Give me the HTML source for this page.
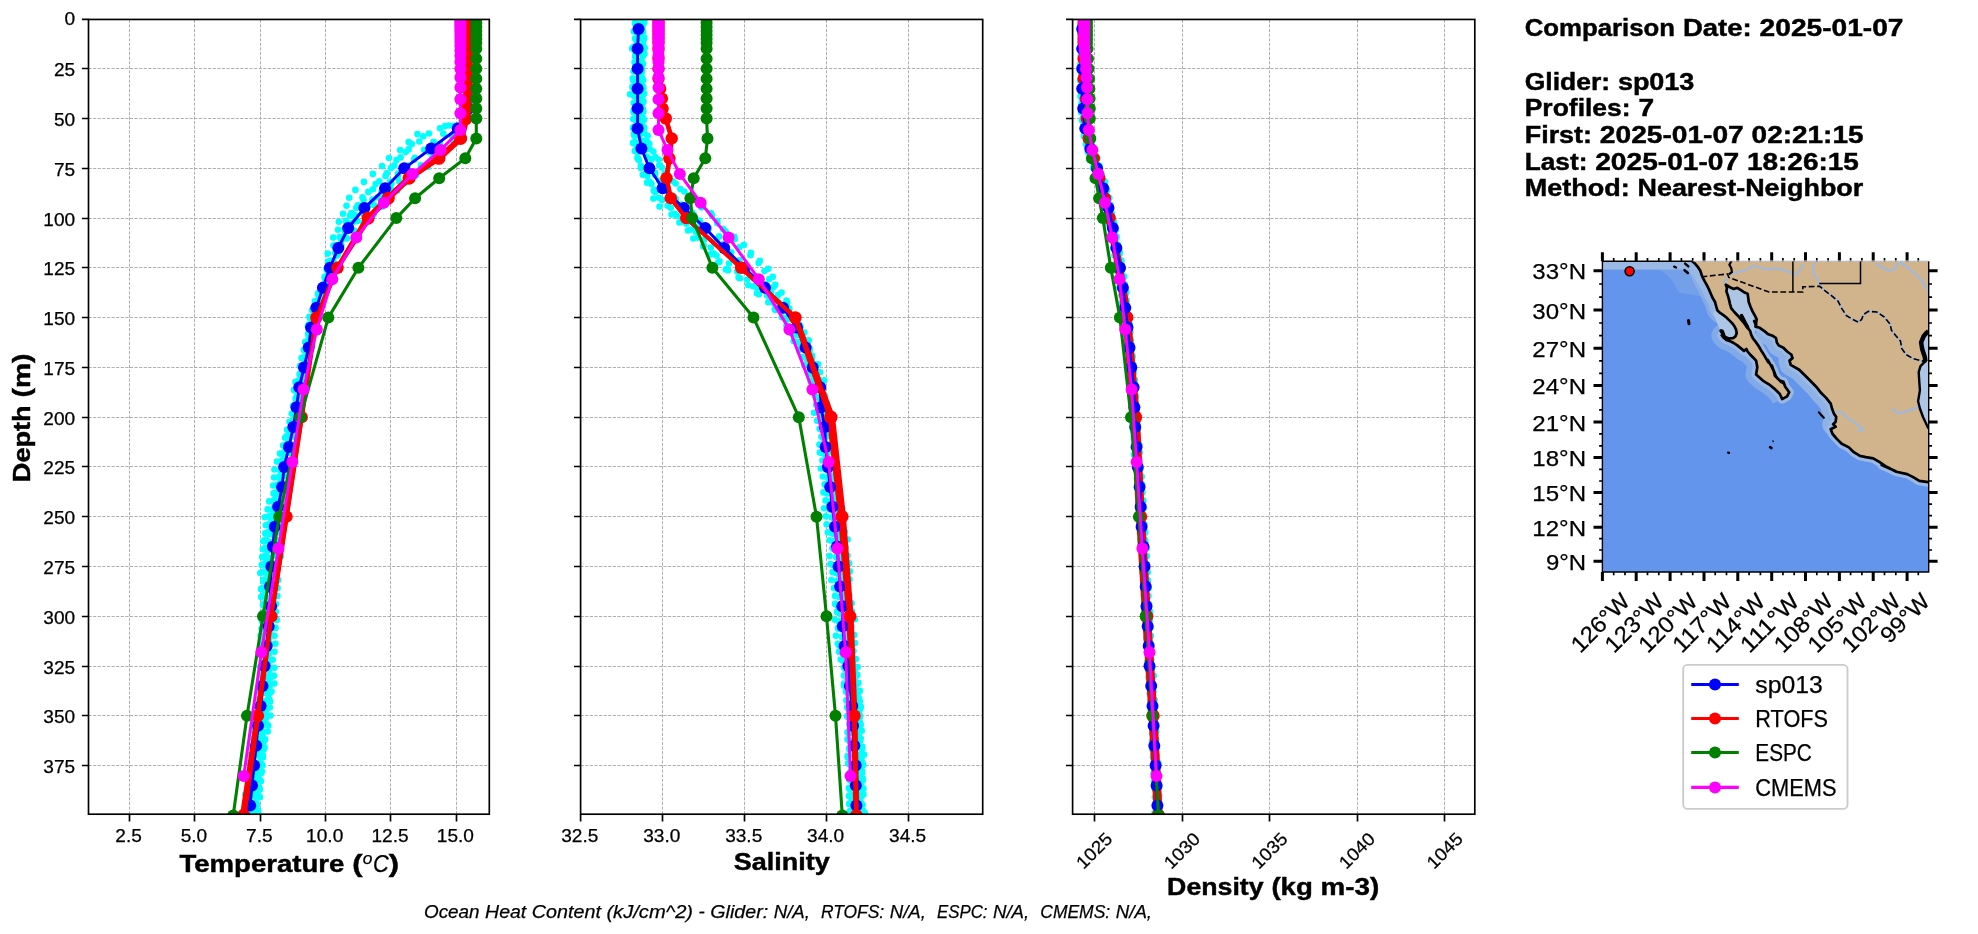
<!DOCTYPE html>
<html><head><meta charset="utf-8"><title>Glider model comparison</title><style>html,body{margin:0;padding:0;background:#fff}svg{display:block;will-change:transform}</style></head><body>
<svg width="1978" height="934" viewBox="0 0 1978 934" font-family="Liberation Sans, sans-serif" fill="#000">
<rect width="1978" height="934" fill="#fff"/>
<defs>
<clipPath id="c0"><rect x="88.5" y="19.45" width="400.8" height="794.75"/></clipPath>
<clipPath id="c1"><rect x="580.6" y="19.45" width="402.1" height="794.75"/></clipPath>
<clipPath id="c2"><rect x="1072.6" y="19.45" width="402.20000000000005" height="794.75"/></clipPath>
</defs>
<path d="M88.5 68.5H489.3M88.5 118.5H489.3M88.5 168.5H489.3M88.5 218.5H489.3M88.5 267.5H489.3M88.5 317.5H489.3M88.5 367.5H489.3M88.5 417.5H489.3M88.5 466.5H489.3M88.5 516.5H489.3M88.5 566.5H489.3M88.5 616.5H489.3M88.5 666.5H489.3M88.5 715.5H489.3M88.5 765.5H489.3M129.5 814.2V19.45M194.5 814.2V19.45M260.5 814.2V19.45M325.5 814.2V19.45M390.5 814.2V19.45M456.5 814.2V19.45" stroke="#a6a6a6" stroke-width="0.9" stroke-dasharray="3.2 1.4" fill="none"/>
<path d="M580.6 68.5H982.7M580.6 118.5H982.7M580.6 168.5H982.7M580.6 218.5H982.7M580.6 267.5H982.7M580.6 317.5H982.7M580.6 367.5H982.7M580.6 417.5H982.7M580.6 466.5H982.7M580.6 516.5H982.7M580.6 566.5H982.7M580.6 616.5H982.7M580.6 666.5H982.7M580.6 715.5H982.7M580.6 765.5H982.7M662.5 814.2V19.45M744.5 814.2V19.45M826.5 814.2V19.45M908.5 814.2V19.45" stroke="#a6a6a6" stroke-width="0.9" stroke-dasharray="3.2 1.4" fill="none"/>
<path d="M1072.6 68.5H1474.8M1072.6 118.5H1474.8M1072.6 168.5H1474.8M1072.6 218.5H1474.8M1072.6 267.5H1474.8M1072.6 317.5H1474.8M1072.6 367.5H1474.8M1072.6 417.5H1474.8M1072.6 466.5H1474.8M1072.6 516.5H1474.8M1072.6 566.5H1474.8M1072.6 616.5H1474.8M1072.6 666.5H1474.8M1072.6 715.5H1474.8M1072.6 765.5H1474.8M1094.5 814.2V19.45M1182.5 814.2V19.45M1269.5 814.2V19.45M1357.5 814.2V19.45M1444.5 814.2V19.45" stroke="#a6a6a6" stroke-width="0.9" stroke-dasharray="3.2 1.4" fill="none"/>
<g clip-path="url(#c0)">
<g fill="#00ffff"><circle cx="469.2" cy="23.6" r="3.3"/><circle cx="468.6" cy="31.5" r="3.3"/><circle cx="467.9" cy="39.5" r="3.3"/><circle cx="468.4" cy="47.4" r="3.3"/><circle cx="467.9" cy="55.4" r="3.3"/><circle cx="468.2" cy="63.4" r="3.3"/><circle cx="467.8" cy="71.3" r="3.3"/><circle cx="468.3" cy="79.3" r="3.3"/><circle cx="469.1" cy="87.3" r="3.3"/><circle cx="468.6" cy="95.2" r="3.3"/><circle cx="468.0" cy="103.2" r="3.3"/><circle cx="465.8" cy="111.2" r="3.3"/><circle cx="463.1" cy="119.1" r="3.3"/><circle cx="462.7" cy="127.1" r="3.3"/><circle cx="460.9" cy="135.0" r="3.3"/><circle cx="455.1" cy="143.0" r="3.3"/><circle cx="443.7" cy="151.0" r="3.3"/><circle cx="437.7" cy="158.9" r="3.3"/><circle cx="427.9" cy="166.9" r="3.3"/><circle cx="416.2" cy="174.9" r="3.3"/><circle cx="405.0" cy="182.8" r="3.3"/><circle cx="397.2" cy="190.8" r="3.3"/><circle cx="389.8" cy="198.8" r="3.3"/><circle cx="382.1" cy="206.7" r="3.3"/><circle cx="373.5" cy="214.7" r="3.3"/><circle cx="363.4" cy="222.7" r="3.3"/><circle cx="354.4" cy="230.6" r="3.3"/><circle cx="347.0" cy="238.6" r="3.3"/><circle cx="340.9" cy="246.5" r="3.3"/><circle cx="337.8" cy="254.5" r="3.3"/><circle cx="332.8" cy="262.5" r="3.3"/><circle cx="328.5" cy="270.4" r="3.3"/><circle cx="325.1" cy="278.4" r="3.3"/><circle cx="323.1" cy="286.4" r="3.3"/><circle cx="317.9" cy="294.3" r="3.3"/><circle cx="316.3" cy="302.3" r="3.3"/><circle cx="312.1" cy="310.3" r="3.3"/><circle cx="310.1" cy="318.2" r="3.3"/><circle cx="307.9" cy="326.2" r="3.3"/><circle cx="308.2" cy="334.1" r="3.3"/><circle cx="305.2" cy="342.1" r="3.3"/><circle cx="303.7" cy="350.1" r="3.3"/><circle cx="301.5" cy="358.0" r="3.3"/><circle cx="300.0" cy="366.0" r="3.3"/><circle cx="299.7" cy="374.0" r="3.3"/><circle cx="295.5" cy="381.9" r="3.3"/><circle cx="294.0" cy="389.9" r="3.3"/><circle cx="296.2" cy="397.9" r="3.3"/><circle cx="293.0" cy="405.8" r="3.3"/><circle cx="291.7" cy="413.8" r="3.3"/><circle cx="289.5" cy="421.8" r="3.3"/><circle cx="287.1" cy="429.7" r="3.3"/><circle cx="285.1" cy="437.7" r="3.3"/><circle cx="283.1" cy="445.6" r="3.3"/><circle cx="279.9" cy="453.6" r="3.3"/><circle cx="277.0" cy="461.6" r="3.3"/><circle cx="274.4" cy="469.5" r="3.3"/><circle cx="274.1" cy="477.5" r="3.3"/><circle cx="273.2" cy="485.5" r="3.3"/><circle cx="273.6" cy="493.4" r="3.3"/><circle cx="269.2" cy="501.4" r="3.3"/><circle cx="267.6" cy="509.4" r="3.3"/><circle cx="264.9" cy="517.3" r="3.3"/><circle cx="265.8" cy="525.3" r="3.3"/><circle cx="265.2" cy="533.2" r="3.3"/><circle cx="263.1" cy="541.2" r="3.3"/><circle cx="262.8" cy="549.2" r="3.3"/><circle cx="262.2" cy="557.1" r="3.3"/><circle cx="261.7" cy="565.1" r="3.3"/><circle cx="260.3" cy="573.1" r="3.3"/><circle cx="263.3" cy="581.0" r="3.3"/><circle cx="261.0" cy="589.0" r="3.3"/><circle cx="261.2" cy="597.0" r="3.3"/><circle cx="262.9" cy="604.9" r="3.3"/><circle cx="262.4" cy="612.9" r="3.3"/><circle cx="262.0" cy="620.9" r="3.3"/><circle cx="261.6" cy="628.8" r="3.3"/><circle cx="262.3" cy="636.8" r="3.3"/><circle cx="262.5" cy="644.7" r="3.3"/><circle cx="262.6" cy="652.7" r="3.3"/><circle cx="262.4" cy="660.7" r="3.3"/><circle cx="261.9" cy="668.6" r="3.3"/><circle cx="262.4" cy="676.6" r="3.3"/><circle cx="262.6" cy="684.6" r="3.3"/><circle cx="261.1" cy="692.5" r="3.3"/><circle cx="259.8" cy="700.5" r="3.3"/><circle cx="258.2" cy="708.5" r="3.3"/><circle cx="258.9" cy="716.4" r="3.3"/><circle cx="258.8" cy="724.4" r="3.3"/><circle cx="255.1" cy="732.3" r="3.3"/><circle cx="256.1" cy="740.3" r="3.3"/><circle cx="254.1" cy="748.3" r="3.3"/><circle cx="253.1" cy="756.2" r="3.3"/><circle cx="253.4" cy="764.2" r="3.3"/><circle cx="253.8" cy="772.2" r="3.3"/><circle cx="249.3" cy="780.1" r="3.3"/><circle cx="250.4" cy="788.1" r="3.3"/><circle cx="249.6" cy="796.1" r="3.3"/><circle cx="248.2" cy="804.0" r="3.3"/><circle cx="248.2" cy="812.0" r="3.3"/><circle cx="468.8" cy="22.0" r="3.3"/><circle cx="467.7" cy="30.0" r="3.3"/><circle cx="466.8" cy="37.9" r="3.3"/><circle cx="468.6" cy="45.9" r="3.3"/><circle cx="469.1" cy="53.9" r="3.3"/><circle cx="467.1" cy="61.8" r="3.3"/><circle cx="466.2" cy="69.8" r="3.3"/><circle cx="467.4" cy="77.8" r="3.3"/><circle cx="467.4" cy="85.7" r="3.3"/><circle cx="467.1" cy="93.7" r="3.3"/><circle cx="468.5" cy="101.6" r="3.3"/><circle cx="465.4" cy="109.6" r="3.3"/><circle cx="463.7" cy="117.6" r="3.3"/><circle cx="458.7" cy="125.5" r="3.3"/><circle cx="457.2" cy="133.5" r="3.3"/><circle cx="453.5" cy="141.5" r="3.3"/><circle cx="443.4" cy="149.4" r="3.3"/><circle cx="432.4" cy="157.4" r="3.3"/><circle cx="420.9" cy="165.4" r="3.3"/><circle cx="409.5" cy="173.3" r="3.3"/><circle cx="399.0" cy="181.3" r="3.3"/><circle cx="391.4" cy="189.3" r="3.3"/><circle cx="382.6" cy="197.2" r="3.3"/><circle cx="374.4" cy="205.2" r="3.3"/><circle cx="365.9" cy="213.1" r="3.3"/><circle cx="357.3" cy="221.1" r="3.3"/><circle cx="350.6" cy="229.1" r="3.3"/><circle cx="344.2" cy="237.0" r="3.3"/><circle cx="341.2" cy="245.0" r="3.3"/><circle cx="335.2" cy="253.0" r="3.3"/><circle cx="330.9" cy="260.9" r="3.3"/><circle cx="327.4" cy="268.9" r="3.3"/><circle cx="324.7" cy="276.9" r="3.3"/><circle cx="322.8" cy="284.8" r="3.3"/><circle cx="318.8" cy="292.8" r="3.3"/><circle cx="317.0" cy="300.7" r="3.3"/><circle cx="315.9" cy="308.7" r="3.3"/><circle cx="309.4" cy="316.7" r="3.3"/><circle cx="308.8" cy="324.6" r="3.3"/><circle cx="308.9" cy="332.6" r="3.3"/><circle cx="308.2" cy="340.6" r="3.3"/><circle cx="307.0" cy="348.5" r="3.3"/><circle cx="304.5" cy="356.5" r="3.3"/><circle cx="303.7" cy="364.5" r="3.3"/><circle cx="301.6" cy="372.4" r="3.3"/><circle cx="298.9" cy="380.4" r="3.3"/><circle cx="300.2" cy="388.4" r="3.3"/><circle cx="297.1" cy="396.3" r="3.3"/><circle cx="295.1" cy="404.3" r="3.3"/><circle cx="294.4" cy="412.2" r="3.3"/><circle cx="293.0" cy="420.2" r="3.3"/><circle cx="291.6" cy="428.2" r="3.3"/><circle cx="287.0" cy="436.1" r="3.3"/><circle cx="287.2" cy="444.1" r="3.3"/><circle cx="286.7" cy="452.1" r="3.3"/><circle cx="282.4" cy="460.0" r="3.3"/><circle cx="281.4" cy="468.0" r="3.3"/><circle cx="281.3" cy="476.0" r="3.3"/><circle cx="280.1" cy="483.9" r="3.3"/><circle cx="279.4" cy="491.9" r="3.3"/><circle cx="274.4" cy="499.8" r="3.3"/><circle cx="273.9" cy="507.8" r="3.3"/><circle cx="272.2" cy="515.8" r="3.3"/><circle cx="271.6" cy="523.7" r="3.3"/><circle cx="270.7" cy="531.7" r="3.3"/><circle cx="266.0" cy="539.7" r="3.3"/><circle cx="268.9" cy="547.6" r="3.3"/><circle cx="265.6" cy="555.6" r="3.3"/><circle cx="266.9" cy="563.6" r="3.3"/><circle cx="264.0" cy="571.5" r="3.3"/><circle cx="265.0" cy="579.5" r="3.3"/><circle cx="265.3" cy="587.5" r="3.3"/><circle cx="263.8" cy="595.4" r="3.3"/><circle cx="264.3" cy="603.4" r="3.3"/><circle cx="265.1" cy="611.3" r="3.3"/><circle cx="263.6" cy="619.3" r="3.3"/><circle cx="263.0" cy="627.3" r="3.3"/><circle cx="264.2" cy="635.2" r="3.3"/><circle cx="263.4" cy="643.2" r="3.3"/><circle cx="261.8" cy="651.2" r="3.3"/><circle cx="264.5" cy="659.1" r="3.3"/><circle cx="260.3" cy="667.1" r="3.3"/><circle cx="262.1" cy="675.1" r="3.3"/><circle cx="259.9" cy="683.0" r="3.3"/><circle cx="259.3" cy="691.0" r="3.3"/><circle cx="258.9" cy="698.9" r="3.3"/><circle cx="257.4" cy="706.9" r="3.3"/><circle cx="256.6" cy="714.9" r="3.3"/><circle cx="253.2" cy="722.8" r="3.3"/><circle cx="252.1" cy="730.8" r="3.3"/><circle cx="253.3" cy="738.8" r="3.3"/><circle cx="250.8" cy="746.7" r="3.3"/><circle cx="249.8" cy="754.7" r="3.3"/><circle cx="248.4" cy="762.7" r="3.3"/><circle cx="250.1" cy="770.6" r="3.3"/><circle cx="248.7" cy="778.6" r="3.3"/><circle cx="248.5" cy="786.6" r="3.3"/><circle cx="245.3" cy="794.5" r="3.3"/><circle cx="245.4" cy="802.5" r="3.3"/><circle cx="244.1" cy="810.4" r="3.3"/><circle cx="468.9" cy="22.3" r="3.3"/><circle cx="465.5" cy="30.2" r="3.3"/><circle cx="467.3" cy="38.2" r="3.3"/><circle cx="468.7" cy="46.2" r="3.3"/><circle cx="469.7" cy="54.1" r="3.3"/><circle cx="467.6" cy="62.1" r="3.3"/><circle cx="468.4" cy="70.1" r="3.3"/><circle cx="468.7" cy="78.0" r="3.3"/><circle cx="469.5" cy="86.0" r="3.3"/><circle cx="469.9" cy="94.0" r="3.3"/><circle cx="468.2" cy="101.9" r="3.3"/><circle cx="466.6" cy="109.9" r="3.3"/><circle cx="463.8" cy="117.9" r="3.3"/><circle cx="453.8" cy="125.8" r="3.3"/><circle cx="443.3" cy="133.8" r="3.3"/><circle cx="433.5" cy="141.7" r="3.3"/><circle cx="424.1" cy="149.7" r="3.3"/><circle cx="414.7" cy="157.7" r="3.3"/><circle cx="407.7" cy="165.6" r="3.3"/><circle cx="397.9" cy="173.6" r="3.3"/><circle cx="390.1" cy="181.6" r="3.3"/><circle cx="383.0" cy="189.5" r="3.3"/><circle cx="377.5" cy="197.5" r="3.3"/><circle cx="368.7" cy="205.5" r="3.3"/><circle cx="363.4" cy="213.4" r="3.3"/><circle cx="354.7" cy="221.4" r="3.3"/><circle cx="350.0" cy="229.3" r="3.3"/><circle cx="345.9" cy="237.3" r="3.3"/><circle cx="341.0" cy="245.3" r="3.3"/><circle cx="338.1" cy="253.2" r="3.3"/><circle cx="333.3" cy="261.2" r="3.3"/><circle cx="330.1" cy="269.2" r="3.3"/><circle cx="327.0" cy="277.1" r="3.3"/><circle cx="325.0" cy="285.1" r="3.3"/><circle cx="322.8" cy="293.1" r="3.3"/><circle cx="318.9" cy="301.0" r="3.3"/><circle cx="315.5" cy="309.0" r="3.3"/><circle cx="314.9" cy="317.0" r="3.3"/><circle cx="313.3" cy="324.9" r="3.3"/><circle cx="310.2" cy="332.9" r="3.3"/><circle cx="310.9" cy="340.8" r="3.3"/><circle cx="308.3" cy="348.8" r="3.3"/><circle cx="305.7" cy="356.8" r="3.3"/><circle cx="304.7" cy="364.7" r="3.3"/><circle cx="304.0" cy="372.7" r="3.3"/><circle cx="301.1" cy="380.7" r="3.3"/><circle cx="299.1" cy="388.6" r="3.3"/><circle cx="297.9" cy="396.6" r="3.3"/><circle cx="296.7" cy="404.6" r="3.3"/><circle cx="294.6" cy="412.5" r="3.3"/><circle cx="292.2" cy="420.5" r="3.3"/><circle cx="292.2" cy="428.4" r="3.3"/><circle cx="288.9" cy="436.4" r="3.3"/><circle cx="287.3" cy="444.4" r="3.3"/><circle cx="284.1" cy="452.3" r="3.3"/><circle cx="282.9" cy="460.3" r="3.3"/><circle cx="281.3" cy="468.3" r="3.3"/><circle cx="279.5" cy="476.2" r="3.3"/><circle cx="278.0" cy="484.2" r="3.3"/><circle cx="276.4" cy="492.2" r="3.3"/><circle cx="274.4" cy="500.1" r="3.3"/><circle cx="274.4" cy="508.1" r="3.3"/><circle cx="269.6" cy="516.1" r="3.3"/><circle cx="269.2" cy="524.0" r="3.3"/><circle cx="268.4" cy="532.0" r="3.3"/><circle cx="265.1" cy="539.9" r="3.3"/><circle cx="265.2" cy="547.9" r="3.3"/><circle cx="266.2" cy="555.9" r="3.3"/><circle cx="263.8" cy="563.8" r="3.3"/><circle cx="264.3" cy="571.8" r="3.3"/><circle cx="263.3" cy="579.8" r="3.3"/><circle cx="262.4" cy="587.7" r="3.3"/><circle cx="262.6" cy="595.7" r="3.3"/><circle cx="263.8" cy="603.7" r="3.3"/><circle cx="264.7" cy="611.6" r="3.3"/><circle cx="262.0" cy="619.6" r="3.3"/><circle cx="264.1" cy="627.5" r="3.3"/><circle cx="260.6" cy="635.5" r="3.3"/><circle cx="262.1" cy="643.5" r="3.3"/><circle cx="263.3" cy="651.4" r="3.3"/><circle cx="263.8" cy="659.4" r="3.3"/><circle cx="261.3" cy="667.4" r="3.3"/><circle cx="262.2" cy="675.3" r="3.3"/><circle cx="261.5" cy="683.3" r="3.3"/><circle cx="260.0" cy="691.3" r="3.3"/><circle cx="259.8" cy="699.2" r="3.3"/><circle cx="259.0" cy="707.2" r="3.3"/><circle cx="258.4" cy="715.2" r="3.3"/><circle cx="256.2" cy="723.1" r="3.3"/><circle cx="254.6" cy="731.1" r="3.3"/><circle cx="256.0" cy="739.0" r="3.3"/><circle cx="254.5" cy="747.0" r="3.3"/><circle cx="253.8" cy="755.0" r="3.3"/><circle cx="251.9" cy="762.9" r="3.3"/><circle cx="253.9" cy="770.9" r="3.3"/><circle cx="253.5" cy="778.9" r="3.3"/><circle cx="251.9" cy="786.8" r="3.3"/><circle cx="250.4" cy="794.8" r="3.3"/><circle cx="250.9" cy="802.8" r="3.3"/><circle cx="249.4" cy="810.7" r="3.3"/><circle cx="469.8" cy="24.3" r="3.3"/><circle cx="470.2" cy="32.2" r="3.3"/><circle cx="468.4" cy="40.2" r="3.3"/><circle cx="469.3" cy="48.2" r="3.3"/><circle cx="469.7" cy="56.1" r="3.3"/><circle cx="470.3" cy="64.1" r="3.3"/><circle cx="469.5" cy="72.1" r="3.3"/><circle cx="469.4" cy="80.0" r="3.3"/><circle cx="468.6" cy="88.0" r="3.3"/><circle cx="469.1" cy="96.0" r="3.3"/><circle cx="470.2" cy="103.9" r="3.3"/><circle cx="467.5" cy="111.9" r="3.3"/><circle cx="462.2" cy="119.8" r="3.3"/><circle cx="458.2" cy="127.8" r="3.3"/><circle cx="451.8" cy="135.8" r="3.3"/><circle cx="439.8" cy="143.7" r="3.3"/><circle cx="428.5" cy="151.7" r="3.3"/><circle cx="414.2" cy="159.7" r="3.3"/><circle cx="406.3" cy="167.6" r="3.3"/><circle cx="398.2" cy="175.6" r="3.3"/><circle cx="391.4" cy="183.6" r="3.3"/><circle cx="381.7" cy="191.5" r="3.3"/><circle cx="372.4" cy="199.5" r="3.3"/><circle cx="364.6" cy="207.4" r="3.3"/><circle cx="355.1" cy="215.4" r="3.3"/><circle cx="351.2" cy="223.4" r="3.3"/><circle cx="346.1" cy="231.3" r="3.3"/><circle cx="340.9" cy="239.3" r="3.3"/><circle cx="339.2" cy="247.3" r="3.3"/><circle cx="336.3" cy="255.2" r="3.3"/><circle cx="329.7" cy="263.2" r="3.3"/><circle cx="327.6" cy="271.2" r="3.3"/><circle cx="325.8" cy="279.1" r="3.3"/><circle cx="322.8" cy="287.1" r="3.3"/><circle cx="319.4" cy="295.1" r="3.3"/><circle cx="316.0" cy="303.0" r="3.3"/><circle cx="316.9" cy="311.0" r="3.3"/><circle cx="313.6" cy="318.9" r="3.3"/><circle cx="309.7" cy="326.9" r="3.3"/><circle cx="308.5" cy="334.9" r="3.3"/><circle cx="310.5" cy="342.8" r="3.3"/><circle cx="307.7" cy="350.8" r="3.3"/><circle cx="306.6" cy="358.8" r="3.3"/><circle cx="303.6" cy="366.7" r="3.3"/><circle cx="299.9" cy="374.7" r="3.3"/><circle cx="299.2" cy="382.7" r="3.3"/><circle cx="295.5" cy="390.6" r="3.3"/><circle cx="295.7" cy="398.6" r="3.3"/><circle cx="295.1" cy="406.5" r="3.3"/><circle cx="294.4" cy="414.5" r="3.3"/><circle cx="291.6" cy="422.5" r="3.3"/><circle cx="290.2" cy="430.4" r="3.3"/><circle cx="288.7" cy="438.4" r="3.3"/><circle cx="286.5" cy="446.4" r="3.3"/><circle cx="284.6" cy="454.3" r="3.3"/><circle cx="282.0" cy="462.3" r="3.3"/><circle cx="280.2" cy="470.3" r="3.3"/><circle cx="280.2" cy="478.2" r="3.3"/><circle cx="278.1" cy="486.2" r="3.3"/><circle cx="275.4" cy="494.2" r="3.3"/><circle cx="273.7" cy="502.1" r="3.3"/><circle cx="272.7" cy="510.1" r="3.3"/><circle cx="271.0" cy="518.0" r="3.3"/><circle cx="269.9" cy="526.0" r="3.3"/><circle cx="269.0" cy="534.0" r="3.3"/><circle cx="268.4" cy="541.9" r="3.3"/><circle cx="267.5" cy="549.9" r="3.3"/><circle cx="265.8" cy="557.9" r="3.3"/><circle cx="267.0" cy="565.8" r="3.3"/><circle cx="267.2" cy="573.8" r="3.3"/><circle cx="266.1" cy="581.8" r="3.3"/><circle cx="265.5" cy="589.7" r="3.3"/><circle cx="266.7" cy="597.7" r="3.3"/><circle cx="265.8" cy="605.6" r="3.3"/><circle cx="264.2" cy="613.6" r="3.3"/><circle cx="265.8" cy="621.6" r="3.3"/><circle cx="264.8" cy="629.5" r="3.3"/><circle cx="266.5" cy="637.5" r="3.3"/><circle cx="264.8" cy="645.5" r="3.3"/><circle cx="263.3" cy="653.4" r="3.3"/><circle cx="264.9" cy="661.4" r="3.3"/><circle cx="267.6" cy="669.4" r="3.3"/><circle cx="265.6" cy="677.3" r="3.3"/><circle cx="263.9" cy="685.3" r="3.3"/><circle cx="263.8" cy="693.3" r="3.3"/><circle cx="264.5" cy="701.2" r="3.3"/><circle cx="263.6" cy="709.2" r="3.3"/><circle cx="262.4" cy="717.1" r="3.3"/><circle cx="262.8" cy="725.1" r="3.3"/><circle cx="261.4" cy="733.1" r="3.3"/><circle cx="260.0" cy="741.0" r="3.3"/><circle cx="259.9" cy="749.0" r="3.3"/><circle cx="260.2" cy="757.0" r="3.3"/><circle cx="258.7" cy="764.9" r="3.3"/><circle cx="258.0" cy="772.9" r="3.3"/><circle cx="255.1" cy="780.9" r="3.3"/><circle cx="255.4" cy="788.8" r="3.3"/><circle cx="255.5" cy="796.8" r="3.3"/><circle cx="254.2" cy="804.7" r="3.3"/><circle cx="255.6" cy="812.7" r="3.3"/><circle cx="472.6" cy="22.0" r="3.3"/><circle cx="469.3" cy="30.0" r="3.3"/><circle cx="469.2" cy="37.9" r="3.3"/><circle cx="469.6" cy="45.9" r="3.3"/><circle cx="470.7" cy="53.9" r="3.3"/><circle cx="469.6" cy="61.8" r="3.3"/><circle cx="469.7" cy="69.8" r="3.3"/><circle cx="469.7" cy="77.8" r="3.3"/><circle cx="468.8" cy="85.7" r="3.3"/><circle cx="470.2" cy="93.7" r="3.3"/><circle cx="468.5" cy="101.6" r="3.3"/><circle cx="468.4" cy="109.6" r="3.3"/><circle cx="463.2" cy="117.6" r="3.3"/><circle cx="448.8" cy="125.5" r="3.3"/><circle cx="428.9" cy="133.5" r="3.3"/><circle cx="419.3" cy="141.5" r="3.3"/><circle cx="408.6" cy="149.4" r="3.3"/><circle cx="400.6" cy="157.4" r="3.3"/><circle cx="394.3" cy="165.4" r="3.3"/><circle cx="386.7" cy="173.3" r="3.3"/><circle cx="379.3" cy="181.3" r="3.3"/><circle cx="372.9" cy="189.3" r="3.3"/><circle cx="362.5" cy="197.2" r="3.3"/><circle cx="357.9" cy="205.2" r="3.3"/><circle cx="351.4" cy="213.1" r="3.3"/><circle cx="345.8" cy="221.1" r="3.3"/><circle cx="344.5" cy="229.1" r="3.3"/><circle cx="339.7" cy="237.0" r="3.3"/><circle cx="335.8" cy="245.0" r="3.3"/><circle cx="336.7" cy="253.0" r="3.3"/><circle cx="332.1" cy="260.9" r="3.3"/><circle cx="329.7" cy="268.9" r="3.3"/><circle cx="325.7" cy="276.9" r="3.3"/><circle cx="322.9" cy="284.8" r="3.3"/><circle cx="321.6" cy="292.8" r="3.3"/><circle cx="316.2" cy="300.7" r="3.3"/><circle cx="314.5" cy="308.7" r="3.3"/><circle cx="312.5" cy="316.7" r="3.3"/><circle cx="311.8" cy="324.6" r="3.3"/><circle cx="310.2" cy="332.6" r="3.3"/><circle cx="308.6" cy="340.6" r="3.3"/><circle cx="308.3" cy="348.5" r="3.3"/><circle cx="307.5" cy="356.5" r="3.3"/><circle cx="303.2" cy="364.5" r="3.3"/><circle cx="303.5" cy="372.4" r="3.3"/><circle cx="299.9" cy="380.4" r="3.3"/><circle cx="300.9" cy="388.4" r="3.3"/><circle cx="297.7" cy="396.3" r="3.3"/><circle cx="297.2" cy="404.3" r="3.3"/><circle cx="295.6" cy="412.2" r="3.3"/><circle cx="295.5" cy="420.2" r="3.3"/><circle cx="293.4" cy="428.2" r="3.3"/><circle cx="291.1" cy="436.1" r="3.3"/><circle cx="289.9" cy="444.1" r="3.3"/><circle cx="288.3" cy="452.1" r="3.3"/><circle cx="284.6" cy="460.0" r="3.3"/><circle cx="283.9" cy="468.0" r="3.3"/><circle cx="283.1" cy="476.0" r="3.3"/><circle cx="282.4" cy="483.9" r="3.3"/><circle cx="280.2" cy="491.9" r="3.3"/><circle cx="281.5" cy="499.8" r="3.3"/><circle cx="278.4" cy="507.8" r="3.3"/><circle cx="277.0" cy="515.8" r="3.3"/><circle cx="275.1" cy="523.7" r="3.3"/><circle cx="274.3" cy="531.7" r="3.3"/><circle cx="274.8" cy="539.7" r="3.3"/><circle cx="276.0" cy="547.6" r="3.3"/><circle cx="274.6" cy="555.6" r="3.3"/><circle cx="273.4" cy="563.6" r="3.3"/><circle cx="273.2" cy="571.5" r="3.3"/><circle cx="272.1" cy="579.5" r="3.3"/><circle cx="274.3" cy="587.5" r="3.3"/><circle cx="273.4" cy="595.4" r="3.3"/><circle cx="274.3" cy="603.4" r="3.3"/><circle cx="272.8" cy="611.3" r="3.3"/><circle cx="270.8" cy="619.3" r="3.3"/><circle cx="269.9" cy="627.3" r="3.3"/><circle cx="271.3" cy="635.2" r="3.3"/><circle cx="269.6" cy="643.2" r="3.3"/><circle cx="268.6" cy="651.2" r="3.3"/><circle cx="268.8" cy="659.1" r="3.3"/><circle cx="268.7" cy="667.1" r="3.3"/><circle cx="269.9" cy="675.1" r="3.3"/><circle cx="268.7" cy="683.0" r="3.3"/><circle cx="267.5" cy="691.0" r="3.3"/><circle cx="268.2" cy="698.9" r="3.3"/><circle cx="265.0" cy="706.9" r="3.3"/><circle cx="265.4" cy="714.9" r="3.3"/><circle cx="263.2" cy="722.8" r="3.3"/><circle cx="261.9" cy="730.8" r="3.3"/><circle cx="260.8" cy="738.8" r="3.3"/><circle cx="261.4" cy="746.7" r="3.3"/><circle cx="258.3" cy="754.7" r="3.3"/><circle cx="256.4" cy="762.7" r="3.3"/><circle cx="256.4" cy="770.6" r="3.3"/><circle cx="256.8" cy="778.6" r="3.3"/><circle cx="253.5" cy="786.6" r="3.3"/><circle cx="253.9" cy="794.5" r="3.3"/><circle cx="254.3" cy="802.5" r="3.3"/><circle cx="254.0" cy="810.4" r="3.3"/><circle cx="471.4" cy="24.7" r="3.3"/><circle cx="470.5" cy="32.7" r="3.3"/><circle cx="471.5" cy="40.6" r="3.3"/><circle cx="468.1" cy="48.6" r="3.3"/><circle cx="469.8" cy="56.5" r="3.3"/><circle cx="470.8" cy="64.5" r="3.3"/><circle cx="471.2" cy="72.5" r="3.3"/><circle cx="473.0" cy="80.4" r="3.3"/><circle cx="471.0" cy="88.4" r="3.3"/><circle cx="471.8" cy="96.4" r="3.3"/><circle cx="471.1" cy="104.3" r="3.3"/><circle cx="469.2" cy="112.3" r="3.3"/><circle cx="461.8" cy="120.3" r="3.3"/><circle cx="440.0" cy="128.2" r="3.3"/><circle cx="423.2" cy="136.2" r="3.3"/><circle cx="411.8" cy="144.1" r="3.3"/><circle cx="405.6" cy="152.1" r="3.3"/><circle cx="396.5" cy="160.1" r="3.3"/><circle cx="390.9" cy="168.0" r="3.3"/><circle cx="385.5" cy="176.0" r="3.3"/><circle cx="375.6" cy="184.0" r="3.3"/><circle cx="368.3" cy="191.9" r="3.3"/><circle cx="363.5" cy="199.9" r="3.3"/><circle cx="356.3" cy="207.9" r="3.3"/><circle cx="350.0" cy="215.8" r="3.3"/><circle cx="347.7" cy="223.8" r="3.3"/><circle cx="344.8" cy="231.8" r="3.3"/><circle cx="341.7" cy="239.7" r="3.3"/><circle cx="337.4" cy="247.7" r="3.3"/><circle cx="337.0" cy="255.6" r="3.3"/><circle cx="334.1" cy="263.6" r="3.3"/><circle cx="329.9" cy="271.6" r="3.3"/><circle cx="327.5" cy="279.5" r="3.3"/><circle cx="324.1" cy="287.5" r="3.3"/><circle cx="323.2" cy="295.5" r="3.3"/><circle cx="318.4" cy="303.4" r="3.3"/><circle cx="317.6" cy="311.4" r="3.3"/><circle cx="314.2" cy="319.4" r="3.3"/><circle cx="312.5" cy="327.3" r="3.3"/><circle cx="312.9" cy="335.3" r="3.3"/><circle cx="312.2" cy="343.2" r="3.3"/><circle cx="308.8" cy="351.2" r="3.3"/><circle cx="306.1" cy="359.2" r="3.3"/><circle cx="305.6" cy="367.1" r="3.3"/><circle cx="302.7" cy="375.1" r="3.3"/><circle cx="301.2" cy="383.1" r="3.3"/><circle cx="301.2" cy="391.0" r="3.3"/><circle cx="299.5" cy="399.0" r="3.3"/><circle cx="296.5" cy="407.0" r="3.3"/><circle cx="297.9" cy="414.9" r="3.3"/><circle cx="293.8" cy="422.9" r="3.3"/><circle cx="292.6" cy="430.9" r="3.3"/><circle cx="289.1" cy="438.8" r="3.3"/><circle cx="287.6" cy="446.8" r="3.3"/><circle cx="283.8" cy="454.7" r="3.3"/><circle cx="285.9" cy="462.7" r="3.3"/><circle cx="284.5" cy="470.7" r="3.3"/><circle cx="280.7" cy="478.6" r="3.3"/><circle cx="278.6" cy="486.6" r="3.3"/><circle cx="276.7" cy="494.6" r="3.3"/><circle cx="277.9" cy="502.5" r="3.3"/><circle cx="274.8" cy="510.5" r="3.3"/><circle cx="273.9" cy="518.5" r="3.3"/><circle cx="272.9" cy="526.4" r="3.3"/><circle cx="272.5" cy="534.4" r="3.3"/><circle cx="270.9" cy="542.3" r="3.3"/><circle cx="271.4" cy="550.3" r="3.3"/><circle cx="269.4" cy="558.3" r="3.3"/><circle cx="270.3" cy="566.2" r="3.3"/><circle cx="270.3" cy="574.2" r="3.3"/><circle cx="270.5" cy="582.2" r="3.3"/><circle cx="270.3" cy="590.1" r="3.3"/><circle cx="270.2" cy="598.1" r="3.3"/><circle cx="270.4" cy="606.1" r="3.3"/><circle cx="269.0" cy="614.0" r="3.3"/><circle cx="270.9" cy="622.0" r="3.3"/><circle cx="270.1" cy="630.0" r="3.3"/><circle cx="269.4" cy="637.9" r="3.3"/><circle cx="269.1" cy="645.9" r="3.3"/><circle cx="269.0" cy="653.8" r="3.3"/><circle cx="268.8" cy="661.8" r="3.3"/><circle cx="269.5" cy="669.8" r="3.3"/><circle cx="270.1" cy="677.7" r="3.3"/><circle cx="269.7" cy="685.7" r="3.3"/><circle cx="269.2" cy="693.7" r="3.3"/><circle cx="270.1" cy="701.6" r="3.3"/><circle cx="266.4" cy="709.6" r="3.3"/><circle cx="266.2" cy="717.6" r="3.3"/><circle cx="268.3" cy="725.5" r="3.3"/><circle cx="263.0" cy="733.5" r="3.3"/><circle cx="263.7" cy="741.4" r="3.3"/><circle cx="263.7" cy="749.4" r="3.3"/><circle cx="262.9" cy="757.4" r="3.3"/><circle cx="262.5" cy="765.3" r="3.3"/><circle cx="261.0" cy="773.3" r="3.3"/><circle cx="260.9" cy="781.3" r="3.3"/><circle cx="259.9" cy="789.2" r="3.3"/><circle cx="259.9" cy="797.2" r="3.3"/><circle cx="257.1" cy="805.2" r="3.3"/><circle cx="258.1" cy="813.1" r="3.3"/><circle cx="470.3" cy="22.6" r="3.3"/><circle cx="471.1" cy="30.6" r="3.3"/><circle cx="471.0" cy="38.5" r="3.3"/><circle cx="471.4" cy="46.5" r="3.3"/><circle cx="470.6" cy="54.5" r="3.3"/><circle cx="473.6" cy="62.4" r="3.3"/><circle cx="471.8" cy="70.4" r="3.3"/><circle cx="471.8" cy="78.4" r="3.3"/><circle cx="469.5" cy="86.3" r="3.3"/><circle cx="469.2" cy="94.3" r="3.3"/><circle cx="470.6" cy="102.2" r="3.3"/><circle cx="470.1" cy="110.2" r="3.3"/><circle cx="463.6" cy="118.2" r="3.3"/><circle cx="445.1" cy="126.1" r="3.3"/><circle cx="417.4" cy="134.1" r="3.3"/><circle cx="408.6" cy="142.1" r="3.3"/><circle cx="400.2" cy="150.0" r="3.3"/><circle cx="389.0" cy="158.0" r="3.3"/><circle cx="382.1" cy="166.0" r="3.3"/><circle cx="372.8" cy="173.9" r="3.3"/><circle cx="363.9" cy="181.9" r="3.3"/><circle cx="355.4" cy="189.9" r="3.3"/><circle cx="349.2" cy="197.8" r="3.3"/><circle cx="346.5" cy="205.8" r="3.3"/><circle cx="343.0" cy="213.7" r="3.3"/><circle cx="338.8" cy="221.7" r="3.3"/><circle cx="338.0" cy="229.7" r="3.3"/><circle cx="333.2" cy="237.6" r="3.3"/><circle cx="333.4" cy="245.6" r="3.3"/><circle cx="327.7" cy="253.6" r="3.3"/><circle cx="328.0" cy="261.5" r="3.3"/><circle cx="326.6" cy="269.5" r="3.3"/><circle cx="325.0" cy="277.5" r="3.3"/><circle cx="322.8" cy="285.4" r="3.3"/><circle cx="318.3" cy="293.4" r="3.3"/><circle cx="314.9" cy="301.3" r="3.3"/><circle cx="314.9" cy="309.3" r="3.3"/><circle cx="311.9" cy="317.3" r="3.3"/><circle cx="312.6" cy="325.2" r="3.3"/><circle cx="310.6" cy="333.2" r="3.3"/><circle cx="310.0" cy="341.2" r="3.3"/><circle cx="308.5" cy="349.1" r="3.3"/><circle cx="307.0" cy="357.1" r="3.3"/><circle cx="304.4" cy="365.1" r="3.3"/><circle cx="304.7" cy="373.0" r="3.3"/><circle cx="301.3" cy="381.0" r="3.3"/><circle cx="300.8" cy="389.0" r="3.3"/><circle cx="300.4" cy="396.9" r="3.3"/><circle cx="298.8" cy="404.9" r="3.3"/><circle cx="299.1" cy="412.8" r="3.3"/><circle cx="296.3" cy="420.8" r="3.3"/><circle cx="294.4" cy="428.8" r="3.3"/><circle cx="294.4" cy="436.7" r="3.3"/><circle cx="292.2" cy="444.7" r="3.3"/><circle cx="289.1" cy="452.7" r="3.3"/><circle cx="287.9" cy="460.6" r="3.3"/><circle cx="288.0" cy="468.6" r="3.3"/><circle cx="288.5" cy="476.6" r="3.3"/><circle cx="286.9" cy="484.5" r="3.3"/><circle cx="284.7" cy="492.5" r="3.3"/><circle cx="280.9" cy="500.4" r="3.3"/><circle cx="282.8" cy="508.4" r="3.3"/><circle cx="279.7" cy="516.4" r="3.3"/><circle cx="278.7" cy="524.3" r="3.3"/><circle cx="279.3" cy="532.3" r="3.3"/><circle cx="279.6" cy="540.3" r="3.3"/><circle cx="279.0" cy="548.2" r="3.3"/><circle cx="280.9" cy="556.2" r="3.3"/><circle cx="277.5" cy="564.2" r="3.3"/><circle cx="276.4" cy="572.1" r="3.3"/><circle cx="278.2" cy="580.1" r="3.3"/><circle cx="277.6" cy="588.1" r="3.3"/><circle cx="277.4" cy="596.0" r="3.3"/><circle cx="276.0" cy="604.0" r="3.3"/><circle cx="275.8" cy="611.9" r="3.3"/><circle cx="276.7" cy="619.9" r="3.3"/><circle cx="275.6" cy="627.9" r="3.3"/><circle cx="274.5" cy="635.8" r="3.3"/><circle cx="275.4" cy="643.8" r="3.3"/><circle cx="274.5" cy="651.8" r="3.3"/><circle cx="272.7" cy="659.7" r="3.3"/><circle cx="274.5" cy="667.7" r="3.3"/><circle cx="274.1" cy="675.7" r="3.3"/><circle cx="274.3" cy="683.6" r="3.3"/><circle cx="271.5" cy="691.6" r="3.3"/><circle cx="269.2" cy="699.5" r="3.3"/><circle cx="269.8" cy="707.5" r="3.3"/><circle cx="270.4" cy="715.5" r="3.3"/><circle cx="266.2" cy="723.4" r="3.3"/><circle cx="267.7" cy="731.4" r="3.3"/><circle cx="265.0" cy="739.4" r="3.3"/><circle cx="264.5" cy="747.3" r="3.3"/><circle cx="262.8" cy="755.3" r="3.3"/><circle cx="260.9" cy="763.3" r="3.3"/><circle cx="261.8" cy="771.2" r="3.3"/><circle cx="259.3" cy="779.2" r="3.3"/><circle cx="259.0" cy="787.2" r="3.3"/><circle cx="258.5" cy="795.1" r="3.3"/><circle cx="256.4" cy="803.1" r="3.3"/><circle cx="258.2" cy="811.0" r="3.3"/></g>
<path d="M467.2 19.0L467.2 23.0L467.2 26.9L467.1 30.9L467.1 34.9L467.1 38.9L467.1 42.9L467.1 48.8L467.0 58.8L467.0 68.7L466.9 78.7L466.4 88.7L465.8 98.6L465.2 108.6L463.6 118.5L458.4 138.4L436.7 158.3L406.9 178.2L386.0 198.2L365.9 218.1L336.5 267.8L315.6 317.6L300.9 417.2L285.8 516.7L270.6 616.3L256.3 715.8L241.5 815.4" fill="none" stroke="#ff0000" stroke-width="3.1" stroke-linejoin="round"/>
<path d="M469.2 19.0L469.2 23.0L469.2 26.9L469.2 30.9L469.3 34.9L469.3 38.9L469.3 42.9L469.3 48.8L469.4 58.8L469.4 68.7L469.5 78.7L469.0 88.7L468.5 98.6L468.0 108.6L468.0 118.5L462.8 138.4L441.1 158.3L411.3 178.2L390.4 198.2L370.3 218.1L338.5 267.8L317.0 317.6L302.4 417.2L287.3 516.7L272.2 616.3L259.3 715.8L245.9 815.4" fill="none" stroke="#ff0000" stroke-width="3.1" stroke-linejoin="round"/>
<path d="M469.2 28.9L469.2 48.8L469.2 68.7L469.2 88.7L468.7 108.6L457.7 128.5L431.3 148.4L404.2 168.3L385.1 188.2L364.4 208.1L348.2 228.0L338.3 247.9L329.9 267.8L322.9 287.8L316.3 307.7L311.1 327.6L308.7 347.5L304.0 367.4L299.3 387.3L296.5 407.2L293.3 427.1L288.9 447.0L284.2 466.9L282.1 486.9L278.2 506.8L274.8 526.7L272.9 546.6L271.4 566.5L270.1 586.4L271.1 606.3L268.7 626.2L266.7 646.1L264.6 666.0L262.5 686.0L260.6 705.9L258.0 725.8L256.2 745.7L254.1 765.6L252.0 785.5L250.2 805.4" fill="none" stroke="#0000ff" stroke-width="2.9" stroke-linejoin="round" stroke-linecap="butt"/>
<g fill="#0000ff"><circle cx="469.2" cy="28.9" r="6.0"/><circle cx="469.2" cy="48.8" r="6.0"/><circle cx="469.2" cy="68.7" r="6.0"/><circle cx="469.2" cy="88.7" r="6.0"/><circle cx="468.7" cy="108.6" r="6.0"/><circle cx="457.7" cy="128.5" r="6.0"/><circle cx="431.3" cy="148.4" r="6.0"/><circle cx="404.2" cy="168.3" r="6.0"/><circle cx="385.1" cy="188.2" r="6.0"/><circle cx="364.4" cy="208.1" r="6.0"/><circle cx="348.2" cy="228.0" r="6.0"/><circle cx="338.3" cy="247.9" r="6.0"/><circle cx="329.9" cy="267.8" r="6.0"/><circle cx="322.9" cy="287.8" r="6.0"/><circle cx="316.3" cy="307.7" r="6.0"/><circle cx="311.1" cy="327.6" r="6.0"/><circle cx="308.7" cy="347.5" r="6.0"/><circle cx="304.0" cy="367.4" r="6.0"/><circle cx="299.3" cy="387.3" r="6.0"/><circle cx="296.5" cy="407.2" r="6.0"/><circle cx="293.3" cy="427.1" r="6.0"/><circle cx="288.9" cy="447.0" r="6.0"/><circle cx="284.2" cy="466.9" r="6.0"/><circle cx="282.1" cy="486.9" r="6.0"/><circle cx="278.2" cy="506.8" r="6.0"/><circle cx="274.8" cy="526.7" r="6.0"/><circle cx="272.9" cy="546.6" r="6.0"/><circle cx="271.4" cy="566.5" r="6.0"/><circle cx="270.1" cy="586.4" r="6.0"/><circle cx="271.1" cy="606.3" r="6.0"/><circle cx="268.7" cy="626.2" r="6.0"/><circle cx="266.7" cy="646.1" r="6.0"/><circle cx="264.6" cy="666.0" r="6.0"/><circle cx="262.5" cy="686.0" r="6.0"/><circle cx="260.6" cy="705.9" r="6.0"/><circle cx="258.0" cy="725.8" r="6.0"/><circle cx="256.2" cy="745.7" r="6.0"/><circle cx="254.1" cy="765.6" r="6.0"/><circle cx="252.0" cy="785.5" r="6.0"/><circle cx="250.2" cy="805.4" r="6.0"/></g>
<path d="M467.6 19.0L467.6 23.0L467.6 26.9L467.6 30.9L467.6 34.9L467.5 38.9L467.5 42.9L467.5 48.8L467.5 58.8L467.5 68.7L467.4 78.7L466.9 88.7L466.3 98.6L465.8 108.6L464.5 118.5L459.3 138.4L437.6 158.3L407.8 178.2L386.9 198.2L366.8 218.1L336.9 267.8L315.9 317.6L301.2 417.2L286.1 516.7L270.9 616.3L256.9 715.8L242.3 815.4" fill="none" stroke="#ff0000" stroke-width="3.1" stroke-linejoin="round"/>
<path d="M468.8 19.0L468.8 23.0L468.8 26.9L468.8 30.9L468.8 34.9L468.8 38.9L468.9 42.9L468.9 48.8L468.9 58.8L468.9 68.7L469.0 78.7L468.5 88.7L468.0 98.6L467.5 108.6L467.2 118.5L461.9 138.4L440.2 158.3L410.4 178.2L389.5 198.2L369.4 218.1L338.1 267.8L316.7 317.6L302.1 417.2L287.0 516.7L271.8 616.3L258.7 715.8L245.0 815.4" fill="none" stroke="#ff0000" stroke-width="3.1" stroke-linejoin="round"/>
<path d="M468.2 19.0L468.2 23.0L468.2 26.9L468.2 30.9L468.2 34.9L468.2 38.9L468.2 42.9L468.2 48.8L468.2 58.8L468.2 68.7L468.2 78.7L467.7 88.7L467.1 98.6L466.6 108.6L465.8 118.5L460.6 138.4L438.9 158.3L409.1 178.2L388.2 198.2L368.1 218.1L337.5 267.8L316.3 317.6L301.7 417.2L286.5 516.7L271.4 616.3L257.8 715.8L243.7 815.4" fill="none" stroke="#ff0000" stroke-width="3.1" stroke-linejoin="round"/>
<g fill="#ff0000"><circle cx="468.2" cy="19.0" r="6.25"/><circle cx="468.2" cy="23.0" r="6.25"/><circle cx="468.2" cy="26.9" r="6.26"/><circle cx="468.2" cy="30.9" r="6.26"/><circle cx="468.2" cy="34.9" r="6.27"/><circle cx="468.2" cy="38.9" r="6.27"/><circle cx="468.2" cy="42.9" r="6.28"/><circle cx="468.2" cy="48.8" r="6.28"/><circle cx="468.2" cy="58.8" r="6.29"/><circle cx="468.2" cy="68.7" r="6.31"/><circle cx="468.2" cy="78.7" r="6.32"/><circle cx="467.7" cy="88.7" r="6.33"/><circle cx="467.1" cy="98.6" r="6.34"/><circle cx="466.6" cy="108.6" r="6.35"/><circle cx="465.8" cy="118.5" r="6.55"/><circle cx="460.6" cy="138.4" r="6.55"/><circle cx="438.9" cy="158.3" r="6.55"/><circle cx="409.1" cy="178.2" r="6.55"/><circle cx="388.2" cy="198.2" r="6.55"/><circle cx="368.1" cy="218.1" r="6.55"/><circle cx="337.5" cy="267.8" r="6.25"/><circle cx="316.3" cy="317.6" r="6.17"/><circle cx="301.7" cy="417.2" r="6.18"/><circle cx="286.5" cy="516.7" r="6.19"/><circle cx="271.4" cy="616.3" r="6.20"/><circle cx="257.8" cy="715.8" r="6.38"/><circle cx="243.7" cy="815.4" r="6.55"/></g>
<path d="M476.3 19.0L476.3 23.0L476.3 26.9L476.3 30.9L476.3 34.9L476.3 38.9L476.3 42.9L476.3 48.8L476.3 58.8L476.3 68.7L476.3 78.7L476.3 88.7L476.3 98.6L476.3 108.6L476.3 118.5L476.3 138.4L465.3 158.3L439.2 178.2L415.1 198.2L396.3 218.1L358.4 267.8L328.3 317.6L300.4 417.2L279.2 516.7L263.0 616.3L247.0 715.8L233.2 815.4" fill="none" stroke="#008000" stroke-width="3.1" stroke-linejoin="round" stroke-linecap="butt"/>
<g fill="#008000"><circle cx="476.3" cy="19.0" r="6.0"/><circle cx="476.3" cy="23.0" r="6.0"/><circle cx="476.3" cy="26.9" r="6.0"/><circle cx="476.3" cy="30.9" r="6.0"/><circle cx="476.3" cy="34.9" r="6.0"/><circle cx="476.3" cy="38.9" r="6.0"/><circle cx="476.3" cy="42.9" r="6.0"/><circle cx="476.3" cy="48.8" r="6.0"/><circle cx="476.3" cy="58.8" r="6.0"/><circle cx="476.3" cy="68.7" r="6.0"/><circle cx="476.3" cy="78.7" r="6.0"/><circle cx="476.3" cy="88.7" r="6.0"/><circle cx="476.3" cy="98.6" r="6.0"/><circle cx="476.3" cy="108.6" r="6.0"/><circle cx="476.3" cy="118.5" r="6.0"/><circle cx="476.3" cy="138.4" r="6.0"/><circle cx="465.3" cy="158.3" r="6.0"/><circle cx="439.2" cy="178.2" r="6.0"/><circle cx="415.1" cy="198.2" r="6.0"/><circle cx="396.3" cy="218.1" r="6.0"/><circle cx="358.4" cy="267.8" r="6.0"/><circle cx="328.3" cy="317.6" r="6.0"/><circle cx="300.4" cy="417.2" r="6.0"/><circle cx="279.2" cy="516.7" r="6.0"/><circle cx="263.0" cy="616.3" r="6.0"/><circle cx="247.0" cy="715.8" r="6.0"/><circle cx="233.2" cy="815.4" r="6.0"/></g>
<path d="M460.4 19.9L460.4 22.0L460.4 24.2L460.4 26.6L460.4 29.1L460.4 31.8L460.4 34.8L460.4 38.0L460.4 41.7L460.4 45.8L460.4 50.4L460.4 55.8L460.4 62.0L460.4 69.1L460.4 77.5L460.4 87.5L460.4 99.2L460.4 113.3L460.4 130.1L440.5 150.0L412.5 174.1L383.8 202.7L356.3 237.4L332.3 279.2L316.8 329.4L303.5 389.5L292.3 462.0L278.4 548.6L261.4 652.3L243.7 775.9" fill="none" stroke="#ff00ff" stroke-width="3.0" stroke-linejoin="round" stroke-linecap="butt"/>
<g fill="#ff00ff"><circle cx="460.4" cy="19.9" r="6.0"/><circle cx="460.4" cy="22.0" r="6.0"/><circle cx="460.4" cy="24.2" r="6.0"/><circle cx="460.4" cy="26.6" r="6.0"/><circle cx="460.4" cy="29.1" r="6.0"/><circle cx="460.4" cy="31.8" r="6.0"/><circle cx="460.4" cy="34.8" r="6.0"/><circle cx="460.4" cy="38.0" r="6.0"/><circle cx="460.4" cy="41.7" r="6.0"/><circle cx="460.4" cy="45.8" r="6.0"/><circle cx="460.4" cy="50.4" r="6.0"/><circle cx="460.4" cy="55.8" r="6.0"/><circle cx="460.4" cy="62.0" r="6.0"/><circle cx="460.4" cy="69.1" r="6.0"/><circle cx="460.4" cy="77.5" r="6.0"/><circle cx="460.4" cy="87.5" r="6.0"/><circle cx="460.4" cy="99.2" r="6.0"/><circle cx="460.4" cy="113.3" r="6.0"/><circle cx="460.4" cy="130.1" r="6.0"/><circle cx="440.5" cy="150.0" r="6.0"/><circle cx="412.5" cy="174.1" r="6.0"/><circle cx="383.8" cy="202.7" r="6.0"/><circle cx="356.3" cy="237.4" r="6.0"/><circle cx="332.3" cy="279.2" r="6.0"/><circle cx="316.8" cy="329.4" r="6.0"/><circle cx="303.5" cy="389.5" r="6.0"/><circle cx="292.3" cy="462.0" r="6.0"/><circle cx="278.4" cy="548.6" r="6.0"/><circle cx="261.4" cy="652.3" r="6.0"/><circle cx="243.7" cy="775.9" r="6.0"/></g>
</g>
<g clip-path="url(#c1)">
<g fill="#00ffff"><circle cx="635.4" cy="22.5" r="3.3"/><circle cx="637.9" cy="30.5" r="3.3"/><circle cx="635.1" cy="38.5" r="3.3"/><circle cx="635.0" cy="46.4" r="3.3"/><circle cx="635.5" cy="54.4" r="3.3"/><circle cx="634.6" cy="62.3" r="3.3"/><circle cx="636.2" cy="70.3" r="3.3"/><circle cx="632.7" cy="78.3" r="3.3"/><circle cx="633.8" cy="86.2" r="3.3"/><circle cx="630.1" cy="94.2" r="3.3"/><circle cx="635.2" cy="102.2" r="3.3"/><circle cx="633.7" cy="110.1" r="3.3"/><circle cx="635.3" cy="118.1" r="3.3"/><circle cx="636.7" cy="126.1" r="3.3"/><circle cx="634.0" cy="134.0" r="3.3"/><circle cx="634.9" cy="142.0" r="3.3"/><circle cx="636.0" cy="150.0" r="3.3"/><circle cx="637.5" cy="157.9" r="3.3"/><circle cx="640.9" cy="165.9" r="3.3"/><circle cx="645.5" cy="173.8" r="3.3"/><circle cx="649.4" cy="181.8" r="3.3"/><circle cx="654.3" cy="189.8" r="3.3"/><circle cx="659.0" cy="197.7" r="3.3"/><circle cx="667.6" cy="205.7" r="3.3"/><circle cx="674.9" cy="213.7" r="3.3"/><circle cx="682.0" cy="221.6" r="3.3"/><circle cx="690.9" cy="229.6" r="3.3"/><circle cx="697.8" cy="237.6" r="3.3"/><circle cx="703.6" cy="245.5" r="3.3"/><circle cx="713.6" cy="253.5" r="3.3"/><circle cx="719.5" cy="261.4" r="3.3"/><circle cx="725.8" cy="269.4" r="3.3"/><circle cx="738.6" cy="277.4" r="3.3"/><circle cx="748.3" cy="285.3" r="3.3"/><circle cx="756.9" cy="293.3" r="3.3"/><circle cx="769.4" cy="301.3" r="3.3"/><circle cx="774.8" cy="309.2" r="3.3"/><circle cx="781.9" cy="317.2" r="3.3"/><circle cx="786.5" cy="325.2" r="3.3"/><circle cx="791.4" cy="333.1" r="3.3"/><circle cx="793.6" cy="341.1" r="3.3"/><circle cx="800.0" cy="349.1" r="3.3"/><circle cx="802.1" cy="357.0" r="3.3"/><circle cx="804.4" cy="365.0" r="3.3"/><circle cx="807.9" cy="372.9" r="3.3"/><circle cx="810.5" cy="380.9" r="3.3"/><circle cx="814.2" cy="388.9" r="3.3"/><circle cx="815.5" cy="396.8" r="3.3"/><circle cx="816.2" cy="404.8" r="3.3"/><circle cx="814.0" cy="412.8" r="3.3"/><circle cx="817.1" cy="420.7" r="3.3"/><circle cx="819.6" cy="428.7" r="3.3"/><circle cx="821.4" cy="436.7" r="3.3"/><circle cx="819.4" cy="444.6" r="3.3"/><circle cx="819.8" cy="452.6" r="3.3"/><circle cx="822.4" cy="460.5" r="3.3"/><circle cx="820.8" cy="468.5" r="3.3"/><circle cx="822.8" cy="476.5" r="3.3"/><circle cx="824.7" cy="484.4" r="3.3"/><circle cx="823.5" cy="492.4" r="3.3"/><circle cx="825.6" cy="500.4" r="3.3"/><circle cx="824.0" cy="508.3" r="3.3"/><circle cx="825.9" cy="516.3" r="3.3"/><circle cx="826.6" cy="524.3" r="3.3"/><circle cx="827.8" cy="532.2" r="3.3"/><circle cx="829.9" cy="540.2" r="3.3"/><circle cx="832.4" cy="548.2" r="3.3"/><circle cx="829.6" cy="556.1" r="3.3"/><circle cx="830.4" cy="564.1" r="3.3"/><circle cx="832.5" cy="572.0" r="3.3"/><circle cx="831.4" cy="580.0" r="3.3"/><circle cx="834.0" cy="588.0" r="3.3"/><circle cx="835.1" cy="595.9" r="3.3"/><circle cx="835.1" cy="603.9" r="3.3"/><circle cx="837.0" cy="611.9" r="3.3"/><circle cx="834.9" cy="619.8" r="3.3"/><circle cx="838.0" cy="627.8" r="3.3"/><circle cx="835.9" cy="635.8" r="3.3"/><circle cx="837.7" cy="643.7" r="3.3"/><circle cx="838.9" cy="651.7" r="3.3"/><circle cx="840.7" cy="659.6" r="3.3"/><circle cx="843.9" cy="667.6" r="3.3"/><circle cx="844.0" cy="675.6" r="3.3"/><circle cx="844.1" cy="683.5" r="3.3"/><circle cx="845.9" cy="691.5" r="3.3"/><circle cx="848.1" cy="699.5" r="3.3"/><circle cx="847.2" cy="707.4" r="3.3"/><circle cx="848.3" cy="715.4" r="3.3"/><circle cx="849.7" cy="723.4" r="3.3"/><circle cx="848.9" cy="731.3" r="3.3"/><circle cx="847.5" cy="739.3" r="3.3"/><circle cx="852.5" cy="747.3" r="3.3"/><circle cx="852.7" cy="755.2" r="3.3"/><circle cx="848.1" cy="763.2" r="3.3"/><circle cx="850.9" cy="771.1" r="3.3"/><circle cx="851.6" cy="779.1" r="3.3"/><circle cx="852.2" cy="787.1" r="3.3"/><circle cx="851.9" cy="795.0" r="3.3"/><circle cx="850.9" cy="803.0" r="3.3"/><circle cx="850.1" cy="811.0" r="3.3"/><circle cx="634.9" cy="23.4" r="3.3"/><circle cx="633.9" cy="31.4" r="3.3"/><circle cx="636.2" cy="39.4" r="3.3"/><circle cx="633.3" cy="47.3" r="3.3"/><circle cx="636.0" cy="55.3" r="3.3"/><circle cx="635.8" cy="63.3" r="3.3"/><circle cx="633.6" cy="71.2" r="3.3"/><circle cx="635.4" cy="79.2" r="3.3"/><circle cx="632.4" cy="87.1" r="3.3"/><circle cx="635.0" cy="95.1" r="3.3"/><circle cx="633.7" cy="103.1" r="3.3"/><circle cx="634.2" cy="111.0" r="3.3"/><circle cx="633.2" cy="119.0" r="3.3"/><circle cx="633.7" cy="127.0" r="3.3"/><circle cx="634.1" cy="134.9" r="3.3"/><circle cx="633.0" cy="142.9" r="3.3"/><circle cx="634.8" cy="150.9" r="3.3"/><circle cx="638.0" cy="158.8" r="3.3"/><circle cx="641.3" cy="166.8" r="3.3"/><circle cx="642.8" cy="174.7" r="3.3"/><circle cx="647.1" cy="182.7" r="3.3"/><circle cx="653.7" cy="190.7" r="3.3"/><circle cx="653.4" cy="198.6" r="3.3"/><circle cx="659.5" cy="206.6" r="3.3"/><circle cx="671.6" cy="214.6" r="3.3"/><circle cx="679.5" cy="222.5" r="3.3"/><circle cx="688.0" cy="230.5" r="3.3"/><circle cx="693.3" cy="238.5" r="3.3"/><circle cx="703.3" cy="246.4" r="3.3"/><circle cx="710.5" cy="254.4" r="3.3"/><circle cx="718.3" cy="262.4" r="3.3"/><circle cx="728.1" cy="270.3" r="3.3"/><circle cx="739.9" cy="278.3" r="3.3"/><circle cx="753.0" cy="286.2" r="3.3"/><circle cx="758.8" cy="294.2" r="3.3"/><circle cx="768.3" cy="302.2" r="3.3"/><circle cx="775.4" cy="310.1" r="3.3"/><circle cx="785.2" cy="318.1" r="3.3"/><circle cx="788.4" cy="326.1" r="3.3"/><circle cx="795.0" cy="334.0" r="3.3"/><circle cx="798.8" cy="342.0" r="3.3"/><circle cx="799.1" cy="350.0" r="3.3"/><circle cx="806.4" cy="357.9" r="3.3"/><circle cx="809.1" cy="365.9" r="3.3"/><circle cx="810.6" cy="373.8" r="3.3"/><circle cx="813.8" cy="381.8" r="3.3"/><circle cx="817.1" cy="389.8" r="3.3"/><circle cx="818.8" cy="397.7" r="3.3"/><circle cx="819.0" cy="405.7" r="3.3"/><circle cx="820.6" cy="413.7" r="3.3"/><circle cx="819.9" cy="421.6" r="3.3"/><circle cx="821.7" cy="429.6" r="3.3"/><circle cx="823.1" cy="437.6" r="3.3"/><circle cx="823.6" cy="445.5" r="3.3"/><circle cx="823.2" cy="453.5" r="3.3"/><circle cx="826.6" cy="461.5" r="3.3"/><circle cx="826.3" cy="469.4" r="3.3"/><circle cx="827.8" cy="477.4" r="3.3"/><circle cx="828.4" cy="485.3" r="3.3"/><circle cx="830.7" cy="493.3" r="3.3"/><circle cx="829.1" cy="501.3" r="3.3"/><circle cx="830.3" cy="509.2" r="3.3"/><circle cx="832.5" cy="517.2" r="3.3"/><circle cx="833.2" cy="525.2" r="3.3"/><circle cx="831.8" cy="533.1" r="3.3"/><circle cx="833.8" cy="541.1" r="3.3"/><circle cx="835.8" cy="549.1" r="3.3"/><circle cx="836.2" cy="557.0" r="3.3"/><circle cx="836.0" cy="565.0" r="3.3"/><circle cx="835.8" cy="572.9" r="3.3"/><circle cx="837.3" cy="580.9" r="3.3"/><circle cx="839.0" cy="588.9" r="3.3"/><circle cx="839.8" cy="596.8" r="3.3"/><circle cx="839.4" cy="604.8" r="3.3"/><circle cx="839.2" cy="612.8" r="3.3"/><circle cx="839.9" cy="620.7" r="3.3"/><circle cx="838.4" cy="628.7" r="3.3"/><circle cx="842.1" cy="636.7" r="3.3"/><circle cx="842.5" cy="644.6" r="3.3"/><circle cx="842.0" cy="652.6" r="3.3"/><circle cx="844.0" cy="660.6" r="3.3"/><circle cx="846.6" cy="668.5" r="3.3"/><circle cx="845.6" cy="676.5" r="3.3"/><circle cx="846.1" cy="684.4" r="3.3"/><circle cx="847.4" cy="692.4" r="3.3"/><circle cx="846.4" cy="700.4" r="3.3"/><circle cx="848.3" cy="708.3" r="3.3"/><circle cx="847.1" cy="716.3" r="3.3"/><circle cx="849.3" cy="724.3" r="3.3"/><circle cx="847.5" cy="732.2" r="3.3"/><circle cx="848.9" cy="740.2" r="3.3"/><circle cx="849.2" cy="748.2" r="3.3"/><circle cx="847.7" cy="756.1" r="3.3"/><circle cx="849.1" cy="764.1" r="3.3"/><circle cx="850.4" cy="772.0" r="3.3"/><circle cx="849.5" cy="780.0" r="3.3"/><circle cx="848.8" cy="788.0" r="3.3"/><circle cx="848.9" cy="795.9" r="3.3"/><circle cx="849.1" cy="803.9" r="3.3"/><circle cx="849.7" cy="811.9" r="3.3"/><circle cx="637.3" cy="24.6" r="3.3"/><circle cx="636.8" cy="32.6" r="3.3"/><circle cx="636.5" cy="40.6" r="3.3"/><circle cx="632.1" cy="48.5" r="3.3"/><circle cx="635.1" cy="56.5" r="3.3"/><circle cx="635.3" cy="64.5" r="3.3"/><circle cx="637.7" cy="72.4" r="3.3"/><circle cx="633.3" cy="80.4" r="3.3"/><circle cx="634.0" cy="88.4" r="3.3"/><circle cx="634.3" cy="96.3" r="3.3"/><circle cx="635.2" cy="104.3" r="3.3"/><circle cx="633.6" cy="112.3" r="3.3"/><circle cx="635.4" cy="120.2" r="3.3"/><circle cx="633.0" cy="128.2" r="3.3"/><circle cx="634.7" cy="136.1" r="3.3"/><circle cx="635.2" cy="144.1" r="3.3"/><circle cx="637.4" cy="152.1" r="3.3"/><circle cx="638.9" cy="160.0" r="3.3"/><circle cx="640.9" cy="168.0" r="3.3"/><circle cx="647.3" cy="176.0" r="3.3"/><circle cx="651.4" cy="183.9" r="3.3"/><circle cx="655.2" cy="191.9" r="3.3"/><circle cx="662.1" cy="199.9" r="3.3"/><circle cx="670.8" cy="207.8" r="3.3"/><circle cx="676.9" cy="215.8" r="3.3"/><circle cx="686.4" cy="223.7" r="3.3"/><circle cx="695.8" cy="231.7" r="3.3"/><circle cx="704.0" cy="239.7" r="3.3"/><circle cx="710.8" cy="247.6" r="3.3"/><circle cx="716.5" cy="255.6" r="3.3"/><circle cx="729.0" cy="263.6" r="3.3"/><circle cx="737.2" cy="271.5" r="3.3"/><circle cx="747.1" cy="279.5" r="3.3"/><circle cx="756.9" cy="287.5" r="3.3"/><circle cx="767.2" cy="295.4" r="3.3"/><circle cx="774.2" cy="303.4" r="3.3"/><circle cx="780.8" cy="311.4" r="3.3"/><circle cx="787.0" cy="319.3" r="3.3"/><circle cx="793.0" cy="327.3" r="3.3"/><circle cx="797.4" cy="335.2" r="3.3"/><circle cx="800.4" cy="343.2" r="3.3"/><circle cx="806.1" cy="351.2" r="3.3"/><circle cx="806.8" cy="359.1" r="3.3"/><circle cx="812.1" cy="367.1" r="3.3"/><circle cx="813.3" cy="375.1" r="3.3"/><circle cx="818.1" cy="383.0" r="3.3"/><circle cx="821.5" cy="391.0" r="3.3"/><circle cx="820.5" cy="399.0" r="3.3"/><circle cx="819.8" cy="406.9" r="3.3"/><circle cx="822.3" cy="414.9" r="3.3"/><circle cx="824.0" cy="422.8" r="3.3"/><circle cx="822.7" cy="430.8" r="3.3"/><circle cx="824.5" cy="438.8" r="3.3"/><circle cx="825.8" cy="446.7" r="3.3"/><circle cx="826.0" cy="454.7" r="3.3"/><circle cx="827.6" cy="462.7" r="3.3"/><circle cx="829.4" cy="470.6" r="3.3"/><circle cx="830.4" cy="478.6" r="3.3"/><circle cx="831.5" cy="486.6" r="3.3"/><circle cx="832.0" cy="494.5" r="3.3"/><circle cx="831.8" cy="502.5" r="3.3"/><circle cx="833.0" cy="510.5" r="3.3"/><circle cx="833.8" cy="518.4" r="3.3"/><circle cx="834.7" cy="526.4" r="3.3"/><circle cx="835.7" cy="534.3" r="3.3"/><circle cx="834.6" cy="542.3" r="3.3"/><circle cx="836.9" cy="550.3" r="3.3"/><circle cx="837.8" cy="558.2" r="3.3"/><circle cx="837.1" cy="566.2" r="3.3"/><circle cx="838.7" cy="574.2" r="3.3"/><circle cx="839.8" cy="582.1" r="3.3"/><circle cx="839.5" cy="590.1" r="3.3"/><circle cx="842.9" cy="598.1" r="3.3"/><circle cx="838.0" cy="606.0" r="3.3"/><circle cx="841.2" cy="614.0" r="3.3"/><circle cx="839.3" cy="621.9" r="3.3"/><circle cx="842.7" cy="629.9" r="3.3"/><circle cx="845.2" cy="637.9" r="3.3"/><circle cx="839.4" cy="645.8" r="3.3"/><circle cx="843.5" cy="653.8" r="3.3"/><circle cx="845.3" cy="661.8" r="3.3"/><circle cx="845.7" cy="669.7" r="3.3"/><circle cx="847.1" cy="677.7" r="3.3"/><circle cx="844.1" cy="685.7" r="3.3"/><circle cx="848.4" cy="693.6" r="3.3"/><circle cx="848.5" cy="701.6" r="3.3"/><circle cx="848.8" cy="709.6" r="3.3"/><circle cx="848.3" cy="717.5" r="3.3"/><circle cx="849.9" cy="725.5" r="3.3"/><circle cx="848.8" cy="733.4" r="3.3"/><circle cx="850.0" cy="741.4" r="3.3"/><circle cx="849.5" cy="749.4" r="3.3"/><circle cx="847.8" cy="757.3" r="3.3"/><circle cx="850.8" cy="765.3" r="3.3"/><circle cx="851.2" cy="773.3" r="3.3"/><circle cx="851.8" cy="781.2" r="3.3"/><circle cx="849.9" cy="789.2" r="3.3"/><circle cx="851.0" cy="797.2" r="3.3"/><circle cx="852.0" cy="805.1" r="3.3"/><circle cx="851.5" cy="813.1" r="3.3"/><circle cx="638.3" cy="23.7" r="3.3"/><circle cx="637.2" cy="31.6" r="3.3"/><circle cx="637.5" cy="39.6" r="3.3"/><circle cx="636.8" cy="47.6" r="3.3"/><circle cx="635.8" cy="55.5" r="3.3"/><circle cx="637.3" cy="63.5" r="3.3"/><circle cx="636.3" cy="71.5" r="3.3"/><circle cx="639.9" cy="79.4" r="3.3"/><circle cx="636.6" cy="87.4" r="3.3"/><circle cx="637.7" cy="95.3" r="3.3"/><circle cx="638.8" cy="103.3" r="3.3"/><circle cx="638.2" cy="111.3" r="3.3"/><circle cx="640.4" cy="119.2" r="3.3"/><circle cx="639.0" cy="127.2" r="3.3"/><circle cx="639.0" cy="135.2" r="3.3"/><circle cx="643.5" cy="143.1" r="3.3"/><circle cx="644.3" cy="151.1" r="3.3"/><circle cx="651.4" cy="159.1" r="3.3"/><circle cx="649.9" cy="167.0" r="3.3"/><circle cx="655.1" cy="175.0" r="3.3"/><circle cx="660.8" cy="182.9" r="3.3"/><circle cx="665.2" cy="190.9" r="3.3"/><circle cx="675.8" cy="198.9" r="3.3"/><circle cx="685.1" cy="206.8" r="3.3"/><circle cx="693.5" cy="214.8" r="3.3"/><circle cx="700.2" cy="222.8" r="3.3"/><circle cx="707.6" cy="230.7" r="3.3"/><circle cx="716.7" cy="238.7" r="3.3"/><circle cx="723.8" cy="246.7" r="3.3"/><circle cx="729.6" cy="254.6" r="3.3"/><circle cx="737.0" cy="262.6" r="3.3"/><circle cx="744.6" cy="270.6" r="3.3"/><circle cx="754.0" cy="278.5" r="3.3"/><circle cx="762.0" cy="286.5" r="3.3"/><circle cx="770.9" cy="294.4" r="3.3"/><circle cx="778.5" cy="302.4" r="3.3"/><circle cx="782.9" cy="310.4" r="3.3"/><circle cx="790.4" cy="318.3" r="3.3"/><circle cx="795.9" cy="326.3" r="3.3"/><circle cx="799.3" cy="334.3" r="3.3"/><circle cx="803.4" cy="342.2" r="3.3"/><circle cx="808.2" cy="350.2" r="3.3"/><circle cx="809.4" cy="358.2" r="3.3"/><circle cx="812.1" cy="366.1" r="3.3"/><circle cx="814.7" cy="374.1" r="3.3"/><circle cx="818.5" cy="382.0" r="3.3"/><circle cx="819.8" cy="390.0" r="3.3"/><circle cx="821.3" cy="398.0" r="3.3"/><circle cx="819.5" cy="405.9" r="3.3"/><circle cx="821.3" cy="413.9" r="3.3"/><circle cx="824.0" cy="421.9" r="3.3"/><circle cx="826.1" cy="429.8" r="3.3"/><circle cx="824.1" cy="437.8" r="3.3"/><circle cx="825.0" cy="445.8" r="3.3"/><circle cx="826.5" cy="453.7" r="3.3"/><circle cx="826.1" cy="461.7" r="3.3"/><circle cx="827.6" cy="469.7" r="3.3"/><circle cx="828.5" cy="477.6" r="3.3"/><circle cx="827.3" cy="485.6" r="3.3"/><circle cx="827.7" cy="493.5" r="3.3"/><circle cx="830.5" cy="501.5" r="3.3"/><circle cx="829.9" cy="509.5" r="3.3"/><circle cx="832.0" cy="517.4" r="3.3"/><circle cx="833.1" cy="525.4" r="3.3"/><circle cx="832.7" cy="533.4" r="3.3"/><circle cx="833.2" cy="541.3" r="3.3"/><circle cx="834.0" cy="549.3" r="3.3"/><circle cx="837.0" cy="557.3" r="3.3"/><circle cx="833.5" cy="565.2" r="3.3"/><circle cx="837.8" cy="573.2" r="3.3"/><circle cx="837.3" cy="581.1" r="3.3"/><circle cx="837.3" cy="589.1" r="3.3"/><circle cx="839.4" cy="597.1" r="3.3"/><circle cx="839.9" cy="605.0" r="3.3"/><circle cx="839.2" cy="613.0" r="3.3"/><circle cx="840.4" cy="621.0" r="3.3"/><circle cx="841.1" cy="628.9" r="3.3"/><circle cx="842.3" cy="636.9" r="3.3"/><circle cx="842.7" cy="644.9" r="3.3"/><circle cx="843.9" cy="652.8" r="3.3"/><circle cx="843.1" cy="660.8" r="3.3"/><circle cx="846.4" cy="668.8" r="3.3"/><circle cx="848.5" cy="676.7" r="3.3"/><circle cx="849.4" cy="684.7" r="3.3"/><circle cx="848.6" cy="692.6" r="3.3"/><circle cx="849.9" cy="700.6" r="3.3"/><circle cx="850.4" cy="708.6" r="3.3"/><circle cx="850.6" cy="716.5" r="3.3"/><circle cx="853.3" cy="724.5" r="3.3"/><circle cx="854.4" cy="732.5" r="3.3"/><circle cx="854.1" cy="740.4" r="3.3"/><circle cx="855.3" cy="748.4" r="3.3"/><circle cx="857.3" cy="756.4" r="3.3"/><circle cx="855.0" cy="764.3" r="3.3"/><circle cx="856.8" cy="772.3" r="3.3"/><circle cx="857.0" cy="780.2" r="3.3"/><circle cx="858.5" cy="788.2" r="3.3"/><circle cx="856.2" cy="796.2" r="3.3"/><circle cx="856.3" cy="804.1" r="3.3"/><circle cx="858.9" cy="812.1" r="3.3"/><circle cx="642.3" cy="21.4" r="3.3"/><circle cx="642.4" cy="29.3" r="3.3"/><circle cx="640.8" cy="37.3" r="3.3"/><circle cx="643.2" cy="45.3" r="3.3"/><circle cx="640.7" cy="53.2" r="3.3"/><circle cx="639.2" cy="61.2" r="3.3"/><circle cx="641.2" cy="69.2" r="3.3"/><circle cx="640.4" cy="77.1" r="3.3"/><circle cx="640.1" cy="85.1" r="3.3"/><circle cx="640.8" cy="93.1" r="3.3"/><circle cx="641.5" cy="101.0" r="3.3"/><circle cx="639.6" cy="109.0" r="3.3"/><circle cx="640.7" cy="116.9" r="3.3"/><circle cx="642.5" cy="124.9" r="3.3"/><circle cx="642.2" cy="132.9" r="3.3"/><circle cx="642.6" cy="140.8" r="3.3"/><circle cx="644.3" cy="148.8" r="3.3"/><circle cx="647.0" cy="156.8" r="3.3"/><circle cx="650.2" cy="164.7" r="3.3"/><circle cx="655.2" cy="172.7" r="3.3"/><circle cx="659.4" cy="180.7" r="3.3"/><circle cx="661.9" cy="188.6" r="3.3"/><circle cx="673.7" cy="196.6" r="3.3"/><circle cx="681.6" cy="204.6" r="3.3"/><circle cx="692.2" cy="212.5" r="3.3"/><circle cx="699.4" cy="220.5" r="3.3"/><circle cx="708.8" cy="228.4" r="3.3"/><circle cx="719.1" cy="236.4" r="3.3"/><circle cx="723.0" cy="244.4" r="3.3"/><circle cx="731.2" cy="252.3" r="3.3"/><circle cx="739.3" cy="260.3" r="3.3"/><circle cx="746.6" cy="268.3" r="3.3"/><circle cx="755.1" cy="276.2" r="3.3"/><circle cx="765.5" cy="284.2" r="3.3"/><circle cx="771.1" cy="292.2" r="3.3"/><circle cx="776.5" cy="300.1" r="3.3"/><circle cx="783.7" cy="308.1" r="3.3"/><circle cx="791.9" cy="316.0" r="3.3"/><circle cx="795.9" cy="324.0" r="3.3"/><circle cx="799.9" cy="332.0" r="3.3"/><circle cx="804.3" cy="339.9" r="3.3"/><circle cx="808.7" cy="347.9" r="3.3"/><circle cx="812.2" cy="355.9" r="3.3"/><circle cx="814.0" cy="363.8" r="3.3"/><circle cx="816.0" cy="371.8" r="3.3"/><circle cx="819.0" cy="379.8" r="3.3"/><circle cx="822.5" cy="387.7" r="3.3"/><circle cx="822.4" cy="395.7" r="3.3"/><circle cx="820.7" cy="403.7" r="3.3"/><circle cx="823.2" cy="411.6" r="3.3"/><circle cx="824.5" cy="419.6" r="3.3"/><circle cx="825.1" cy="427.5" r="3.3"/><circle cx="824.8" cy="435.5" r="3.3"/><circle cx="824.3" cy="443.5" r="3.3"/><circle cx="826.2" cy="451.4" r="3.3"/><circle cx="826.0" cy="459.4" r="3.3"/><circle cx="830.3" cy="467.4" r="3.3"/><circle cx="830.5" cy="475.3" r="3.3"/><circle cx="829.5" cy="483.3" r="3.3"/><circle cx="833.6" cy="491.3" r="3.3"/><circle cx="834.0" cy="499.2" r="3.3"/><circle cx="831.7" cy="507.2" r="3.3"/><circle cx="837.5" cy="515.1" r="3.3"/><circle cx="837.5" cy="523.1" r="3.3"/><circle cx="840.1" cy="531.1" r="3.3"/><circle cx="837.2" cy="539.0" r="3.3"/><circle cx="840.3" cy="547.0" r="3.3"/><circle cx="840.9" cy="555.0" r="3.3"/><circle cx="841.4" cy="562.9" r="3.3"/><circle cx="842.2" cy="570.9" r="3.3"/><circle cx="844.0" cy="578.9" r="3.3"/><circle cx="841.7" cy="586.8" r="3.3"/><circle cx="843.1" cy="594.8" r="3.3"/><circle cx="844.0" cy="602.8" r="3.3"/><circle cx="845.7" cy="610.7" r="3.3"/><circle cx="846.0" cy="618.7" r="3.3"/><circle cx="847.5" cy="626.6" r="3.3"/><circle cx="848.2" cy="634.6" r="3.3"/><circle cx="848.7" cy="642.6" r="3.3"/><circle cx="849.1" cy="650.5" r="3.3"/><circle cx="851.0" cy="658.5" r="3.3"/><circle cx="854.3" cy="666.5" r="3.3"/><circle cx="854.8" cy="674.4" r="3.3"/><circle cx="854.6" cy="682.4" r="3.3"/><circle cx="855.0" cy="690.4" r="3.3"/><circle cx="858.2" cy="698.3" r="3.3"/><circle cx="856.5" cy="706.3" r="3.3"/><circle cx="858.3" cy="714.2" r="3.3"/><circle cx="859.2" cy="722.2" r="3.3"/><circle cx="858.0" cy="730.2" r="3.3"/><circle cx="859.8" cy="738.1" r="3.3"/><circle cx="857.9" cy="746.1" r="3.3"/><circle cx="860.9" cy="754.1" r="3.3"/><circle cx="860.4" cy="762.0" r="3.3"/><circle cx="858.3" cy="770.0" r="3.3"/><circle cx="860.9" cy="778.0" r="3.3"/><circle cx="859.1" cy="785.9" r="3.3"/><circle cx="861.8" cy="793.9" r="3.3"/><circle cx="859.6" cy="801.9" r="3.3"/><circle cx="860.0" cy="809.8" r="3.3"/><circle cx="643.3" cy="24.2" r="3.3"/><circle cx="643.1" cy="32.2" r="3.3"/><circle cx="643.4" cy="40.2" r="3.3"/><circle cx="644.7" cy="48.1" r="3.3"/><circle cx="643.0" cy="56.1" r="3.3"/><circle cx="643.0" cy="64.0" r="3.3"/><circle cx="641.7" cy="72.0" r="3.3"/><circle cx="643.2" cy="80.0" r="3.3"/><circle cx="643.4" cy="87.9" r="3.3"/><circle cx="642.5" cy="95.9" r="3.3"/><circle cx="642.2" cy="103.9" r="3.3"/><circle cx="643.3" cy="111.8" r="3.3"/><circle cx="644.0" cy="119.8" r="3.3"/><circle cx="644.3" cy="127.8" r="3.3"/><circle cx="647.6" cy="135.7" r="3.3"/><circle cx="649.3" cy="143.7" r="3.3"/><circle cx="653.3" cy="151.6" r="3.3"/><circle cx="658.8" cy="159.6" r="3.3"/><circle cx="661.7" cy="167.6" r="3.3"/><circle cx="667.6" cy="175.5" r="3.3"/><circle cx="675.6" cy="183.5" r="3.3"/><circle cx="684.4" cy="191.5" r="3.3"/><circle cx="694.5" cy="199.4" r="3.3"/><circle cx="701.5" cy="207.4" r="3.3"/><circle cx="712.0" cy="215.4" r="3.3"/><circle cx="717.4" cy="223.3" r="3.3"/><circle cx="725.5" cy="231.3" r="3.3"/><circle cx="734.6" cy="239.3" r="3.3"/><circle cx="739.3" cy="247.2" r="3.3"/><circle cx="750.4" cy="255.2" r="3.3"/><circle cx="758.6" cy="263.1" r="3.3"/><circle cx="764.4" cy="271.1" r="3.3"/><circle cx="769.3" cy="279.1" r="3.3"/><circle cx="773.5" cy="287.0" r="3.3"/><circle cx="778.1" cy="295.0" r="3.3"/><circle cx="787.2" cy="303.0" r="3.3"/><circle cx="788.8" cy="310.9" r="3.3"/><circle cx="795.3" cy="318.9" r="3.3"/><circle cx="800.5" cy="326.9" r="3.3"/><circle cx="802.6" cy="334.8" r="3.3"/><circle cx="805.0" cy="342.8" r="3.3"/><circle cx="809.6" cy="350.7" r="3.3"/><circle cx="812.0" cy="358.7" r="3.3"/><circle cx="812.7" cy="366.7" r="3.3"/><circle cx="816.9" cy="374.6" r="3.3"/><circle cx="819.6" cy="382.6" r="3.3"/><circle cx="821.3" cy="390.6" r="3.3"/><circle cx="822.5" cy="398.5" r="3.3"/><circle cx="823.3" cy="406.5" r="3.3"/><circle cx="822.3" cy="414.5" r="3.3"/><circle cx="825.2" cy="422.4" r="3.3"/><circle cx="825.4" cy="430.4" r="3.3"/><circle cx="824.5" cy="438.4" r="3.3"/><circle cx="827.7" cy="446.3" r="3.3"/><circle cx="827.3" cy="454.3" r="3.3"/><circle cx="828.6" cy="462.2" r="3.3"/><circle cx="827.5" cy="470.2" r="3.3"/><circle cx="831.5" cy="478.2" r="3.3"/><circle cx="832.0" cy="486.1" r="3.3"/><circle cx="833.7" cy="494.1" r="3.3"/><circle cx="833.3" cy="502.1" r="3.3"/><circle cx="836.9" cy="510.0" r="3.3"/><circle cx="836.7" cy="518.0" r="3.3"/><circle cx="836.9" cy="526.0" r="3.3"/><circle cx="839.1" cy="533.9" r="3.3"/><circle cx="840.4" cy="541.9" r="3.3"/><circle cx="839.7" cy="549.8" r="3.3"/><circle cx="842.5" cy="557.8" r="3.3"/><circle cx="842.5" cy="565.8" r="3.3"/><circle cx="843.6" cy="573.7" r="3.3"/><circle cx="844.8" cy="581.7" r="3.3"/><circle cx="847.7" cy="589.7" r="3.3"/><circle cx="845.7" cy="597.6" r="3.3"/><circle cx="846.0" cy="605.6" r="3.3"/><circle cx="847.5" cy="613.6" r="3.3"/><circle cx="847.3" cy="621.5" r="3.3"/><circle cx="845.7" cy="629.5" r="3.3"/><circle cx="851.4" cy="637.5" r="3.3"/><circle cx="851.2" cy="645.4" r="3.3"/><circle cx="850.5" cy="653.4" r="3.3"/><circle cx="853.3" cy="661.3" r="3.3"/><circle cx="855.1" cy="669.3" r="3.3"/><circle cx="855.2" cy="677.3" r="3.3"/><circle cx="856.1" cy="685.2" r="3.3"/><circle cx="858.0" cy="693.2" r="3.3"/><circle cx="859.8" cy="701.2" r="3.3"/><circle cx="860.3" cy="709.1" r="3.3"/><circle cx="859.9" cy="717.1" r="3.3"/><circle cx="860.7" cy="725.1" r="3.3"/><circle cx="859.1" cy="733.0" r="3.3"/><circle cx="859.8" cy="741.0" r="3.3"/><circle cx="862.1" cy="748.9" r="3.3"/><circle cx="862.0" cy="756.9" r="3.3"/><circle cx="863.2" cy="764.9" r="3.3"/><circle cx="862.2" cy="772.8" r="3.3"/><circle cx="862.6" cy="780.8" r="3.3"/><circle cx="863.4" cy="788.8" r="3.3"/><circle cx="861.2" cy="796.7" r="3.3"/><circle cx="862.6" cy="804.7" r="3.3"/><circle cx="864.7" cy="812.7" r="3.3"/><circle cx="644.4" cy="21.9" r="3.3"/><circle cx="641.9" cy="29.8" r="3.3"/><circle cx="644.2" cy="37.8" r="3.3"/><circle cx="641.7" cy="45.8" r="3.3"/><circle cx="644.5" cy="53.7" r="3.3"/><circle cx="641.8" cy="61.7" r="3.3"/><circle cx="642.3" cy="69.7" r="3.3"/><circle cx="641.9" cy="77.6" r="3.3"/><circle cx="642.2" cy="85.6" r="3.3"/><circle cx="644.2" cy="93.5" r="3.3"/><circle cx="643.5" cy="101.5" r="3.3"/><circle cx="643.1" cy="109.5" r="3.3"/><circle cx="642.6" cy="117.4" r="3.3"/><circle cx="641.7" cy="125.4" r="3.3"/><circle cx="644.4" cy="133.4" r="3.3"/><circle cx="646.9" cy="141.3" r="3.3"/><circle cx="649.7" cy="149.3" r="3.3"/><circle cx="655.3" cy="157.3" r="3.3"/><circle cx="659.2" cy="165.2" r="3.3"/><circle cx="664.7" cy="173.2" r="3.3"/><circle cx="672.7" cy="181.2" r="3.3"/><circle cx="680.4" cy="189.1" r="3.3"/><circle cx="693.0" cy="197.1" r="3.3"/><circle cx="703.3" cy="205.0" r="3.3"/><circle cx="710.8" cy="213.0" r="3.3"/><circle cx="717.2" cy="221.0" r="3.3"/><circle cx="722.9" cy="228.9" r="3.3"/><circle cx="734.3" cy="236.9" r="3.3"/><circle cx="743.8" cy="244.9" r="3.3"/><circle cx="750.9" cy="252.8" r="3.3"/><circle cx="759.8" cy="260.8" r="3.3"/><circle cx="768.3" cy="268.8" r="3.3"/><circle cx="772.7" cy="276.7" r="3.3"/><circle cx="775.3" cy="284.7" r="3.3"/><circle cx="781.5" cy="292.6" r="3.3"/><circle cx="786.5" cy="300.6" r="3.3"/><circle cx="789.3" cy="308.6" r="3.3"/><circle cx="796.1" cy="316.5" r="3.3"/><circle cx="799.4" cy="324.5" r="3.3"/><circle cx="804.4" cy="332.5" r="3.3"/><circle cx="808.7" cy="340.4" r="3.3"/><circle cx="809.5" cy="348.4" r="3.3"/><circle cx="811.2" cy="356.4" r="3.3"/><circle cx="818.1" cy="364.3" r="3.3"/><circle cx="820.0" cy="372.3" r="3.3"/><circle cx="824.3" cy="380.3" r="3.3"/><circle cx="821.9" cy="388.2" r="3.3"/><circle cx="825.2" cy="396.2" r="3.3"/><circle cx="827.1" cy="404.1" r="3.3"/><circle cx="828.5" cy="412.1" r="3.3"/><circle cx="827.5" cy="420.1" r="3.3"/><circle cx="829.1" cy="428.0" r="3.3"/><circle cx="829.3" cy="436.0" r="3.3"/><circle cx="831.4" cy="444.0" r="3.3"/><circle cx="832.7" cy="451.9" r="3.3"/><circle cx="832.8" cy="459.9" r="3.3"/><circle cx="832.4" cy="467.9" r="3.3"/><circle cx="836.2" cy="475.8" r="3.3"/><circle cx="836.0" cy="483.8" r="3.3"/><circle cx="838.5" cy="491.7" r="3.3"/><circle cx="839.3" cy="499.7" r="3.3"/><circle cx="842.3" cy="507.7" r="3.3"/><circle cx="843.1" cy="515.6" r="3.3"/><circle cx="842.6" cy="523.6" r="3.3"/><circle cx="844.8" cy="531.6" r="3.3"/><circle cx="847.6" cy="539.5" r="3.3"/><circle cx="845.7" cy="547.5" r="3.3"/><circle cx="847.5" cy="555.5" r="3.3"/><circle cx="849.1" cy="563.4" r="3.3"/><circle cx="849.8" cy="571.4" r="3.3"/><circle cx="849.5" cy="579.4" r="3.3"/><circle cx="848.2" cy="587.3" r="3.3"/><circle cx="849.2" cy="595.3" r="3.3"/><circle cx="851.7" cy="603.2" r="3.3"/><circle cx="852.0" cy="611.2" r="3.3"/><circle cx="854.8" cy="619.2" r="3.3"/><circle cx="851.3" cy="627.1" r="3.3"/><circle cx="854.3" cy="635.1" r="3.3"/><circle cx="854.9" cy="643.1" r="3.3"/><circle cx="853.5" cy="651.0" r="3.3"/><circle cx="856.0" cy="659.0" r="3.3"/><circle cx="857.6" cy="667.0" r="3.3"/><circle cx="857.3" cy="674.9" r="3.3"/><circle cx="858.4" cy="682.9" r="3.3"/><circle cx="859.9" cy="690.8" r="3.3"/><circle cx="859.1" cy="698.8" r="3.3"/><circle cx="860.8" cy="706.8" r="3.3"/><circle cx="859.6" cy="714.7" r="3.3"/><circle cx="860.0" cy="722.7" r="3.3"/><circle cx="861.7" cy="730.7" r="3.3"/><circle cx="860.7" cy="738.6" r="3.3"/><circle cx="862.1" cy="746.6" r="3.3"/><circle cx="864.0" cy="754.6" r="3.3"/><circle cx="862.2" cy="762.5" r="3.3"/><circle cx="861.8" cy="770.5" r="3.3"/><circle cx="862.8" cy="778.5" r="3.3"/><circle cx="861.6" cy="786.4" r="3.3"/><circle cx="863.4" cy="794.4" r="3.3"/><circle cx="860.6" cy="802.3" r="3.3"/><circle cx="862.7" cy="810.3" r="3.3"/></g>
<path d="M657.7 19.0L657.7 23.0L657.7 26.9L657.7 30.9L657.7 34.9L657.7 38.9L657.7 42.9L657.7 48.8L657.7 58.8L657.7 68.7L657.7 78.7L659.3 88.7L661.1 98.6L661.8 108.6L665.0 118.5L670.9 138.4L668.6 158.3L665.7 178.2L669.9 198.2L685.4 218.1L740.3 267.8L793.7 317.6L828.3 417.2L839.6 516.7L847.7 616.3L852.7 715.8L854.9 815.4" fill="none" stroke="#ff0000" stroke-width="3.1" stroke-linejoin="round"/>
<path d="M659.3 19.0L659.3 23.0L659.3 26.9L659.3 30.9L659.3 34.9L659.3 38.9L659.3 42.9L659.3 48.8L659.3 58.8L659.3 68.7L659.3 78.7L660.9 88.7L662.7 98.6L663.4 108.6L666.6 118.5L672.5 138.4L670.2 158.3L667.3 178.2L671.5 198.2L687.0 218.1L742.1 267.8L796.9 317.6L833.5 417.2L844.4 516.7L852.1 616.3L855.9 715.8L857.9 815.4" fill="none" stroke="#ff0000" stroke-width="3.1" stroke-linejoin="round"/>
<path d="M638.5 28.9L637.6 48.8L637.6 68.7L637.6 88.7L637.6 108.6L637.6 128.5L641.4 148.4L649.4 168.3L662.6 188.2L683.9 208.1L705.2 228.0L724.2 247.9L744.5 267.8L765.0 287.8L783.0 307.7L796.9 327.6L805.6 347.5L812.7 367.4L820.2 387.3L821.0 407.2L824.8 427.1L825.6 447.0L827.9 466.9L830.2 486.9L832.4 506.8L835.0 526.7L837.1 546.6L838.6 566.5L840.1 586.4L842.3 606.3L842.8 626.2L844.5 646.1L848.4 666.0L849.9 686.0L852.2 705.9L853.0 725.8L854.3 745.7L855.6 765.6L855.8 785.5L856.4 805.4" fill="none" stroke="#0000ff" stroke-width="2.9" stroke-linejoin="round" stroke-linecap="butt"/>
<g fill="#0000ff"><circle cx="638.5" cy="28.9" r="6.0"/><circle cx="637.6" cy="48.8" r="6.0"/><circle cx="637.6" cy="68.7" r="6.0"/><circle cx="637.6" cy="88.7" r="6.0"/><circle cx="637.6" cy="108.6" r="6.0"/><circle cx="637.6" cy="128.5" r="6.0"/><circle cx="641.4" cy="148.4" r="6.0"/><circle cx="649.4" cy="168.3" r="6.0"/><circle cx="662.6" cy="188.2" r="6.0"/><circle cx="683.9" cy="208.1" r="6.0"/><circle cx="705.2" cy="228.0" r="6.0"/><circle cx="724.2" cy="247.9" r="6.0"/><circle cx="744.5" cy="267.8" r="6.0"/><circle cx="765.0" cy="287.8" r="6.0"/><circle cx="783.0" cy="307.7" r="6.0"/><circle cx="796.9" cy="327.6" r="6.0"/><circle cx="805.6" cy="347.5" r="6.0"/><circle cx="812.7" cy="367.4" r="6.0"/><circle cx="820.2" cy="387.3" r="6.0"/><circle cx="821.0" cy="407.2" r="6.0"/><circle cx="824.8" cy="427.1" r="6.0"/><circle cx="825.6" cy="447.0" r="6.0"/><circle cx="827.9" cy="466.9" r="6.0"/><circle cx="830.2" cy="486.9" r="6.0"/><circle cx="832.4" cy="506.8" r="6.0"/><circle cx="835.0" cy="526.7" r="6.0"/><circle cx="837.1" cy="546.6" r="6.0"/><circle cx="838.6" cy="566.5" r="6.0"/><circle cx="840.1" cy="586.4" r="6.0"/><circle cx="842.3" cy="606.3" r="6.0"/><circle cx="842.8" cy="626.2" r="6.0"/><circle cx="844.5" cy="646.1" r="6.0"/><circle cx="848.4" cy="666.0" r="6.0"/><circle cx="849.9" cy="686.0" r="6.0"/><circle cx="852.2" cy="705.9" r="6.0"/><circle cx="853.0" cy="725.8" r="6.0"/><circle cx="854.3" cy="745.7" r="6.0"/><circle cx="855.6" cy="765.6" r="6.0"/><circle cx="855.8" cy="785.5" r="6.0"/><circle cx="856.4" cy="805.4" r="6.0"/></g>
<path d="M658.0 19.0L658.0 23.0L658.0 26.9L658.0 30.9L658.0 34.9L658.0 38.9L658.0 42.9L658.0 48.8L658.0 58.8L658.0 68.7L658.0 78.7L659.6 88.7L661.4 98.6L662.1 108.6L665.3 118.5L671.2 138.4L669.0 158.3L666.0 178.2L670.3 198.2L685.7 218.1L740.7 267.8L794.3 317.6L829.3 417.2L840.6 516.7L848.6 616.3L853.4 715.8L855.5 815.4" fill="none" stroke="#ff0000" stroke-width="3.1" stroke-linejoin="round"/>
<path d="M658.9 19.0L658.9 23.0L658.9 26.9L658.9 30.9L658.9 34.9L658.9 38.9L658.9 42.9L658.9 48.8L658.9 58.8L658.9 68.7L658.9 78.7L660.6 88.7L662.4 98.6L663.0 108.6L666.3 118.5L672.2 138.4L669.9 158.3L667.0 178.2L671.2 198.2L686.6 218.1L741.8 267.8L796.3 317.6L832.4 417.2L843.5 516.7L851.2 616.3L855.3 715.8L857.3 815.4" fill="none" stroke="#ff0000" stroke-width="3.1" stroke-linejoin="round"/>
<path d="M658.5 19.0L658.5 23.0L658.5 26.9L658.5 30.9L658.5 34.9L658.5 38.9L658.5 42.9L658.5 48.8L658.5 58.8L658.5 68.7L658.5 78.7L660.1 88.7L661.9 98.6L662.6 108.6L665.8 118.5L671.7 138.4L669.4 158.3L666.5 178.2L670.7 198.2L686.2 218.1L741.2 267.8L795.3 317.6L830.9 417.2L842.0 516.7L849.9 616.3L854.3 715.8L856.4 815.4" fill="none" stroke="#ff0000" stroke-width="3.1" stroke-linejoin="round"/>
<g fill="#ff0000"><circle cx="658.5" cy="19.0" r="6.20"/><circle cx="658.5" cy="23.0" r="6.20"/><circle cx="658.5" cy="26.9" r="6.20"/><circle cx="658.5" cy="30.9" r="6.20"/><circle cx="658.5" cy="34.9" r="6.20"/><circle cx="658.5" cy="38.9" r="6.20"/><circle cx="658.5" cy="42.9" r="6.20"/><circle cx="658.5" cy="48.8" r="6.20"/><circle cx="658.5" cy="58.8" r="6.20"/><circle cx="658.5" cy="68.7" r="6.20"/><circle cx="658.5" cy="78.7" r="6.20"/><circle cx="660.1" cy="88.7" r="6.20"/><circle cx="661.9" cy="98.6" r="6.20"/><circle cx="662.6" cy="108.6" r="6.20"/><circle cx="665.8" cy="118.5" r="6.20"/><circle cx="671.7" cy="138.4" r="6.20"/><circle cx="669.4" cy="158.3" r="6.20"/><circle cx="666.5" cy="178.2" r="6.20"/><circle cx="670.7" cy="198.2" r="6.20"/><circle cx="686.2" cy="218.1" r="6.20"/><circle cx="741.2" cy="267.8" r="6.22"/><circle cx="795.3" cy="317.6" r="6.40"/><circle cx="830.9" cy="417.2" r="6.65"/><circle cx="842.0" cy="516.7" r="6.60"/><circle cx="849.9" cy="616.3" r="6.55"/><circle cx="854.3" cy="715.8" r="6.40"/><circle cx="856.4" cy="815.4" r="6.38"/></g>
<path d="M706.6 19.0L706.6 23.0L706.6 26.9L706.6 30.9L706.6 34.9L706.6 38.9L706.6 42.9L706.6 48.8L706.6 58.8L706.6 68.7L706.6 78.7L706.6 88.7L706.6 98.6L706.6 108.6L706.6 118.5L707.5 138.4L705.3 158.3L693.7 178.2L690.4 198.2L692.2 218.1L712.4 267.8L753.5 317.6L798.8 417.2L816.5 516.7L826.5 616.3L835.5 715.8L842.3 815.4" fill="none" stroke="#008000" stroke-width="3.1" stroke-linejoin="round" stroke-linecap="butt"/>
<g fill="#008000"><circle cx="706.6" cy="19.0" r="6.0"/><circle cx="706.6" cy="23.0" r="6.0"/><circle cx="706.6" cy="26.9" r="6.0"/><circle cx="706.6" cy="30.9" r="6.0"/><circle cx="706.6" cy="34.9" r="6.0"/><circle cx="706.6" cy="38.9" r="6.0"/><circle cx="706.6" cy="42.9" r="6.0"/><circle cx="706.6" cy="48.8" r="6.0"/><circle cx="706.6" cy="58.8" r="6.0"/><circle cx="706.6" cy="68.7" r="6.0"/><circle cx="706.6" cy="78.7" r="6.0"/><circle cx="706.6" cy="88.7" r="6.0"/><circle cx="706.6" cy="98.6" r="6.0"/><circle cx="706.6" cy="108.6" r="6.0"/><circle cx="706.6" cy="118.5" r="6.0"/><circle cx="707.5" cy="138.4" r="6.0"/><circle cx="705.3" cy="158.3" r="6.0"/><circle cx="693.7" cy="178.2" r="6.0"/><circle cx="690.4" cy="198.2" r="6.0"/><circle cx="692.2" cy="218.1" r="6.0"/><circle cx="712.4" cy="267.8" r="6.0"/><circle cx="753.5" cy="317.6" r="6.0"/><circle cx="798.8" cy="417.2" r="6.0"/><circle cx="816.5" cy="516.7" r="6.0"/><circle cx="826.5" cy="616.3" r="6.0"/><circle cx="835.5" cy="715.8" r="6.0"/><circle cx="842.3" cy="815.4" r="6.0"/></g>
<path d="M658.5 19.9L658.5 22.0L658.5 24.2L658.5 26.6L658.5 29.1L658.5 31.8L658.5 34.8L658.5 38.0L658.5 41.7L658.5 45.8L658.5 50.4L658.5 55.8L658.5 62.0L658.5 69.1L658.5 77.5L658.5 87.5L658.5 99.2L658.5 113.3L658.5 130.1L667.5 150.0L679.8 174.1L700.6 202.7L728.6 237.4L758.8 279.2L789.4 329.4L812.4 389.5L828.6 462.0L837.4 548.6L845.6 652.3L850.5 775.9" fill="none" stroke="#ff00ff" stroke-width="3.0" stroke-linejoin="round" stroke-linecap="butt"/>
<g fill="#ff00ff"><circle cx="658.5" cy="19.9" r="6.0"/><circle cx="658.5" cy="22.0" r="6.0"/><circle cx="658.5" cy="24.2" r="6.0"/><circle cx="658.5" cy="26.6" r="6.0"/><circle cx="658.5" cy="29.1" r="6.0"/><circle cx="658.5" cy="31.8" r="6.0"/><circle cx="658.5" cy="34.8" r="6.0"/><circle cx="658.5" cy="38.0" r="6.0"/><circle cx="658.5" cy="41.7" r="6.0"/><circle cx="658.5" cy="45.8" r="6.0"/><circle cx="658.5" cy="50.4" r="6.0"/><circle cx="658.5" cy="55.8" r="6.0"/><circle cx="658.5" cy="62.0" r="6.0"/><circle cx="658.5" cy="69.1" r="6.0"/><circle cx="658.5" cy="77.5" r="6.0"/><circle cx="658.5" cy="87.5" r="6.0"/><circle cx="658.5" cy="99.2" r="6.0"/><circle cx="658.5" cy="113.3" r="6.0"/><circle cx="658.5" cy="130.1" r="6.0"/><circle cx="667.5" cy="150.0" r="6.0"/><circle cx="679.8" cy="174.1" r="6.0"/><circle cx="700.6" cy="202.7" r="6.0"/><circle cx="728.6" cy="237.4" r="6.0"/><circle cx="758.8" cy="279.2" r="6.0"/><circle cx="789.4" cy="329.4" r="6.0"/><circle cx="812.4" cy="389.5" r="6.0"/><circle cx="828.6" cy="462.0" r="6.0"/><circle cx="837.4" cy="548.6" r="6.0"/><circle cx="845.6" cy="652.3" r="6.0"/><circle cx="850.5" cy="775.9" r="6.0"/></g>
</g>
<g clip-path="url(#c2)">
<g fill="#00ffff"><circle cx="1081.0" cy="24.7" r="3.3"/><circle cx="1080.8" cy="32.6" r="3.3"/><circle cx="1081.3" cy="40.6" r="3.3"/><circle cx="1080.0" cy="48.6" r="3.3"/><circle cx="1080.8" cy="56.5" r="3.3"/><circle cx="1080.5" cy="64.5" r="3.3"/><circle cx="1080.9" cy="72.4" r="3.3"/><circle cx="1080.1" cy="80.4" r="3.3"/><circle cx="1080.6" cy="88.4" r="3.3"/><circle cx="1080.6" cy="96.3" r="3.3"/><circle cx="1081.5" cy="104.3" r="3.3"/><circle cx="1081.1" cy="112.3" r="3.3"/><circle cx="1081.9" cy="120.2" r="3.3"/><circle cx="1082.9" cy="128.2" r="3.3"/><circle cx="1083.9" cy="136.2" r="3.3"/><circle cx="1085.9" cy="144.1" r="3.3"/><circle cx="1087.8" cy="152.1" r="3.3"/><circle cx="1089.8" cy="160.0" r="3.3"/><circle cx="1093.4" cy="168.0" r="3.3"/><circle cx="1096.3" cy="176.0" r="3.3"/><circle cx="1098.1" cy="183.9" r="3.3"/><circle cx="1100.4" cy="191.9" r="3.3"/><circle cx="1103.2" cy="199.9" r="3.3"/><circle cx="1104.6" cy="207.8" r="3.3"/><circle cx="1107.0" cy="215.8" r="3.3"/><circle cx="1108.1" cy="223.8" r="3.3"/><circle cx="1110.9" cy="231.7" r="3.3"/><circle cx="1111.4" cy="239.7" r="3.3"/><circle cx="1113.4" cy="247.7" r="3.3"/><circle cx="1114.5" cy="255.6" r="3.3"/><circle cx="1116.0" cy="263.6" r="3.3"/><circle cx="1117.1" cy="271.5" r="3.3"/><circle cx="1118.7" cy="279.5" r="3.3"/><circle cx="1119.5" cy="287.5" r="3.3"/><circle cx="1121.4" cy="295.4" r="3.3"/><circle cx="1121.6" cy="303.4" r="3.3"/><circle cx="1122.8" cy="311.4" r="3.3"/><circle cx="1124.1" cy="319.3" r="3.3"/><circle cx="1125.0" cy="327.3" r="3.3"/><circle cx="1125.9" cy="335.3" r="3.3"/><circle cx="1126.8" cy="343.2" r="3.3"/><circle cx="1127.4" cy="351.2" r="3.3"/><circle cx="1128.2" cy="359.1" r="3.3"/><circle cx="1129.1" cy="367.1" r="3.3"/><circle cx="1129.0" cy="375.1" r="3.3"/><circle cx="1130.5" cy="383.0" r="3.3"/><circle cx="1131.4" cy="391.0" r="3.3"/><circle cx="1131.8" cy="399.0" r="3.3"/><circle cx="1132.4" cy="406.9" r="3.3"/><circle cx="1132.2" cy="414.9" r="3.3"/><circle cx="1132.4" cy="422.9" r="3.3"/><circle cx="1133.1" cy="430.8" r="3.3"/><circle cx="1134.0" cy="438.8" r="3.3"/><circle cx="1134.1" cy="446.8" r="3.3"/><circle cx="1134.1" cy="454.7" r="3.3"/><circle cx="1136.0" cy="462.7" r="3.3"/><circle cx="1136.4" cy="470.6" r="3.3"/><circle cx="1136.9" cy="478.6" r="3.3"/><circle cx="1137.3" cy="486.6" r="3.3"/><circle cx="1138.1" cy="494.5" r="3.3"/><circle cx="1138.2" cy="502.5" r="3.3"/><circle cx="1138.7" cy="510.5" r="3.3"/><circle cx="1139.9" cy="518.4" r="3.3"/><circle cx="1139.8" cy="526.4" r="3.3"/><circle cx="1140.8" cy="534.4" r="3.3"/><circle cx="1141.1" cy="542.3" r="3.3"/><circle cx="1141.0" cy="550.3" r="3.3"/><circle cx="1142.6" cy="558.2" r="3.3"/><circle cx="1143.6" cy="566.2" r="3.3"/><circle cx="1143.6" cy="574.2" r="3.3"/><circle cx="1143.7" cy="582.1" r="3.3"/><circle cx="1144.2" cy="590.1" r="3.3"/><circle cx="1145.1" cy="598.1" r="3.3"/><circle cx="1144.8" cy="606.0" r="3.3"/><circle cx="1145.0" cy="614.0" r="3.3"/><circle cx="1146.1" cy="622.0" r="3.3"/><circle cx="1146.5" cy="629.9" r="3.3"/><circle cx="1146.6" cy="637.9" r="3.3"/><circle cx="1146.9" cy="645.9" r="3.3"/><circle cx="1147.8" cy="653.8" r="3.3"/><circle cx="1147.2" cy="661.8" r="3.3"/><circle cx="1148.0" cy="669.7" r="3.3"/><circle cx="1148.7" cy="677.7" r="3.3"/><circle cx="1150.3" cy="685.7" r="3.3"/><circle cx="1149.7" cy="693.6" r="3.3"/><circle cx="1150.9" cy="701.6" r="3.3"/><circle cx="1151.1" cy="709.6" r="3.3"/><circle cx="1152.0" cy="717.5" r="3.3"/><circle cx="1152.5" cy="725.5" r="3.3"/><circle cx="1152.1" cy="733.5" r="3.3"/><circle cx="1152.6" cy="741.4" r="3.3"/><circle cx="1152.4" cy="749.4" r="3.3"/><circle cx="1153.0" cy="757.3" r="3.3"/><circle cx="1154.0" cy="765.3" r="3.3"/><circle cx="1153.6" cy="773.3" r="3.3"/><circle cx="1154.1" cy="781.2" r="3.3"/><circle cx="1154.8" cy="789.2" r="3.3"/><circle cx="1154.9" cy="797.2" r="3.3"/><circle cx="1155.1" cy="805.1" r="3.3"/><circle cx="1154.6" cy="813.1" r="3.3"/><circle cx="1081.5" cy="22.2" r="3.3"/><circle cx="1081.3" cy="30.1" r="3.3"/><circle cx="1081.8" cy="38.1" r="3.3"/><circle cx="1081.1" cy="46.0" r="3.3"/><circle cx="1081.0" cy="54.0" r="3.3"/><circle cx="1080.9" cy="62.0" r="3.3"/><circle cx="1082.0" cy="69.9" r="3.3"/><circle cx="1081.2" cy="77.9" r="3.3"/><circle cx="1081.1" cy="85.9" r="3.3"/><circle cx="1081.2" cy="93.8" r="3.3"/><circle cx="1081.8" cy="101.8" r="3.3"/><circle cx="1081.9" cy="109.8" r="3.3"/><circle cx="1082.9" cy="117.7" r="3.3"/><circle cx="1083.6" cy="125.7" r="3.3"/><circle cx="1084.5" cy="133.7" r="3.3"/><circle cx="1086.3" cy="141.6" r="3.3"/><circle cx="1088.7" cy="149.6" r="3.3"/><circle cx="1090.9" cy="157.5" r="3.3"/><circle cx="1093.8" cy="165.5" r="3.3"/><circle cx="1096.6" cy="173.5" r="3.3"/><circle cx="1099.2" cy="181.4" r="3.3"/><circle cx="1100.7" cy="189.4" r="3.3"/><circle cx="1103.7" cy="197.4" r="3.3"/><circle cx="1105.7" cy="205.3" r="3.3"/><circle cx="1108.4" cy="213.3" r="3.3"/><circle cx="1109.2" cy="221.3" r="3.3"/><circle cx="1111.3" cy="229.2" r="3.3"/><circle cx="1113.0" cy="237.2" r="3.3"/><circle cx="1114.4" cy="245.1" r="3.3"/><circle cx="1116.4" cy="253.1" r="3.3"/><circle cx="1117.2" cy="261.1" r="3.3"/><circle cx="1119.2" cy="269.0" r="3.3"/><circle cx="1119.4" cy="277.0" r="3.3"/><circle cx="1120.5" cy="285.0" r="3.3"/><circle cx="1122.7" cy="292.9" r="3.3"/><circle cx="1123.3" cy="300.9" r="3.3"/><circle cx="1124.2" cy="308.9" r="3.3"/><circle cx="1124.9" cy="316.8" r="3.3"/><circle cx="1126.0" cy="324.8" r="3.3"/><circle cx="1126.1" cy="332.8" r="3.3"/><circle cx="1127.7" cy="340.7" r="3.3"/><circle cx="1127.9" cy="348.7" r="3.3"/><circle cx="1129.2" cy="356.6" r="3.3"/><circle cx="1129.5" cy="364.6" r="3.3"/><circle cx="1129.4" cy="372.6" r="3.3"/><circle cx="1130.6" cy="380.5" r="3.3"/><circle cx="1132.4" cy="388.5" r="3.3"/><circle cx="1132.2" cy="396.5" r="3.3"/><circle cx="1132.4" cy="404.4" r="3.3"/><circle cx="1132.9" cy="412.4" r="3.3"/><circle cx="1132.9" cy="420.4" r="3.3"/><circle cx="1133.2" cy="428.3" r="3.3"/><circle cx="1133.9" cy="436.3" r="3.3"/><circle cx="1134.5" cy="444.2" r="3.3"/><circle cx="1135.5" cy="452.2" r="3.3"/><circle cx="1135.3" cy="460.2" r="3.3"/><circle cx="1136.5" cy="468.1" r="3.3"/><circle cx="1137.1" cy="476.1" r="3.3"/><circle cx="1137.8" cy="484.1" r="3.3"/><circle cx="1138.2" cy="492.0" r="3.3"/><circle cx="1138.3" cy="500.0" r="3.3"/><circle cx="1138.7" cy="508.0" r="3.3"/><circle cx="1139.0" cy="515.9" r="3.3"/><circle cx="1139.2" cy="523.9" r="3.3"/><circle cx="1139.8" cy="531.9" r="3.3"/><circle cx="1140.3" cy="539.8" r="3.3"/><circle cx="1142.0" cy="547.8" r="3.3"/><circle cx="1142.1" cy="555.7" r="3.3"/><circle cx="1142.3" cy="563.7" r="3.3"/><circle cx="1142.2" cy="571.7" r="3.3"/><circle cx="1143.4" cy="579.6" r="3.3"/><circle cx="1143.8" cy="587.6" r="3.3"/><circle cx="1143.9" cy="595.6" r="3.3"/><circle cx="1144.3" cy="603.5" r="3.3"/><circle cx="1144.2" cy="611.5" r="3.3"/><circle cx="1145.8" cy="619.5" r="3.3"/><circle cx="1146.1" cy="627.4" r="3.3"/><circle cx="1147.7" cy="635.4" r="3.3"/><circle cx="1147.1" cy="643.3" r="3.3"/><circle cx="1147.5" cy="651.3" r="3.3"/><circle cx="1148.5" cy="659.3" r="3.3"/><circle cx="1148.4" cy="667.2" r="3.3"/><circle cx="1149.0" cy="675.2" r="3.3"/><circle cx="1149.5" cy="683.2" r="3.3"/><circle cx="1150.1" cy="691.1" r="3.3"/><circle cx="1151.6" cy="699.1" r="3.3"/><circle cx="1151.9" cy="707.1" r="3.3"/><circle cx="1152.7" cy="715.0" r="3.3"/><circle cx="1152.4" cy="723.0" r="3.3"/><circle cx="1153.0" cy="731.0" r="3.3"/><circle cx="1153.0" cy="738.9" r="3.3"/><circle cx="1154.0" cy="746.9" r="3.3"/><circle cx="1153.6" cy="754.8" r="3.3"/><circle cx="1154.9" cy="762.8" r="3.3"/><circle cx="1155.6" cy="770.8" r="3.3"/><circle cx="1156.2" cy="778.7" r="3.3"/><circle cx="1155.7" cy="786.7" r="3.3"/><circle cx="1156.8" cy="794.7" r="3.3"/><circle cx="1156.4" cy="802.6" r="3.3"/><circle cx="1156.6" cy="810.6" r="3.3"/><circle cx="1081.1" cy="24.7" r="3.3"/><circle cx="1080.5" cy="32.7" r="3.3"/><circle cx="1081.0" cy="40.7" r="3.3"/><circle cx="1081.2" cy="48.6" r="3.3"/><circle cx="1081.7" cy="56.6" r="3.3"/><circle cx="1081.0" cy="64.5" r="3.3"/><circle cx="1081.3" cy="72.5" r="3.3"/><circle cx="1080.8" cy="80.5" r="3.3"/><circle cx="1080.3" cy="88.4" r="3.3"/><circle cx="1080.8" cy="96.4" r="3.3"/><circle cx="1082.2" cy="104.4" r="3.3"/><circle cx="1081.9" cy="112.3" r="3.3"/><circle cx="1083.1" cy="120.3" r="3.3"/><circle cx="1084.5" cy="128.3" r="3.3"/><circle cx="1085.9" cy="136.2" r="3.3"/><circle cx="1087.4" cy="144.2" r="3.3"/><circle cx="1089.5" cy="152.1" r="3.3"/><circle cx="1091.9" cy="160.1" r="3.3"/><circle cx="1095.7" cy="168.1" r="3.3"/><circle cx="1097.3" cy="176.0" r="3.3"/><circle cx="1100.2" cy="184.0" r="3.3"/><circle cx="1102.8" cy="192.0" r="3.3"/><circle cx="1104.9" cy="199.9" r="3.3"/><circle cx="1107.5" cy="207.9" r="3.3"/><circle cx="1108.5" cy="215.9" r="3.3"/><circle cx="1110.5" cy="223.8" r="3.3"/><circle cx="1112.8" cy="231.8" r="3.3"/><circle cx="1114.1" cy="239.8" r="3.3"/><circle cx="1116.0" cy="247.7" r="3.3"/><circle cx="1116.5" cy="255.7" r="3.3"/><circle cx="1119.0" cy="263.6" r="3.3"/><circle cx="1119.7" cy="271.6" r="3.3"/><circle cx="1121.2" cy="279.6" r="3.3"/><circle cx="1123.3" cy="287.5" r="3.3"/><circle cx="1123.8" cy="295.5" r="3.3"/><circle cx="1124.0" cy="303.5" r="3.3"/><circle cx="1125.8" cy="311.4" r="3.3"/><circle cx="1126.3" cy="319.4" r="3.3"/><circle cx="1127.9" cy="327.4" r="3.3"/><circle cx="1128.5" cy="335.3" r="3.3"/><circle cx="1129.1" cy="343.3" r="3.3"/><circle cx="1129.6" cy="351.2" r="3.3"/><circle cx="1130.6" cy="359.2" r="3.3"/><circle cx="1130.4" cy="367.2" r="3.3"/><circle cx="1132.2" cy="375.1" r="3.3"/><circle cx="1133.6" cy="383.1" r="3.3"/><circle cx="1133.5" cy="391.1" r="3.3"/><circle cx="1133.6" cy="399.0" r="3.3"/><circle cx="1134.4" cy="407.0" r="3.3"/><circle cx="1134.9" cy="415.0" r="3.3"/><circle cx="1134.9" cy="422.9" r="3.3"/><circle cx="1134.6" cy="430.9" r="3.3"/><circle cx="1135.6" cy="438.9" r="3.3"/><circle cx="1136.3" cy="446.8" r="3.3"/><circle cx="1136.9" cy="454.8" r="3.3"/><circle cx="1136.4" cy="462.7" r="3.3"/><circle cx="1137.6" cy="470.7" r="3.3"/><circle cx="1138.8" cy="478.7" r="3.3"/><circle cx="1139.6" cy="486.6" r="3.3"/><circle cx="1138.9" cy="494.6" r="3.3"/><circle cx="1139.3" cy="502.6" r="3.3"/><circle cx="1140.1" cy="510.5" r="3.3"/><circle cx="1140.2" cy="518.5" r="3.3"/><circle cx="1140.6" cy="526.5" r="3.3"/><circle cx="1141.4" cy="534.4" r="3.3"/><circle cx="1142.2" cy="542.4" r="3.3"/><circle cx="1142.4" cy="550.3" r="3.3"/><circle cx="1142.6" cy="558.3" r="3.3"/><circle cx="1143.0" cy="566.3" r="3.3"/><circle cx="1143.7" cy="574.2" r="3.3"/><circle cx="1144.0" cy="582.2" r="3.3"/><circle cx="1144.6" cy="590.2" r="3.3"/><circle cx="1146.2" cy="598.1" r="3.3"/><circle cx="1145.6" cy="606.1" r="3.3"/><circle cx="1145.4" cy="614.1" r="3.3"/><circle cx="1146.1" cy="622.0" r="3.3"/><circle cx="1146.0" cy="630.0" r="3.3"/><circle cx="1146.3" cy="638.0" r="3.3"/><circle cx="1147.6" cy="645.9" r="3.3"/><circle cx="1148.1" cy="653.9" r="3.3"/><circle cx="1147.7" cy="661.8" r="3.3"/><circle cx="1148.7" cy="669.8" r="3.3"/><circle cx="1149.1" cy="677.8" r="3.3"/><circle cx="1149.7" cy="685.7" r="3.3"/><circle cx="1151.1" cy="693.7" r="3.3"/><circle cx="1150.8" cy="701.7" r="3.3"/><circle cx="1150.8" cy="709.6" r="3.3"/><circle cx="1151.9" cy="717.6" r="3.3"/><circle cx="1152.3" cy="725.6" r="3.3"/><circle cx="1153.4" cy="733.5" r="3.3"/><circle cx="1152.1" cy="741.5" r="3.3"/><circle cx="1153.8" cy="749.4" r="3.3"/><circle cx="1154.0" cy="757.4" r="3.3"/><circle cx="1153.8" cy="765.4" r="3.3"/><circle cx="1155.3" cy="773.3" r="3.3"/><circle cx="1155.4" cy="781.3" r="3.3"/><circle cx="1156.2" cy="789.3" r="3.3"/><circle cx="1156.3" cy="797.2" r="3.3"/><circle cx="1156.7" cy="805.2" r="3.3"/><circle cx="1156.9" cy="813.2" r="3.3"/><circle cx="1081.0" cy="24.4" r="3.3"/><circle cx="1082.1" cy="32.4" r="3.3"/><circle cx="1082.0" cy="40.4" r="3.3"/><circle cx="1081.7" cy="48.3" r="3.3"/><circle cx="1081.4" cy="56.3" r="3.3"/><circle cx="1081.5" cy="64.2" r="3.3"/><circle cx="1082.4" cy="72.2" r="3.3"/><circle cx="1082.4" cy="80.2" r="3.3"/><circle cx="1081.7" cy="88.1" r="3.3"/><circle cx="1082.6" cy="96.1" r="3.3"/><circle cx="1081.8" cy="104.1" r="3.3"/><circle cx="1082.4" cy="112.0" r="3.3"/><circle cx="1083.8" cy="120.0" r="3.3"/><circle cx="1084.7" cy="128.0" r="3.3"/><circle cx="1086.8" cy="135.9" r="3.3"/><circle cx="1089.1" cy="143.9" r="3.3"/><circle cx="1092.6" cy="151.9" r="3.3"/><circle cx="1093.8" cy="159.8" r="3.3"/><circle cx="1096.7" cy="167.8" r="3.3"/><circle cx="1099.2" cy="175.7" r="3.3"/><circle cx="1101.5" cy="183.7" r="3.3"/><circle cx="1104.1" cy="191.7" r="3.3"/><circle cx="1106.6" cy="199.6" r="3.3"/><circle cx="1107.5" cy="207.6" r="3.3"/><circle cx="1109.7" cy="215.6" r="3.3"/><circle cx="1111.2" cy="223.5" r="3.3"/><circle cx="1113.1" cy="231.5" r="3.3"/><circle cx="1113.8" cy="239.5" r="3.3"/><circle cx="1115.1" cy="247.4" r="3.3"/><circle cx="1116.3" cy="255.4" r="3.3"/><circle cx="1118.8" cy="263.3" r="3.3"/><circle cx="1120.1" cy="271.3" r="3.3"/><circle cx="1121.2" cy="279.3" r="3.3"/><circle cx="1121.5" cy="287.2" r="3.3"/><circle cx="1123.3" cy="295.2" r="3.3"/><circle cx="1124.1" cy="303.2" r="3.3"/><circle cx="1124.8" cy="311.1" r="3.3"/><circle cx="1126.0" cy="319.1" r="3.3"/><circle cx="1127.6" cy="327.1" r="3.3"/><circle cx="1128.4" cy="335.0" r="3.3"/><circle cx="1129.0" cy="343.0" r="3.3"/><circle cx="1130.1" cy="351.0" r="3.3"/><circle cx="1130.4" cy="358.9" r="3.3"/><circle cx="1131.4" cy="366.9" r="3.3"/><circle cx="1132.3" cy="374.8" r="3.3"/><circle cx="1133.5" cy="382.8" r="3.3"/><circle cx="1134.1" cy="390.8" r="3.3"/><circle cx="1134.4" cy="398.7" r="3.3"/><circle cx="1134.8" cy="406.7" r="3.3"/><circle cx="1134.9" cy="414.7" r="3.3"/><circle cx="1136.4" cy="422.6" r="3.3"/><circle cx="1136.2" cy="430.6" r="3.3"/><circle cx="1136.8" cy="438.6" r="3.3"/><circle cx="1138.1" cy="446.5" r="3.3"/><circle cx="1138.2" cy="454.5" r="3.3"/><circle cx="1137.5" cy="462.4" r="3.3"/><circle cx="1139.0" cy="470.4" r="3.3"/><circle cx="1139.8" cy="478.4" r="3.3"/><circle cx="1141.0" cy="486.3" r="3.3"/><circle cx="1141.2" cy="494.3" r="3.3"/><circle cx="1141.5" cy="502.3" r="3.3"/><circle cx="1141.1" cy="510.2" r="3.3"/><circle cx="1141.6" cy="518.2" r="3.3"/><circle cx="1142.4" cy="526.2" r="3.3"/><circle cx="1143.2" cy="534.1" r="3.3"/><circle cx="1143.3" cy="542.1" r="3.3"/><circle cx="1144.1" cy="550.1" r="3.3"/><circle cx="1144.5" cy="558.0" r="3.3"/><circle cx="1145.2" cy="566.0" r="3.3"/><circle cx="1145.7" cy="573.9" r="3.3"/><circle cx="1145.8" cy="581.9" r="3.3"/><circle cx="1145.8" cy="589.9" r="3.3"/><circle cx="1147.0" cy="597.8" r="3.3"/><circle cx="1147.5" cy="605.8" r="3.3"/><circle cx="1147.2" cy="613.8" r="3.3"/><circle cx="1148.1" cy="621.7" r="3.3"/><circle cx="1148.2" cy="629.7" r="3.3"/><circle cx="1148.6" cy="637.7" r="3.3"/><circle cx="1148.9" cy="645.6" r="3.3"/><circle cx="1148.7" cy="653.6" r="3.3"/><circle cx="1149.5" cy="661.5" r="3.3"/><circle cx="1150.1" cy="669.5" r="3.3"/><circle cx="1149.9" cy="677.5" r="3.3"/><circle cx="1151.7" cy="685.4" r="3.3"/><circle cx="1152.2" cy="693.4" r="3.3"/><circle cx="1152.6" cy="701.4" r="3.3"/><circle cx="1153.1" cy="709.3" r="3.3"/><circle cx="1153.0" cy="717.3" r="3.3"/><circle cx="1152.9" cy="725.3" r="3.3"/><circle cx="1153.1" cy="733.2" r="3.3"/><circle cx="1153.2" cy="741.2" r="3.3"/><circle cx="1153.9" cy="749.2" r="3.3"/><circle cx="1154.3" cy="757.1" r="3.3"/><circle cx="1155.1" cy="765.1" r="3.3"/><circle cx="1154.5" cy="773.0" r="3.3"/><circle cx="1156.6" cy="781.0" r="3.3"/><circle cx="1156.9" cy="789.0" r="3.3"/><circle cx="1156.3" cy="796.9" r="3.3"/><circle cx="1156.9" cy="804.9" r="3.3"/><circle cx="1156.9" cy="812.9" r="3.3"/><circle cx="1082.7" cy="23.9" r="3.3"/><circle cx="1084.2" cy="31.8" r="3.3"/><circle cx="1083.9" cy="39.8" r="3.3"/><circle cx="1083.3" cy="47.7" r="3.3"/><circle cx="1083.1" cy="55.7" r="3.3"/><circle cx="1083.4" cy="63.7" r="3.3"/><circle cx="1084.0" cy="71.6" r="3.3"/><circle cx="1083.3" cy="79.6" r="3.3"/><circle cx="1083.2" cy="87.6" r="3.3"/><circle cx="1083.8" cy="95.5" r="3.3"/><circle cx="1083.5" cy="103.5" r="3.3"/><circle cx="1085.4" cy="111.5" r="3.3"/><circle cx="1086.0" cy="119.4" r="3.3"/><circle cx="1087.6" cy="127.4" r="3.3"/><circle cx="1089.3" cy="135.3" r="3.3"/><circle cx="1091.4" cy="143.3" r="3.3"/><circle cx="1093.8" cy="151.3" r="3.3"/><circle cx="1095.8" cy="159.2" r="3.3"/><circle cx="1099.1" cy="167.2" r="3.3"/><circle cx="1101.7" cy="175.2" r="3.3"/><circle cx="1104.5" cy="183.1" r="3.3"/><circle cx="1106.5" cy="191.1" r="3.3"/><circle cx="1108.0" cy="199.1" r="3.3"/><circle cx="1110.2" cy="207.0" r="3.3"/><circle cx="1112.0" cy="215.0" r="3.3"/><circle cx="1114.1" cy="223.0" r="3.3"/><circle cx="1114.8" cy="230.9" r="3.3"/><circle cx="1115.7" cy="238.9" r="3.3"/><circle cx="1117.5" cy="246.8" r="3.3"/><circle cx="1118.9" cy="254.8" r="3.3"/><circle cx="1121.0" cy="262.8" r="3.3"/><circle cx="1121.8" cy="270.7" r="3.3"/><circle cx="1122.1" cy="278.7" r="3.3"/><circle cx="1124.1" cy="286.7" r="3.3"/><circle cx="1125.3" cy="294.6" r="3.3"/><circle cx="1125.7" cy="302.6" r="3.3"/><circle cx="1125.9" cy="310.6" r="3.3"/><circle cx="1127.8" cy="318.5" r="3.3"/><circle cx="1128.3" cy="326.5" r="3.3"/><circle cx="1128.4" cy="334.4" r="3.3"/><circle cx="1130.3" cy="342.4" r="3.3"/><circle cx="1130.2" cy="350.4" r="3.3"/><circle cx="1130.0" cy="358.3" r="3.3"/><circle cx="1131.6" cy="366.3" r="3.3"/><circle cx="1132.3" cy="374.3" r="3.3"/><circle cx="1133.4" cy="382.2" r="3.3"/><circle cx="1134.0" cy="390.2" r="3.3"/><circle cx="1133.8" cy="398.2" r="3.3"/><circle cx="1134.6" cy="406.1" r="3.3"/><circle cx="1135.0" cy="414.1" r="3.3"/><circle cx="1135.0" cy="422.1" r="3.3"/><circle cx="1135.4" cy="430.0" r="3.3"/><circle cx="1135.5" cy="438.0" r="3.3"/><circle cx="1136.4" cy="445.9" r="3.3"/><circle cx="1136.7" cy="453.9" r="3.3"/><circle cx="1137.3" cy="461.9" r="3.3"/><circle cx="1137.8" cy="469.8" r="3.3"/><circle cx="1138.0" cy="477.8" r="3.3"/><circle cx="1139.7" cy="485.8" r="3.3"/><circle cx="1139.7" cy="493.7" r="3.3"/><circle cx="1140.3" cy="501.7" r="3.3"/><circle cx="1140.5" cy="509.7" r="3.3"/><circle cx="1141.2" cy="517.6" r="3.3"/><circle cx="1141.5" cy="525.6" r="3.3"/><circle cx="1143.1" cy="533.5" r="3.3"/><circle cx="1142.5" cy="541.5" r="3.3"/><circle cx="1143.3" cy="549.5" r="3.3"/><circle cx="1144.3" cy="557.4" r="3.3"/><circle cx="1144.3" cy="565.4" r="3.3"/><circle cx="1145.2" cy="573.4" r="3.3"/><circle cx="1146.8" cy="581.3" r="3.3"/><circle cx="1146.3" cy="589.3" r="3.3"/><circle cx="1146.6" cy="597.3" r="3.3"/><circle cx="1147.3" cy="605.2" r="3.3"/><circle cx="1147.8" cy="613.2" r="3.3"/><circle cx="1148.2" cy="621.2" r="3.3"/><circle cx="1148.6" cy="629.1" r="3.3"/><circle cx="1148.9" cy="637.1" r="3.3"/><circle cx="1149.9" cy="645.0" r="3.3"/><circle cx="1150.1" cy="653.0" r="3.3"/><circle cx="1150.2" cy="661.0" r="3.3"/><circle cx="1150.9" cy="668.9" r="3.3"/><circle cx="1151.1" cy="676.9" r="3.3"/><circle cx="1151.9" cy="684.9" r="3.3"/><circle cx="1152.1" cy="692.8" r="3.3"/><circle cx="1153.2" cy="700.8" r="3.3"/><circle cx="1154.4" cy="708.8" r="3.3"/><circle cx="1154.8" cy="716.7" r="3.3"/><circle cx="1154.7" cy="724.7" r="3.3"/><circle cx="1154.9" cy="732.6" r="3.3"/><circle cx="1155.6" cy="740.6" r="3.3"/><circle cx="1156.1" cy="748.6" r="3.3"/><circle cx="1156.0" cy="756.5" r="3.3"/><circle cx="1156.8" cy="764.5" r="3.3"/><circle cx="1157.5" cy="772.5" r="3.3"/><circle cx="1157.9" cy="780.4" r="3.3"/><circle cx="1158.3" cy="788.4" r="3.3"/><circle cx="1158.7" cy="796.4" r="3.3"/><circle cx="1158.8" cy="804.3" r="3.3"/><circle cx="1158.5" cy="812.3" r="3.3"/><circle cx="1083.1" cy="21.6" r="3.3"/><circle cx="1081.9" cy="29.6" r="3.3"/><circle cx="1082.4" cy="37.5" r="3.3"/><circle cx="1083.0" cy="45.5" r="3.3"/><circle cx="1083.0" cy="53.5" r="3.3"/><circle cx="1082.3" cy="61.4" r="3.3"/><circle cx="1082.0" cy="69.4" r="3.3"/><circle cx="1083.4" cy="77.4" r="3.3"/><circle cx="1082.9" cy="85.3" r="3.3"/><circle cx="1082.8" cy="93.3" r="3.3"/><circle cx="1083.6" cy="101.3" r="3.3"/><circle cx="1084.5" cy="109.2" r="3.3"/><circle cx="1084.0" cy="117.2" r="3.3"/><circle cx="1086.4" cy="125.1" r="3.3"/><circle cx="1088.0" cy="133.1" r="3.3"/><circle cx="1089.0" cy="141.1" r="3.3"/><circle cx="1092.4" cy="149.0" r="3.3"/><circle cx="1094.2" cy="157.0" r="3.3"/><circle cx="1098.1" cy="165.0" r="3.3"/><circle cx="1100.4" cy="172.9" r="3.3"/><circle cx="1103.8" cy="180.9" r="3.3"/><circle cx="1105.1" cy="188.9" r="3.3"/><circle cx="1107.5" cy="196.8" r="3.3"/><circle cx="1110.2" cy="204.8" r="3.3"/><circle cx="1111.3" cy="212.8" r="3.3"/><circle cx="1113.1" cy="220.7" r="3.3"/><circle cx="1114.9" cy="228.7" r="3.3"/><circle cx="1116.5" cy="236.6" r="3.3"/><circle cx="1117.7" cy="244.6" r="3.3"/><circle cx="1119.8" cy="252.6" r="3.3"/><circle cx="1121.3" cy="260.5" r="3.3"/><circle cx="1122.4" cy="268.5" r="3.3"/><circle cx="1124.3" cy="276.5" r="3.3"/><circle cx="1124.7" cy="284.4" r="3.3"/><circle cx="1126.3" cy="292.4" r="3.3"/><circle cx="1126.5" cy="300.4" r="3.3"/><circle cx="1128.0" cy="308.3" r="3.3"/><circle cx="1127.9" cy="316.3" r="3.3"/><circle cx="1129.6" cy="324.2" r="3.3"/><circle cx="1130.3" cy="332.2" r="3.3"/><circle cx="1131.0" cy="340.2" r="3.3"/><circle cx="1131.7" cy="348.1" r="3.3"/><circle cx="1132.5" cy="356.1" r="3.3"/><circle cx="1133.1" cy="364.1" r="3.3"/><circle cx="1133.4" cy="372.0" r="3.3"/><circle cx="1134.9" cy="380.0" r="3.3"/><circle cx="1135.4" cy="388.0" r="3.3"/><circle cx="1135.7" cy="395.9" r="3.3"/><circle cx="1135.8" cy="403.9" r="3.3"/><circle cx="1136.4" cy="411.9" r="3.3"/><circle cx="1137.1" cy="419.8" r="3.3"/><circle cx="1137.1" cy="427.8" r="3.3"/><circle cx="1137.5" cy="435.7" r="3.3"/><circle cx="1138.8" cy="443.7" r="3.3"/><circle cx="1139.0" cy="451.7" r="3.3"/><circle cx="1139.4" cy="459.6" r="3.3"/><circle cx="1140.0" cy="467.6" r="3.3"/><circle cx="1140.1" cy="475.6" r="3.3"/><circle cx="1140.9" cy="483.5" r="3.3"/><circle cx="1141.8" cy="491.5" r="3.3"/><circle cx="1141.5" cy="499.5" r="3.3"/><circle cx="1142.0" cy="507.4" r="3.3"/><circle cx="1142.5" cy="515.4" r="3.3"/><circle cx="1142.8" cy="523.3" r="3.3"/><circle cx="1143.2" cy="531.3" r="3.3"/><circle cx="1144.3" cy="539.3" r="3.3"/><circle cx="1144.5" cy="547.2" r="3.3"/><circle cx="1145.3" cy="555.2" r="3.3"/><circle cx="1145.8" cy="563.2" r="3.3"/><circle cx="1146.1" cy="571.1" r="3.3"/><circle cx="1146.5" cy="579.1" r="3.3"/><circle cx="1146.1" cy="587.1" r="3.3"/><circle cx="1146.3" cy="595.0" r="3.3"/><circle cx="1146.9" cy="603.0" r="3.3"/><circle cx="1147.8" cy="611.0" r="3.3"/><circle cx="1148.6" cy="618.9" r="3.3"/><circle cx="1148.0" cy="626.9" r="3.3"/><circle cx="1149.0" cy="634.8" r="3.3"/><circle cx="1148.9" cy="642.8" r="3.3"/><circle cx="1149.3" cy="650.8" r="3.3"/><circle cx="1149.7" cy="658.7" r="3.3"/><circle cx="1150.6" cy="666.7" r="3.3"/><circle cx="1151.1" cy="674.7" r="3.3"/><circle cx="1152.2" cy="682.6" r="3.3"/><circle cx="1151.9" cy="690.6" r="3.3"/><circle cx="1153.2" cy="698.6" r="3.3"/><circle cx="1153.7" cy="706.5" r="3.3"/><circle cx="1153.8" cy="714.5" r="3.3"/><circle cx="1154.4" cy="722.4" r="3.3"/><circle cx="1154.3" cy="730.4" r="3.3"/><circle cx="1154.4" cy="738.4" r="3.3"/><circle cx="1155.1" cy="746.3" r="3.3"/><circle cx="1155.6" cy="754.3" r="3.3"/><circle cx="1157.5" cy="762.3" r="3.3"/><circle cx="1156.6" cy="770.2" r="3.3"/><circle cx="1157.9" cy="778.2" r="3.3"/><circle cx="1157.7" cy="786.2" r="3.3"/><circle cx="1158.1" cy="794.1" r="3.3"/><circle cx="1158.6" cy="802.1" r="3.3"/><circle cx="1158.0" cy="810.1" r="3.3"/><circle cx="1084.4" cy="22.7" r="3.3"/><circle cx="1084.1" cy="30.7" r="3.3"/><circle cx="1084.4" cy="38.6" r="3.3"/><circle cx="1085.2" cy="46.6" r="3.3"/><circle cx="1084.2" cy="54.6" r="3.3"/><circle cx="1083.9" cy="62.5" r="3.3"/><circle cx="1083.9" cy="70.5" r="3.3"/><circle cx="1084.4" cy="78.5" r="3.3"/><circle cx="1084.0" cy="86.4" r="3.3"/><circle cx="1084.1" cy="94.4" r="3.3"/><circle cx="1085.5" cy="102.4" r="3.3"/><circle cx="1085.2" cy="110.3" r="3.3"/><circle cx="1086.0" cy="118.3" r="3.3"/><circle cx="1088.1" cy="126.2" r="3.3"/><circle cx="1090.1" cy="134.2" r="3.3"/><circle cx="1091.4" cy="142.2" r="3.3"/><circle cx="1094.0" cy="150.1" r="3.3"/><circle cx="1097.4" cy="158.1" r="3.3"/><circle cx="1099.5" cy="166.1" r="3.3"/><circle cx="1101.3" cy="174.0" r="3.3"/><circle cx="1105.1" cy="182.0" r="3.3"/><circle cx="1107.1" cy="190.0" r="3.3"/><circle cx="1109.3" cy="197.9" r="3.3"/><circle cx="1110.5" cy="205.9" r="3.3"/><circle cx="1111.7" cy="213.8" r="3.3"/><circle cx="1113.5" cy="221.8" r="3.3"/><circle cx="1115.7" cy="229.8" r="3.3"/><circle cx="1116.4" cy="237.7" r="3.3"/><circle cx="1117.3" cy="245.7" r="3.3"/><circle cx="1119.6" cy="253.7" r="3.3"/><circle cx="1121.0" cy="261.6" r="3.3"/><circle cx="1121.5" cy="269.6" r="3.3"/><circle cx="1122.7" cy="277.6" r="3.3"/><circle cx="1124.5" cy="285.5" r="3.3"/><circle cx="1124.5" cy="293.5" r="3.3"/><circle cx="1126.2" cy="301.5" r="3.3"/><circle cx="1126.9" cy="309.4" r="3.3"/><circle cx="1128.3" cy="317.4" r="3.3"/><circle cx="1128.5" cy="325.3" r="3.3"/><circle cx="1129.5" cy="333.3" r="3.3"/><circle cx="1130.2" cy="341.3" r="3.3"/><circle cx="1131.9" cy="349.2" r="3.3"/><circle cx="1132.3" cy="357.2" r="3.3"/><circle cx="1132.5" cy="365.2" r="3.3"/><circle cx="1133.6" cy="373.1" r="3.3"/><circle cx="1134.9" cy="381.1" r="3.3"/><circle cx="1135.3" cy="389.1" r="3.3"/><circle cx="1135.9" cy="397.0" r="3.3"/><circle cx="1135.6" cy="405.0" r="3.3"/><circle cx="1136.2" cy="412.9" r="3.3"/><circle cx="1137.6" cy="420.9" r="3.3"/><circle cx="1137.9" cy="428.9" r="3.3"/><circle cx="1137.7" cy="436.8" r="3.3"/><circle cx="1139.3" cy="444.8" r="3.3"/><circle cx="1139.7" cy="452.8" r="3.3"/><circle cx="1138.8" cy="460.7" r="3.3"/><circle cx="1140.6" cy="468.7" r="3.3"/><circle cx="1141.7" cy="476.7" r="3.3"/><circle cx="1142.0" cy="484.6" r="3.3"/><circle cx="1142.4" cy="492.6" r="3.3"/><circle cx="1143.4" cy="500.6" r="3.3"/><circle cx="1143.5" cy="508.5" r="3.3"/><circle cx="1142.8" cy="516.5" r="3.3"/><circle cx="1144.3" cy="524.4" r="3.3"/><circle cx="1145.2" cy="532.4" r="3.3"/><circle cx="1145.3" cy="540.4" r="3.3"/><circle cx="1146.8" cy="548.3" r="3.3"/><circle cx="1146.8" cy="556.3" r="3.3"/><circle cx="1146.7" cy="564.3" r="3.3"/><circle cx="1147.7" cy="572.2" r="3.3"/><circle cx="1147.9" cy="580.2" r="3.3"/><circle cx="1148.7" cy="588.2" r="3.3"/><circle cx="1148.5" cy="596.1" r="3.3"/><circle cx="1149.0" cy="604.1" r="3.3"/><circle cx="1150.3" cy="612.0" r="3.3"/><circle cx="1149.9" cy="620.0" r="3.3"/><circle cx="1150.3" cy="628.0" r="3.3"/><circle cx="1150.9" cy="635.9" r="3.3"/><circle cx="1150.9" cy="643.9" r="3.3"/><circle cx="1151.8" cy="651.9" r="3.3"/><circle cx="1151.3" cy="659.8" r="3.3"/><circle cx="1152.2" cy="667.8" r="3.3"/><circle cx="1153.8" cy="675.8" r="3.3"/><circle cx="1152.9" cy="683.7" r="3.3"/><circle cx="1153.6" cy="691.7" r="3.3"/><circle cx="1154.6" cy="699.7" r="3.3"/><circle cx="1154.0" cy="707.6" r="3.3"/><circle cx="1154.4" cy="715.6" r="3.3"/><circle cx="1155.4" cy="723.5" r="3.3"/><circle cx="1156.3" cy="731.5" r="3.3"/><circle cx="1156.2" cy="739.5" r="3.3"/><circle cx="1156.3" cy="747.4" r="3.3"/><circle cx="1156.5" cy="755.4" r="3.3"/><circle cx="1158.4" cy="763.4" r="3.3"/><circle cx="1157.9" cy="771.3" r="3.3"/><circle cx="1157.6" cy="779.3" r="3.3"/><circle cx="1159.0" cy="787.3" r="3.3"/><circle cx="1159.2" cy="795.2" r="3.3"/><circle cx="1158.6" cy="803.2" r="3.3"/><circle cx="1158.1" cy="811.1" r="3.3"/></g>
<path d="M1082.3 19.0L1082.3 23.0L1082.3 26.9L1082.3 30.9L1082.3 34.9L1082.3 38.9L1082.2 42.9L1082.2 48.8L1082.2 58.8L1082.2 68.7L1082.1 78.7L1083.2 88.7L1084.3 98.6L1084.8 108.6L1085.2 118.5L1087.2 138.4L1091.7 158.3L1097.1 178.2L1102.5 198.2L1107.3 218.1L1116.8 267.8L1123.8 317.6L1132.5 417.2L1137.6 516.7L1143.7 616.3L1150.1 715.8L1155.4 815.4" fill="none" stroke="#ff0000" stroke-width="3.1" stroke-linejoin="round"/>
<path d="M1085.3 19.0L1085.3 23.0L1085.3 26.9L1085.3 30.9L1085.3 34.9L1085.4 38.9L1085.4 42.9L1085.4 48.8L1085.4 58.8L1085.4 68.7L1085.5 78.7L1086.6 88.7L1087.7 98.6L1088.2 108.6L1088.8 118.5L1090.8 138.4L1095.3 158.3L1100.9 178.2L1106.5 198.2L1111.3 218.1L1121.7 267.8L1129.6 317.6L1138.3 417.2L1143.4 516.7L1149.5 616.3L1155.9 715.8L1161.2 815.4" fill="none" stroke="#ff0000" stroke-width="3.1" stroke-linejoin="round"/>
<path d="M1083.8 19.0L1083.8 23.0L1083.8 26.9L1083.8 30.9L1083.8 34.9L1083.8 38.9L1083.8 42.9L1083.8 48.8L1083.8 58.8L1083.8 68.7L1083.8 78.7L1084.9 88.7L1086.0 98.6L1086.5 108.6L1087.0 118.5L1089.0 138.4L1093.5 158.3L1099.0 178.2L1104.5 198.2L1109.3 218.1L1119.2 267.8L1126.7 317.6L1135.4 417.2L1140.5 516.7L1146.6 616.3L1153.0 715.8L1158.3 815.4" fill="none" stroke="#ff0000" stroke-width="3.1" stroke-linejoin="round"/>
<g fill="#ff0000"><circle cx="1083.8" cy="19.0" r="6.38"/><circle cx="1083.8" cy="23.0" r="6.38"/><circle cx="1083.8" cy="26.9" r="6.38"/><circle cx="1083.8" cy="30.9" r="6.38"/><circle cx="1083.8" cy="34.9" r="6.38"/><circle cx="1083.8" cy="38.9" r="6.39"/><circle cx="1083.8" cy="42.9" r="6.39"/><circle cx="1083.8" cy="48.8" r="6.39"/><circle cx="1083.8" cy="58.8" r="6.40"/><circle cx="1083.8" cy="68.7" r="6.41"/><circle cx="1083.8" cy="78.7" r="6.41"/><circle cx="1084.9" cy="88.7" r="6.42"/><circle cx="1086.0" cy="98.6" r="6.42"/><circle cx="1086.5" cy="108.6" r="6.43"/><circle cx="1087.0" cy="118.5" r="6.44"/><circle cx="1089.0" cy="138.4" r="6.45"/><circle cx="1093.5" cy="158.3" r="6.46"/><circle cx="1099.0" cy="178.2" r="6.47"/><circle cx="1104.5" cy="198.2" r="6.49"/><circle cx="1109.3" cy="218.1" r="6.50"/><circle cx="1119.2" cy="267.8" r="6.61"/><circle cx="1126.7" cy="317.6" r="6.72"/><circle cx="1135.4" cy="417.2" r="6.72"/><circle cx="1140.5" cy="516.7" r="6.72"/><circle cx="1146.6" cy="616.3" r="6.72"/><circle cx="1153.0" cy="715.8" r="6.72"/><circle cx="1158.3" cy="815.4" r="6.72"/></g>
<path d="M1082.2 28.9L1082.2 48.8L1082.2 68.7L1082.2 88.7L1083.2 108.6L1085.3 128.5L1090.3 148.4L1097.0 168.3L1103.2 188.2L1108.5 208.1L1112.8 228.0L1116.4 247.9L1119.9 267.8L1122.9 287.8L1125.2 307.7L1127.5 327.6L1129.5 347.5L1131.3 367.4L1133.6 387.3L1134.4 407.2L1135.2 427.1L1136.6 447.0L1137.7 466.9L1139.6 486.9L1140.7 506.8L1141.6 526.7L1143.4 546.6L1144.6 566.5L1145.7 586.4L1146.5 606.3L1147.7 626.2L1148.7 646.1L1149.5 666.0L1151.2 686.0L1152.5 705.9L1153.6 725.8L1154.3 745.7L1155.6 765.6L1156.6 785.5L1157.4 805.4" fill="none" stroke="#0000ff" stroke-width="2.9" stroke-linejoin="round" stroke-linecap="butt"/>
<g fill="#0000ff"><circle cx="1082.2" cy="28.9" r="6.0"/><circle cx="1082.2" cy="48.8" r="6.0"/><circle cx="1082.2" cy="68.7" r="6.0"/><circle cx="1082.2" cy="88.7" r="6.0"/><circle cx="1083.2" cy="108.6" r="6.0"/><circle cx="1085.3" cy="128.5" r="6.0"/><circle cx="1090.3" cy="148.4" r="6.0"/><circle cx="1097.0" cy="168.3" r="6.0"/><circle cx="1103.2" cy="188.2" r="6.0"/><circle cx="1108.5" cy="208.1" r="6.0"/><circle cx="1112.8" cy="228.0" r="6.0"/><circle cx="1116.4" cy="247.9" r="6.0"/><circle cx="1119.9" cy="267.8" r="6.0"/><circle cx="1122.9" cy="287.8" r="6.0"/><circle cx="1125.2" cy="307.7" r="6.0"/><circle cx="1127.5" cy="327.6" r="6.0"/><circle cx="1129.5" cy="347.5" r="6.0"/><circle cx="1131.3" cy="367.4" r="6.0"/><circle cx="1133.6" cy="387.3" r="6.0"/><circle cx="1134.4" cy="407.2" r="6.0"/><circle cx="1135.2" cy="427.1" r="6.0"/><circle cx="1136.6" cy="447.0" r="6.0"/><circle cx="1137.7" cy="466.9" r="6.0"/><circle cx="1139.6" cy="486.9" r="6.0"/><circle cx="1140.7" cy="506.8" r="6.0"/><circle cx="1141.6" cy="526.7" r="6.0"/><circle cx="1143.4" cy="546.6" r="6.0"/><circle cx="1144.6" cy="566.5" r="6.0"/><circle cx="1145.7" cy="586.4" r="6.0"/><circle cx="1146.5" cy="606.3" r="6.0"/><circle cx="1147.7" cy="626.2" r="6.0"/><circle cx="1148.7" cy="646.1" r="6.0"/><circle cx="1149.5" cy="666.0" r="6.0"/><circle cx="1151.2" cy="686.0" r="6.0"/><circle cx="1152.5" cy="705.9" r="6.0"/><circle cx="1153.6" cy="725.8" r="6.0"/><circle cx="1154.3" cy="745.7" r="6.0"/><circle cx="1155.6" cy="765.6" r="6.0"/><circle cx="1156.6" cy="785.5" r="6.0"/><circle cx="1157.4" cy="805.4" r="6.0"/></g>
<path d="M1087.0 19.0L1087.0 23.0L1087.0 26.9L1087.0 30.9L1087.0 34.9L1087.0 38.9L1087.0 42.9L1087.5 48.8L1088.0 58.8L1088.5 68.7L1089.0 78.7L1089.4 88.7L1089.6 98.6L1089.8 108.6L1089.8 118.5L1090.3 138.4L1091.9 158.3L1095.5 178.2L1099.1 198.2L1102.8 218.1L1110.8 267.8L1119.9 317.6L1131.0 417.2L1138.9 516.7L1145.7 616.3L1152.5 715.8L1158.6 815.4" fill="none" stroke="#008000" stroke-width="3.1" stroke-linejoin="round" stroke-linecap="butt"/>
<g fill="#008000"><circle cx="1087.0" cy="19.0" r="6.0"/><circle cx="1087.0" cy="23.0" r="6.0"/><circle cx="1087.0" cy="26.9" r="6.0"/><circle cx="1087.0" cy="30.9" r="6.0"/><circle cx="1087.0" cy="34.9" r="6.0"/><circle cx="1087.0" cy="38.9" r="6.0"/><circle cx="1087.0" cy="42.9" r="6.0"/><circle cx="1087.5" cy="48.8" r="6.0"/><circle cx="1088.0" cy="58.8" r="6.0"/><circle cx="1088.5" cy="68.7" r="6.0"/><circle cx="1089.0" cy="78.7" r="6.0"/><circle cx="1089.4" cy="88.7" r="6.0"/><circle cx="1089.6" cy="98.6" r="6.0"/><circle cx="1089.8" cy="108.6" r="6.0"/><circle cx="1089.8" cy="118.5" r="6.0"/><circle cx="1090.3" cy="138.4" r="6.0"/><circle cx="1091.9" cy="158.3" r="6.0"/><circle cx="1095.5" cy="178.2" r="6.0"/><circle cx="1099.1" cy="198.2" r="6.0"/><circle cx="1102.8" cy="218.1" r="6.0"/><circle cx="1110.8" cy="267.8" r="6.0"/><circle cx="1119.9" cy="317.6" r="6.0"/><circle cx="1131.0" cy="417.2" r="6.0"/><circle cx="1138.9" cy="516.7" r="6.0"/><circle cx="1145.7" cy="616.3" r="6.0"/><circle cx="1152.5" cy="715.8" r="6.0"/><circle cx="1158.6" cy="815.4" r="6.0"/></g>
<path d="M1084.3 19.9L1084.3 22.0L1084.3 24.2L1084.3 26.6L1084.3 29.1L1084.3 31.8L1084.3 34.8L1084.3 38.0L1084.3 41.7L1084.3 45.8L1084.8 50.4L1085.2 55.8L1085.6 62.0L1086.0 69.1L1086.5 77.5L1087.0 87.5L1087.3 99.2L1087.5 113.3L1088.8 130.1L1092.4 150.0L1098.3 174.1L1105.0 202.7L1112.3 237.4L1119.5 279.2L1125.2 329.4L1131.6 389.5L1136.6 462.0L1142.4 548.6L1149.5 652.3L1156.5 775.9" fill="none" stroke="#ff00ff" stroke-width="3.0" stroke-linejoin="round" stroke-linecap="butt"/>
<g fill="#ff00ff"><circle cx="1084.3" cy="19.9" r="6.0"/><circle cx="1084.3" cy="22.0" r="6.0"/><circle cx="1084.3" cy="24.2" r="6.0"/><circle cx="1084.3" cy="26.6" r="6.0"/><circle cx="1084.3" cy="29.1" r="6.0"/><circle cx="1084.3" cy="31.8" r="6.0"/><circle cx="1084.3" cy="34.8" r="6.0"/><circle cx="1084.3" cy="38.0" r="6.0"/><circle cx="1084.3" cy="41.7" r="6.0"/><circle cx="1084.3" cy="45.8" r="6.0"/><circle cx="1084.8" cy="50.4" r="6.0"/><circle cx="1085.2" cy="55.8" r="6.0"/><circle cx="1085.6" cy="62.0" r="6.0"/><circle cx="1086.0" cy="69.1" r="6.0"/><circle cx="1086.5" cy="77.5" r="6.0"/><circle cx="1087.0" cy="87.5" r="6.0"/><circle cx="1087.3" cy="99.2" r="6.0"/><circle cx="1087.5" cy="113.3" r="6.0"/><circle cx="1088.8" cy="130.1" r="6.0"/><circle cx="1092.4" cy="150.0" r="6.0"/><circle cx="1098.3" cy="174.1" r="6.0"/><circle cx="1105.0" cy="202.7" r="6.0"/><circle cx="1112.3" cy="237.4" r="6.0"/><circle cx="1119.5" cy="279.2" r="6.0"/><circle cx="1125.2" cy="329.4" r="6.0"/><circle cx="1131.6" cy="389.5" r="6.0"/><circle cx="1136.6" cy="462.0" r="6.0"/><circle cx="1142.4" cy="548.6" r="6.0"/><circle cx="1149.5" cy="652.3" r="6.0"/><circle cx="1156.5" cy="775.9" r="6.0"/></g>
</g>
<path d="M88.5 19.45h-6.6M88.5 68.5h-6.6M88.5 118.5h-6.6M88.5 168.5h-6.6M88.5 218.5h-6.6M88.5 267.5h-6.6M88.5 317.5h-6.6M88.5 367.5h-6.6M88.5 417.5h-6.6M88.5 466.5h-6.6M88.5 516.5h-6.6M88.5 566.5h-6.6M88.5 616.5h-6.6M88.5 666.5h-6.6M88.5 715.5h-6.6M88.5 765.5h-6.6M129.5 814.2v7.3M194.5 814.2v7.3M260.5 814.2v7.3M325.5 814.2v7.3M390.5 814.2v7.3M456.5 814.2v7.3" stroke="#000" stroke-width="1.67" fill="none"/>
<rect x="88.5" y="19.45" width="400.8" height="794.75" fill="none" stroke="#000" stroke-width="1.67"/>
<path d="M580.6 19.45h-6.6M580.6 68.5h-6.6M580.6 118.5h-6.6M580.6 168.5h-6.6M580.6 218.5h-6.6M580.6 267.5h-6.6M580.6 317.5h-6.6M580.6 367.5h-6.6M580.6 417.5h-6.6M580.6 466.5h-6.6M580.6 516.5h-6.6M580.6 566.5h-6.6M580.6 616.5h-6.6M580.6 666.5h-6.6M580.6 715.5h-6.6M580.6 765.5h-6.6M580.6 814.2v7.3M662.5 814.2v7.3M744.5 814.2v7.3M826.5 814.2v7.3M908.5 814.2v7.3" stroke="#000" stroke-width="1.67" fill="none"/>
<rect x="580.6" y="19.45" width="402.1" height="794.75" fill="none" stroke="#000" stroke-width="1.67"/>
<path d="M1072.6 19.45h-6.6M1072.6 68.5h-6.6M1072.6 118.5h-6.6M1072.6 168.5h-6.6M1072.6 218.5h-6.6M1072.6 267.5h-6.6M1072.6 317.5h-6.6M1072.6 367.5h-6.6M1072.6 417.5h-6.6M1072.6 466.5h-6.6M1072.6 516.5h-6.6M1072.6 566.5h-6.6M1072.6 616.5h-6.6M1072.6 666.5h-6.6M1072.6 715.5h-6.6M1072.6 765.5h-6.6M1094.5 814.2v7.3M1182.5 814.2v7.3M1269.5 814.2v7.3M1357.5 814.2v7.3M1444.5 814.2v7.3" stroke="#000" stroke-width="1.67" fill="none"/>
<rect x="1072.6" y="19.45" width="402.20000000000005" height="794.75" fill="none" stroke="#000" stroke-width="1.67"/>
<text transform="translate(75.10,25.45)" font-size="17.92" stroke="#000" stroke-width="0.25"><tspan x="-10.61" y="0" textLength="10.61" lengthAdjust="spacingAndGlyphs">0</tspan></text>
<text transform="translate(75.10,75.80)" font-size="17.92" stroke="#000" stroke-width="0.25"><tspan x="-21.21" y="0" textLength="21.21" lengthAdjust="spacingAndGlyphs">25</tspan></text>
<text transform="translate(75.10,125.80)" font-size="17.92" stroke="#000" stroke-width="0.25"><tspan x="-21.21" y="0" textLength="21.21" lengthAdjust="spacingAndGlyphs">50</tspan></text>
<text transform="translate(75.10,175.80)" font-size="17.92" stroke="#000" stroke-width="0.25"><tspan x="-21.21" y="0" textLength="21.21" lengthAdjust="spacingAndGlyphs">75</tspan></text>
<text transform="translate(75.10,225.80)" font-size="17.92" stroke="#000" stroke-width="0.25"><tspan x="-31.82" y="0" textLength="31.82" lengthAdjust="spacingAndGlyphs">100</tspan></text>
<text transform="translate(75.10,274.80)" font-size="17.92" stroke="#000" stroke-width="0.25"><tspan x="-31.82" y="0" textLength="31.82" lengthAdjust="spacingAndGlyphs">125</tspan></text>
<text transform="translate(75.10,324.80)" font-size="17.92" stroke="#000" stroke-width="0.25"><tspan x="-31.82" y="0" textLength="31.82" lengthAdjust="spacingAndGlyphs">150</tspan></text>
<text transform="translate(75.10,374.80)" font-size="17.92" stroke="#000" stroke-width="0.25"><tspan x="-31.82" y="0" textLength="31.82" lengthAdjust="spacingAndGlyphs">175</tspan></text>
<text transform="translate(75.10,424.80)" font-size="17.92" stroke="#000" stroke-width="0.25"><tspan x="-31.82" y="0" textLength="31.82" lengthAdjust="spacingAndGlyphs">200</tspan></text>
<text transform="translate(75.10,473.80)" font-size="17.92" stroke="#000" stroke-width="0.25"><tspan x="-31.82" y="0" textLength="31.82" lengthAdjust="spacingAndGlyphs">225</tspan></text>
<text transform="translate(75.10,523.80)" font-size="17.92" stroke="#000" stroke-width="0.25"><tspan x="-31.82" y="0" textLength="31.82" lengthAdjust="spacingAndGlyphs">250</tspan></text>
<text transform="translate(75.10,573.80)" font-size="17.92" stroke="#000" stroke-width="0.25"><tspan x="-31.82" y="0" textLength="31.82" lengthAdjust="spacingAndGlyphs">275</tspan></text>
<text transform="translate(75.10,623.80)" font-size="17.92" stroke="#000" stroke-width="0.25"><tspan x="-31.82" y="0" textLength="31.82" lengthAdjust="spacingAndGlyphs">300</tspan></text>
<text transform="translate(75.10,673.80)" font-size="17.92" stroke="#000" stroke-width="0.25"><tspan x="-31.82" y="0" textLength="31.82" lengthAdjust="spacingAndGlyphs">325</tspan></text>
<text transform="translate(75.10,722.80)" font-size="17.92" stroke="#000" stroke-width="0.25"><tspan x="-31.82" y="0" textLength="31.82" lengthAdjust="spacingAndGlyphs">350</tspan></text>
<text transform="translate(75.10,772.80)" font-size="17.92" stroke="#000" stroke-width="0.25"><tspan x="-31.82" y="0" textLength="31.82" lengthAdjust="spacingAndGlyphs">375</tspan></text>
<text transform="translate(128.62,842.20)" font-size="17.92" stroke="#000" stroke-width="0.25"><tspan x="-13.26" y="0" textLength="26.51" lengthAdjust="spacingAndGlyphs">2.5</tspan></text>
<text transform="translate(193.97,842.20)" font-size="17.92" stroke="#000" stroke-width="0.25"><tspan x="-13.26" y="0" textLength="26.51" lengthAdjust="spacingAndGlyphs">5.0</tspan></text>
<text transform="translate(259.32,842.20)" font-size="17.92" stroke="#000" stroke-width="0.25"><tspan x="-13.26" y="0" textLength="26.51" lengthAdjust="spacingAndGlyphs">7.5</tspan></text>
<text transform="translate(324.67,842.20)" font-size="17.92" stroke="#000" stroke-width="0.25"><tspan x="-18.56" y="0" textLength="37.12" lengthAdjust="spacingAndGlyphs">10.0</tspan></text>
<text transform="translate(390.02,842.20)" font-size="17.92" stroke="#000" stroke-width="0.25"><tspan x="-18.56" y="0" textLength="37.12" lengthAdjust="spacingAndGlyphs">12.5</tspan></text>
<text transform="translate(455.37,842.20)" font-size="17.92" stroke="#000" stroke-width="0.25"><tspan x="-18.56" y="0" textLength="37.12" lengthAdjust="spacingAndGlyphs">15.0</tspan></text>
<text transform="translate(579.80,842.20)" font-size="17.92" stroke="#000" stroke-width="0.25"><tspan x="-18.56" y="0" textLength="37.12" lengthAdjust="spacingAndGlyphs">32.5</tspan></text>
<text transform="translate(661.75,842.20)" font-size="17.92" stroke="#000" stroke-width="0.25"><tspan x="-18.56" y="0" textLength="37.12" lengthAdjust="spacingAndGlyphs">33.0</tspan></text>
<text transform="translate(743.70,842.20)" font-size="17.92" stroke="#000" stroke-width="0.25"><tspan x="-18.56" y="0" textLength="37.12" lengthAdjust="spacingAndGlyphs">33.5</tspan></text>
<text transform="translate(825.65,842.20)" font-size="17.92" stroke="#000" stroke-width="0.25"><tspan x="-18.56" y="0" textLength="37.12" lengthAdjust="spacingAndGlyphs">34.0</tspan></text>
<text transform="translate(907.60,842.20)" font-size="17.92" stroke="#000" stroke-width="0.25"><tspan x="-18.56" y="0" textLength="37.12" lengthAdjust="spacingAndGlyphs">34.5</tspan></text>
<text transform="translate(1094.00,850.30) rotate(-45)" font-size="17.92" stroke="#000" stroke-width="0.25" dy="6.5"><tspan x="-21.21" y="0" textLength="42.42" lengthAdjust="spacingAndGlyphs">1025</tspan></text>
<text transform="translate(1181.58,850.30) rotate(-45)" font-size="17.92" stroke="#000" stroke-width="0.25" dy="6.5"><tspan x="-21.21" y="0" textLength="42.42" lengthAdjust="spacingAndGlyphs">1030</tspan></text>
<text transform="translate(1269.15,850.30) rotate(-45)" font-size="17.92" stroke="#000" stroke-width="0.25" dy="6.5"><tspan x="-21.21" y="0" textLength="42.42" lengthAdjust="spacingAndGlyphs">1035</tspan></text>
<text transform="translate(1356.72,850.30) rotate(-45)" font-size="17.92" stroke="#000" stroke-width="0.25" dy="6.5"><tspan x="-21.21" y="0" textLength="42.42" lengthAdjust="spacingAndGlyphs">1040</tspan></text>
<text transform="translate(1444.30,850.30) rotate(-45)" font-size="17.92" stroke="#000" stroke-width="0.25" dy="6.5"><tspan x="-21.21" y="0" textLength="42.42" lengthAdjust="spacingAndGlyphs">1045</tspan></text>
<text transform="translate(29.60,417.80) rotate(-90)" font-size="24.75" font-weight="bold" stroke="#000" stroke-width="0.45"><tspan x="-64.33" y="0" textLength="76.82" lengthAdjust="spacingAndGlyphs">Depth</tspan><tspan x="20.32" y="0" textLength="44.01" lengthAdjust="spacingAndGlyphs">(m)</tspan></text>
<text transform="translate(179.50,871.90)" font-size="24.75" font-weight="bold" stroke="#000" stroke-width="0.45"><tspan x="0.00" y="0" textLength="164.83" lengthAdjust="spacingAndGlyphs">Temperature</tspan><tspan x="172.66" y="0" textLength="10.28" lengthAdjust="spacingAndGlyphs">(</tspan></text>
<text transform="translate(362.74,863.70)" font-size="16.93" font-style="italic" stroke="#000" stroke-width="0.25"><tspan x="0.00" y="0" textLength="9.64" lengthAdjust="spacingAndGlyphs">o</tspan></text>
<text transform="translate(373.08,871.90)" font-size="24.19" font-style="italic" stroke="#000" stroke-width="0.25"><tspan x="0.00" y="0" textLength="15.71" lengthAdjust="spacingAndGlyphs">C</tspan></text>
<text transform="translate(388.79,871.90)" font-size="24.75" font-weight="bold" stroke="#000" stroke-width="0.45"><tspan x="0.00" y="0" textLength="10.28" lengthAdjust="spacingAndGlyphs">)</tspan></text>
<text transform="translate(781.65,869.60)" font-size="24.75" font-weight="bold" stroke="#000" stroke-width="0.45"><tspan x="-47.98" y="0" textLength="95.97" lengthAdjust="spacingAndGlyphs">Salinity</tspan></text>
<text transform="translate(1273.20,895.10)" font-size="24.75" font-weight="bold" stroke="#000" stroke-width="0.45"><tspan x="-106.11" y="0" textLength="96.48" lengthAdjust="spacingAndGlyphs">Density</tspan><tspan x="-1.80" y="0" textLength="41.35" lengthAdjust="spacingAndGlyphs">(kg</tspan><tspan x="47.39" y="0" textLength="58.72" lengthAdjust="spacingAndGlyphs">m-3)</tspan></text>
<text transform="translate(424.00,918.20)" font-size="18.65" font-style="italic" stroke="#000" stroke-width="0.25"><tspan x="0.00" y="0" textLength="55.56" lengthAdjust="spacingAndGlyphs">Ocean</tspan><tspan x="61.08" y="0" textLength="41.20" lengthAdjust="spacingAndGlyphs">Heat</tspan><tspan x="107.80" y="0" textLength="69.08" lengthAdjust="spacingAndGlyphs">Content</tspan><tspan x="182.40" y="0" textLength="86.66" lengthAdjust="spacingAndGlyphs">(kJ/cm^2)</tspan><tspan x="274.58" y="0" textLength="6.27" lengthAdjust="spacingAndGlyphs">-</tspan><tspan x="286.37" y="0" textLength="57.81" lengthAdjust="spacingAndGlyphs">Glider:</tspan><tspan x="349.70" y="0" textLength="36.25" lengthAdjust="spacingAndGlyphs">N/A,</tspan><tspan x="396.99" y="0" textLength="63.22" lengthAdjust="spacingAndGlyphs">RTOFS:</tspan><tspan x="465.73" y="0" textLength="36.25" lengthAdjust="spacingAndGlyphs">N/A,</tspan><tspan x="513.02" y="0" textLength="50.45" lengthAdjust="spacingAndGlyphs">ESPC:</tspan><tspan x="568.99" y="0" textLength="36.25" lengthAdjust="spacingAndGlyphs">N/A,</tspan><tspan x="616.28" y="0" textLength="69.95" lengthAdjust="spacingAndGlyphs">CMEMS:</tspan><tspan x="691.75" y="0" textLength="36.25" lengthAdjust="spacingAndGlyphs">N/A,</tspan></text>
<text transform="translate(1524.70,36.30)" font-size="24.75" font-weight="bold" stroke="#000" stroke-width="0.45"><tspan x="0.00" y="0" textLength="150.38" lengthAdjust="spacingAndGlyphs">Comparison</tspan><tspan x="158.21" y="0" textLength="68.87" lengthAdjust="spacingAndGlyphs">Date:</tspan><tspan x="234.92" y="0" textLength="143.92" lengthAdjust="spacingAndGlyphs">2025-01-07</tspan></text>
<text transform="translate(1524.70,89.50)" font-size="24.75" font-weight="bold" stroke="#000" stroke-width="0.45"><tspan x="0.00" y="0" textLength="85.35" lengthAdjust="spacingAndGlyphs">Glider:</tspan><tspan x="93.19" y="0" textLength="76.46" lengthAdjust="spacingAndGlyphs">sp013</tspan></text>
<text transform="translate(1524.70,116.20)" font-size="24.75" font-weight="bold" stroke="#000" stroke-width="0.45"><tspan x="0.00" y="0" textLength="105.91" lengthAdjust="spacingAndGlyphs">Profiles:</tspan><tspan x="113.74" y="0" textLength="15.66" lengthAdjust="spacingAndGlyphs">7</tspan></text>
<text transform="translate(1524.70,143.00)" font-size="24.75" font-weight="bold" stroke="#000" stroke-width="0.45"><tspan x="0.00" y="0" textLength="67.32" lengthAdjust="spacingAndGlyphs">First:</tspan><tspan x="75.16" y="0" textLength="143.92" lengthAdjust="spacingAndGlyphs">2025-01-07</tspan><tspan x="226.91" y="0" textLength="111.93" lengthAdjust="spacingAndGlyphs">02:21:15</tspan></text>
<text transform="translate(1524.70,169.60)" font-size="24.75" font-weight="bold" stroke="#000" stroke-width="0.45"><tspan x="0.00" y="0" textLength="62.67" lengthAdjust="spacingAndGlyphs">Last:</tspan><tspan x="70.50" y="0" textLength="143.92" lengthAdjust="spacingAndGlyphs">2025-01-07</tspan><tspan x="222.25" y="0" textLength="111.93" lengthAdjust="spacingAndGlyphs">18:26:15</tspan></text>
<text transform="translate(1524.70,196.20)" font-size="24.75" font-weight="bold" stroke="#000" stroke-width="0.45"><tspan x="0.00" y="0" textLength="104.99" lengthAdjust="spacingAndGlyphs">Method:</tspan><tspan x="112.82" y="0" textLength="225.70" lengthAdjust="spacingAndGlyphs">Nearest-Neighbor</tspan></text>
<defs><clipPath id="cm"><rect x="1602.4" y="261.2" width="325.6999999999998" height="310.8"/></clipPath></defs>
<g clip-path="url(#cm)">
<rect x="1602.4" y="261.2" width="325.6999999999998" height="310.8" fill="#6495ed"/>
<rect x="1602.4" y="261.2" width="325.6999999999998" height="8.4" fill="#9ab9e4"/>
<path d="M1691.7 260.8L1694.9 263.5L1697.9 267.1L1700.3 270.8L1701.5 274.4L1702.7 277.4L1704.6 281.1L1707.0 285.3L1708.8 289.0L1710.6 293.2L1712.4 297.5L1714.9 301.7L1716.1 306.0L1717.3 310.2L1719.7 312.6L1723.4 315.1L1726.4 317.5L1728.8 319.9L1731.9 322.9L1734.3 326.0L1736.1 329.6L1736.7 333.3L1735.5 336.3L1733.1 338.1L1728.8 338.5L1725.2 336.9L1723.0 334.5L1721.8 335.3L1723.4 337.5L1726.4 339.9L1730.0 341.1L1733.7 343.0L1737.3 345.4L1741.0 348.4L1744.0 350.9L1746.4 349.0L1747.6 351.5L1750.1 354.5L1753.1 357.5L1756.1 360.6L1757.3 367.3L1756.1 374.6L1762.8 380.6L1768.9 384.3L1774.9 389.1L1779.8 394.0L1782.2 399.1L1787.1 396.4L1789.2 392.2L1785.2 386.7L1783.4 381.8L1779.8 380.6L1777.4 378.2L1774.9 375.8L1773.7 370.9L1771.3 366.1L1767.7 360.0L1768.3 362.4L1765.8 358.1L1763.4 353.9L1761.0 350.2L1758.6 346.0L1756.1 342.4L1753.1 338.7L1751.3 335.1L1750.1 330.8L1747.0 327.2L1744.0 322.9L1741.0 319.3L1737.9 315.7L1734.3 312.0L1731.3 308.4L1730.0 304.1L1729.1 299.9L1727.9 295.6L1726.4 291.4L1727.0 287.8L1725.8 284.7L1730.0 287.2L1733.7 289.0L1737.3 287.8L1741.0 290.2L1744.6 292.6L1747.6 293.8L1748.2 297.5L1748.8 302.3L1750.7 307.2L1752.5 311.4L1754.9 315.7L1756.7 319.3L1756.1 322.9L1755.5 326.6L1759.8 327.8L1764.0 330.8L1767.7 333.9L1772.5 335.7L1776.1 338.1L1776.8 342.4L1778.6 345.4L1783.4 347.8L1787.1 351.5L1791.3 354.5L1792.5 358.1L1789.5 360.6L1790.7 364.9L1799.2 369.7L1805.3 375.8L1811.3 381.8L1816.2 386.7L1821.0 392.8L1825.9 397.6L1830.7 403.7L1832.0 408.5L1833.8 413.4L1836.2 417.0L1835.6 421.9L1833.2 424.3L1835.6 426.7L1830.7 429.2L1832.6 434.0L1836.8 438.9L1841.7 443.7L1848.9 447.4L1853.8 452.2L1859.9 455.9L1865.9 457.1L1873.2 458.3L1879.3 461.9L1886.6 466.8L1896.3 471.6L1881.7 465.0L1889.0 468.0L1896.3 471.7L1907.2 474.1L1913.2 477.1L1919.3 480.8L1928.4 482.2" fill="none" stroke="#9ab9e4" stroke-width="9" stroke-linejoin="round"/>
<path d="M1691.7 260.8L1694.9 263.5L1697.9 267.1L1700.3 270.8L1701.5 274.4L1702.7 277.4L1704.6 281.1L1707.0 285.3L1708.8 289.0L1710.6 293.2L1712.4 297.5L1714.9 301.7L1716.1 306.0L1717.3 310.2L1719.7 312.6L1723.4 315.1L1726.4 317.5L1728.8 319.9L1731.9 322.9L1734.3 326.0L1736.1 329.6L1736.7 333.3L1735.5 336.3L1733.1 338.1L1728.8 338.5L1725.2 336.9L1723.0 334.5L1721.8 335.3L1723.4 337.5L1726.4 339.9L1730.0 341.1L1733.7 343.0L1737.3 345.4L1741.0 348.4L1744.0 350.9L1746.4 349.0L1747.6 351.5L1750.1 354.5L1753.1 357.5L1756.1 360.6L1757.3 367.3L1756.1 374.6L1762.8 380.6L1768.9 384.3L1774.9 389.1L1779.8 394.0L1782.2 399.1" fill="none" stroke="#9ab9e4" stroke-width="21" stroke-linejoin="round" opacity="0.55"/>
<path d="M1691.7 260.8L1694.9 263.5L1697.9 267.1L1700.3 270.8L1701.5 274.4L1702.7 277.4L1704.6 281.1L1707.0 285.3L1708.8 289.0L1710.6 293.2L1712.4 297.5L1714.9 301.7L1716.1 306.0L1717.3 310.2L1719.7 312.6L1723.4 315.1L1726.4 317.5L1728.8 319.9L1731.9 322.9L1734.3 326.0L1736.1 329.6L1736.7 333.3" fill="none" stroke="#9ab9e4" stroke-width="14" stroke-linejoin="round" opacity="0.8"/>
<path d="M1759.8 327.8L1764.0 330.8L1767.7 333.9L1772.5 335.7L1776.1 338.1L1776.8 342.4L1778.6 345.4L1783.4 347.8L1787.1 351.5L1791.3 354.5L1792.5 358.1L1789.5 360.6L1790.7 364.9L1799.2 369.7L1805.3 375.8L1811.3 381.8L1816.2 386.7L1821.0 392.8L1825.9 397.6L1830.7 403.7L1832.0 408.5L1833.8 413.4L1836.2 417.0L1835.6 421.9L1833.2 424.3L1835.6 426.7" fill="none" stroke="#9ab9e4" stroke-width="22" stroke-linejoin="round" opacity="0.8"/>
<path d="M1835.6 426.7L1830.7 429.2L1832.6 434.0L1836.8 438.9L1841.7 443.7L1848.9 447.4L1853.8 452.2L1859.9 455.9L1865.9 457.1L1873.2 458.3L1879.3 461.9L1886.6 466.8L1896.3 471.6L1881.7 465.0L1889.0 468.0L1896.3 471.7L1907.2 474.1L1913.2 477.1L1919.3 480.8L1928.4 482.2" fill="none" stroke="#9ab9e4" stroke-width="8" stroke-linejoin="round" opacity="0.7"/>
<path d="M1725.8 284.7L1730.0 287.2L1733.7 289.0L1737.3 287.8L1741.0 290.2L1744.6 292.6L1747.6 293.8L1748.2 297.5L1748.8 302.3L1750.7 307.2L1752.5 311.4L1754.9 315.7L1756.7 319.3L1756.1 322.9L1755.5 326.6L1753.1 332.7L1750.1 330.8L1747.0 327.2L1744.0 322.9L1741.0 319.3L1737.9 315.7L1734.3 312.0L1731.3 308.4L1730.0 304.1L1729.1 299.9L1727.9 295.6L1726.4 291.4L1727.0 287.8Z" fill="#aec6e6"/>
<path d="M1717.3 310.2L1719.7 312.6L1723.4 315.1L1726.4 317.5L1728.8 319.9L1731.9 322.9L1734.3 326.0L1736.1 329.6L1736.7 333.3L1735.5 336.3L1733.1 338.1L1728.8 338.5L1725.2 336.9L1723.0 334.5L1719.1 327.8L1716.1 320.5L1713.1 313.2Z" fill="#aec6e6"/>
<path d="M1692.4 262.3L1700.9 278.1L1711.8 295.0L1704.6 295.0L1697.3 282.9L1690.0 272.0L1690.0 262.3Z" fill="#9ab9e4" opacity="0.75"/>
<path d="M1658.2 269.6L1691.9 269.6L1701.0 277.3L1708.3 290.9L1711.0 301.0L1703.7 297.3L1691.9 294.6L1679.2 292.8L1671.9 280.0L1665.5 273.7Z" fill="#9ab9e4" opacity="0.3"/>
<path d="M1928.1 329.4L1928.4 331.4L1926.6 332.7L1923.6 336.3L1921.1 342.4L1922.3 349.6L1924.8 356.9L1925.4 361.2L1920.5 366.1L1918.7 372.1L1919.3 381.8L1919.9 390.3L1918.1 401.3L1919.9 408.5L1923.0 417.0L1928.4 428.6L1928.1 428.6Z" fill="#aec6e6"/>
<path d="M1691.7 260.8L1694.9 263.5L1697.9 267.1L1700.3 270.8L1701.5 274.4L1702.7 277.4L1704.6 281.1L1707.0 285.3L1708.8 289.0L1710.6 293.2L1712.4 297.5L1714.9 301.7L1716.1 306.0L1717.3 310.2L1719.7 312.6L1723.4 315.1L1726.4 317.5L1728.8 319.9L1731.9 322.9L1734.3 326.0L1736.1 329.6L1736.7 333.3L1735.5 336.3L1733.1 338.1L1728.8 338.5L1725.2 336.9L1723.0 334.5L1721.8 335.3L1723.4 337.5L1726.4 339.9L1730.0 341.1L1733.7 343.0L1737.3 345.4L1741.0 348.4L1744.0 350.9L1746.4 349.0L1747.6 351.5L1750.1 354.5L1753.1 357.5L1756.1 360.6L1757.3 367.3L1756.1 374.6L1762.8 380.6L1768.9 384.3L1774.9 389.1L1779.8 394.0L1782.2 399.1L1787.1 396.4L1789.2 392.2L1785.2 386.7L1783.4 381.8L1779.8 380.6L1777.4 378.2L1774.9 375.8L1773.7 370.9L1771.3 366.1L1767.7 360.0L1768.3 362.4L1765.8 358.1L1763.4 353.9L1761.0 350.2L1758.6 346.0L1756.1 342.4L1753.1 338.7L1751.3 335.1L1750.1 330.8L1747.0 327.2L1744.0 322.9L1741.0 319.3L1737.9 315.7L1734.3 312.0L1731.3 308.4L1730.0 304.1L1729.1 299.9L1727.9 295.6L1726.4 291.4L1727.0 287.8L1725.8 284.7L1730.0 287.2L1733.7 289.0L1737.3 287.8L1741.0 290.2L1744.6 292.6L1747.6 293.8L1748.2 297.5L1748.8 302.3L1750.7 307.2L1752.5 311.4L1754.9 315.7L1756.7 319.3L1756.1 322.9L1755.5 326.6L1759.8 327.8L1764.0 330.8L1767.7 333.9L1772.5 335.7L1776.1 338.1L1776.8 342.4L1778.6 345.4L1783.4 347.8L1787.1 351.5L1791.3 354.5L1792.5 358.1L1789.5 360.6L1790.7 364.9L1799.2 369.7L1805.3 375.8L1811.3 381.8L1816.2 386.7L1821.0 392.8L1825.9 397.6L1830.7 403.7L1832.0 408.5L1833.8 413.4L1836.2 417.0L1835.6 421.9L1833.2 424.3L1835.6 426.7L1830.7 429.2L1832.6 434.0L1836.8 438.9L1841.7 443.7L1848.9 447.4L1853.8 452.2L1859.9 455.9L1865.9 457.1L1873.2 458.3L1879.3 461.9L1886.6 466.8L1896.3 471.6L1881.7 465.0L1889.0 468.0L1896.3 471.7L1907.2 474.1L1913.2 477.1L1919.3 480.8L1928.4 482.2L1928.4 428.6L1923.0 417.0L1919.9 408.5L1918.1 401.3L1919.9 390.3L1919.3 381.8L1918.7 372.1L1920.5 366.1L1925.4 361.2L1924.8 356.9L1922.3 349.6L1921.1 342.4L1923.6 336.3L1926.6 332.7L1928.4 331.4L1928.1 331.9L1928.1 261.2L1691.7 261.2Z" fill="#d2b48c"/>
<path d="M1728.8 274.4L1738.5 272.0L1747.0 269.6L1753.1 265.9L1760.4 267.7L1767.7 269.6L1774.9 268.3L1782.2 269.6L1789.5 272.0L1795.6 275.0L1799.2 270.8L1803.4 264.1" fill="none" stroke="#9ab9e4" stroke-width="1.9" stroke-linejoin="round"/>
<path d="M1727.6 276.8L1724.0 282.3L1725.8 284.7" fill="none" stroke="#9ab9e4" stroke-width="1.9" stroke-linejoin="round"/>
<path d="M1815.6 260.8L1812.5 268.3L1813.8 274.4L1817.4 279.3L1819.2 283.5L1823.5 289.6L1830.7 295.0L1838.0 301.1L1841.7 308.4L1846.5 315.7L1852.6 319.3L1858.6 322.3L1861.7 319.3L1863.5 314.5L1868.4 311.4L1876.8 312.0L1884.1 316.9L1890.2 324.2L1891.4 330.2L1896.3 336.3L1900.5 341.1L1901.7 348.4L1906.0 354.5L1913.2 358.7L1920.5 360.6L1926.6 361.8" fill="none" stroke="#9ab9e4" stroke-width="1.9" stroke-linejoin="round"/>
<path d="M1875.6 263.5L1881.7 267.1L1889.0 270.8L1895.0 269.0L1896.3 264.7L1901.1 262.9L1907.2 267.1L1914.5 273.2L1920.5 279.3L1924.2 285.3L1927.8 290.2" fill="none" stroke="#9ab9e4" stroke-width="1.9" stroke-linejoin="round"/>
<path d="M1833.2 412.2L1841.7 412.2L1847.7 418.2L1853.8 421.9L1858.6 425.5L1863.5 430.4L1857.4 430.4" fill="none" stroke="#9ab9e4" stroke-width="1.9" stroke-linejoin="round"/>
<path d="M1919.3 406.7L1908.4 411.0L1898.7 413.4L1891.4 408.5" fill="none" stroke="#9ab9e4" stroke-width="1.9" stroke-linejoin="round"/>
<path d="M1792.9 259.9L1792.9 292.0" fill="none" stroke="#000" stroke-width="1.5"/>
<path d="M1819.2 283.5L1860.5 283.5L1860.5 259.9" fill="none" stroke="#000" stroke-width="1.5"/>
<path d="M1731.9 259.9L1729.4 264.7L1731.3 268.3L1731.9 272.0L1728.8 274.4" fill="none" stroke="#000" stroke-width="2.2"/>
<path d="M1701.5 276.8L1727.6 274.0L1728.8 277.4L1768.9 292.0L1802.8 292.0L1802.8 286.8L1819.8 286.3L1823.5 289.6L1830.7 295.0L1838.0 301.1L1841.7 308.4L1846.5 315.7L1852.6 319.3L1858.6 322.3L1861.7 319.3L1863.5 314.5L1868.4 311.4L1876.8 312.0L1884.1 316.9L1890.2 324.2L1891.4 330.2L1896.3 336.3L1900.5 341.1L1901.7 348.4L1906.0 354.5L1913.2 358.7L1920.5 360.6L1926.6 361.8" fill="none" stroke="#000" stroke-width="1.6" stroke-dasharray="5.8 2.6"/>
<path d="M1691.7 260.8L1694.9 263.5L1697.9 267.1L1700.3 270.8L1701.5 274.4L1702.7 277.4L1704.6 281.1L1707.0 285.3L1708.8 289.0L1710.6 293.2L1712.4 297.5L1714.9 301.7L1716.1 306.0L1717.3 310.2L1719.7 312.6L1723.4 315.1L1726.4 317.5L1728.8 319.9L1731.9 322.9L1734.3 326.0L1736.1 329.6L1736.7 333.3L1735.5 336.3L1733.1 338.1L1728.8 338.5L1725.2 336.9L1723.0 334.5L1721.8 335.3L1723.4 337.5L1726.4 339.9L1730.0 341.1L1733.7 343.0L1737.3 345.4L1741.0 348.4L1744.0 350.9L1746.4 349.0L1747.6 351.5L1750.1 354.5L1753.1 357.5L1756.1 360.6L1757.3 367.3L1756.1 374.6L1762.8 380.6L1768.9 384.3L1774.9 389.1L1779.8 394.0L1782.2 399.1L1787.1 396.4L1789.2 392.2L1785.2 386.7L1783.4 381.8L1779.8 380.6L1777.4 378.2L1774.9 375.8L1773.7 370.9L1771.3 366.1L1767.7 360.0L1768.3 362.4L1765.8 358.1L1763.4 353.9L1761.0 350.2L1758.6 346.0L1756.1 342.4L1753.1 338.7L1751.3 335.1L1750.1 330.8L1747.0 327.2L1744.0 322.9L1741.0 319.3L1737.9 315.7L1734.3 312.0L1731.3 308.4L1730.0 304.1L1729.1 299.9L1727.9 295.6L1726.4 291.4L1727.0 287.8L1725.8 284.7L1730.0 287.2L1733.7 289.0L1737.3 287.8L1741.0 290.2L1744.6 292.6L1747.6 293.8L1748.2 297.5L1748.8 302.3L1750.7 307.2L1752.5 311.4L1754.9 315.7L1756.7 319.3L1756.1 322.9L1755.5 326.6L1759.8 327.8L1764.0 330.8L1767.7 333.9L1772.5 335.7L1776.1 338.1L1776.8 342.4L1778.6 345.4L1783.4 347.8L1787.1 351.5L1791.3 354.5L1792.5 358.1L1789.5 360.6L1790.7 364.9L1799.2 369.7L1805.3 375.8L1811.3 381.8L1816.2 386.7L1821.0 392.8L1825.9 397.6L1830.7 403.7L1832.0 408.5L1833.8 413.4L1836.2 417.0L1835.6 421.9L1833.2 424.3L1835.6 426.7L1830.7 429.2L1832.6 434.0L1836.8 438.9L1841.7 443.7L1848.9 447.4L1853.8 452.2L1859.9 455.9L1865.9 457.1L1873.2 458.3L1879.3 461.9L1886.6 466.8L1896.3 471.6L1881.7 465.0L1889.0 468.0L1896.3 471.7L1907.2 474.1L1913.2 477.1L1919.3 480.8L1928.4 482.2" fill="none" stroke="#000" stroke-width="2.7" stroke-linejoin="round"/>
<path d="M1928.4 428.6L1923.0 417.0L1919.9 408.5L1918.1 401.3L1919.9 390.3L1919.3 381.8L1918.7 372.1L1920.5 366.1L1925.4 361.2L1924.8 356.9L1922.3 349.6L1921.1 342.4L1923.6 336.3L1926.6 332.7L1928.4 331.4" fill="none" stroke="#000" stroke-width="2.4" stroke-linejoin="round"/>
<path d="M1925.4 361.2L1924.8 356.9L1922.3 349.6L1921.1 342.4L1923.6 336.3L1926.6 332.7L1928.4 331.4" fill="none" stroke="#000" stroke-width="4.5" stroke-linejoin="round"/>
<path d="M1741.6 315.7L1743.4 319.3L1745.2 322.9L1747.6 327.2" fill="none" stroke="#000" stroke-width="3.6" stroke-linecap="round" stroke-linejoin="round"/>
<path d="M1754.3 321.1L1756.1 324.8" fill="none" stroke="#000" stroke-width="3.0" stroke-linecap="round" stroke-linejoin="round"/>
<path d="M1720.9 330.8L1722.8 333.6" fill="none" stroke="#000" stroke-width="3.2" stroke-linecap="round" stroke-linejoin="round"/>
<path d="M1818.9 412.4L1821.0 414.8L1823.8 417.8" fill="none" stroke="#000" stroke-width="2.2" stroke-linecap="round" stroke-linejoin="round"/>
<path d="M1770.1 447.1L1771.5 448.1" fill="none" stroke="#000" stroke-width="2.6" stroke-linecap="round" stroke-linejoin="round"/>
<path d="M1773.0 441.0L1773.2 441.5" fill="none" stroke="#000" stroke-width="1.4" stroke-linecap="round" stroke-linejoin="round"/>
<path d="M1728.1 452.7L1729.1 452.9" fill="none" stroke="#000" stroke-width="2.2" stroke-linecap="round" stroke-linejoin="round"/>
<path d="M1772.5 364.9L1773.7 369.1L1775.5 373.3L1777.4 378.2L1780.4 382.4L1784.0 384.3" fill="none" stroke="#000" stroke-width="1.2" stroke-linecap="round" stroke-linejoin="round"/>
<path d="M1674.2 266.7L1676.0 267.5" fill="none" stroke="#000" stroke-width="2.4" stroke-linecap="round" stroke-linejoin="round"/>
<path d="M1685.1 263.6L1688.3 266.4" fill="none" stroke="#000" stroke-width="2.4" stroke-linecap="round" stroke-linejoin="round"/>
<path d="M1684.6 270.2L1687.8 272.9" fill="none" stroke="#000" stroke-width="2.6" stroke-linecap="round" stroke-linejoin="round"/>
<path d="M1688.5 320.5L1689.0 323.7" fill="none" stroke="#000" stroke-width="3.0" stroke-linecap="round" stroke-linejoin="round"/>
<path d="M1722.4 331.0L1723.8 334.6" fill="none" stroke="#000" stroke-width="3.0" stroke-linecap="round" stroke-linejoin="round"/>
</g>
<circle cx="1629.6" cy="271.3" r="4.5" fill="#ff0000" stroke="#000" stroke-width="1.6"/>
<path d="M1602.4 261.2v-8.9M1602.4 572.0v8.9M1636.2 261.2v-8.9M1636.2 572.0v8.9M1670.1 261.2v-8.9M1670.1 572.0v8.9M1704.0 261.2v-8.9M1704.0 572.0v8.9M1737.8 261.2v-8.9M1737.8 572.0v8.9M1771.7 261.2v-8.9M1771.7 572.0v8.9M1805.5 261.2v-8.9M1805.5 572.0v8.9M1839.4 261.2v-8.9M1839.4 572.0v8.9M1873.2 261.2v-8.9M1873.2 572.0v8.9M1907.1 261.2v-8.9M1907.1 572.0v8.9M1602.4 561.3h-8.9M1928.6999999999998 561.3h8.9M1602.4 527.2h-8.9M1928.6999999999998 527.2h8.9M1602.4 492.6h-8.9M1928.6999999999998 492.6h8.9M1602.4 457.6h-8.9M1928.6999999999998 457.6h8.9M1602.4 421.9h-8.9M1928.6999999999998 421.9h8.9M1602.4 385.6h-8.9M1928.6999999999998 385.6h8.9M1602.4 348.3h-8.9M1928.6999999999998 348.3h8.9M1602.4 310.1h-8.9M1928.6999999999998 310.1h8.9M1602.4 270.7h-8.9M1928.6999999999998 270.7h8.9" stroke="#000" stroke-width="3.0" fill="none"/>
<path d="M1613.7 261.2v-3.2M1613.7 572.0v3.2M1625.0 261.2v-3.2M1625.0 572.0v3.2M1647.5 261.2v-3.2M1647.5 572.0v3.2M1658.8 261.2v-3.2M1658.8 572.0v3.2M1681.4 261.2v-3.2M1681.4 572.0v3.2M1692.7 261.2v-3.2M1692.7 572.0v3.2M1715.2 261.2v-3.2M1715.2 572.0v3.2M1726.5 261.2v-3.2M1726.5 572.0v3.2M1749.1 261.2v-3.2M1749.1 572.0v3.2M1760.4 261.2v-3.2M1760.4 572.0v3.2M1782.9 261.2v-3.2M1782.9 572.0v3.2M1794.2 261.2v-3.2M1794.2 572.0v3.2M1816.8 261.2v-3.2M1816.8 572.0v3.2M1828.1 261.2v-3.2M1828.1 572.0v3.2M1850.6 261.2v-3.2M1850.6 572.0v3.2M1861.9 261.2v-3.2M1861.9 572.0v3.2M1884.5 261.2v-3.2M1884.5 572.0v3.2M1895.8 261.2v-3.2M1895.8 572.0v3.2M1918.3 261.2v-3.2M1918.3 572.0v3.2M1602.4 550.0h-3.3M1928.6999999999998 550.0h3.3M1602.4 538.6h-3.3M1928.6999999999998 538.6h3.3M1602.4 515.7h-3.3M1928.6999999999998 515.7h3.3M1602.4 504.2h-3.3M1928.6999999999998 504.2h3.3M1602.4 481.0h-3.3M1928.6999999999998 481.0h3.3M1602.4 469.3h-3.3M1928.6999999999998 469.3h3.3M1602.4 445.8h-3.3M1928.6999999999998 445.8h3.3M1602.4 433.9h-3.3M1928.6999999999998 433.9h3.3M1602.4 409.9h-3.3M1928.6999999999998 409.9h3.3M1602.4 397.8h-3.3M1928.6999999999998 397.8h3.3M1602.4 373.3h-3.3M1928.6999999999998 373.3h3.3M1602.4 360.9h-3.3M1928.6999999999998 360.9h3.3M1602.4 335.7h-3.3M1928.6999999999998 335.7h3.3M1602.4 323.0h-3.3M1928.6999999999998 323.0h3.3M1602.4 297.1h-3.3M1928.6999999999998 297.1h3.3M1602.4 284.0h-3.3M1928.6999999999998 284.0h3.3" stroke="#000" stroke-width="1.7" fill="none"/>
<path d="M1692.7 261.2H1602.4V572.0H1928.6999999999998V261.2" fill="none" stroke="#000" stroke-width="1.4"/>
<path d="M1692.7 260.8H1928.1" fill="none" stroke="#d8d8d8" stroke-width="0.8"/>
<text transform="translate(1586.00,570.04)" font-size="22.90" stroke="#000" stroke-width="0.25"><tspan x="-40.14" y="0" textLength="40.14" lengthAdjust="spacingAndGlyphs">9°N</tspan></text>
<text transform="translate(1586.00,535.87)" font-size="22.90" stroke="#000" stroke-width="0.25"><tspan x="-53.69" y="0" textLength="53.69" lengthAdjust="spacingAndGlyphs">12°N</tspan></text>
<text transform="translate(1586.00,501.32)" font-size="22.90" stroke="#000" stroke-width="0.25"><tspan x="-53.69" y="0" textLength="53.69" lengthAdjust="spacingAndGlyphs">15°N</tspan></text>
<text transform="translate(1586.00,466.28)" font-size="22.90" stroke="#000" stroke-width="0.25"><tspan x="-53.69" y="0" textLength="53.69" lengthAdjust="spacingAndGlyphs">18°N</tspan></text>
<text transform="translate(1586.00,430.64)" font-size="22.90" stroke="#000" stroke-width="0.25"><tspan x="-53.69" y="0" textLength="53.69" lengthAdjust="spacingAndGlyphs">21°N</tspan></text>
<text transform="translate(1586.00,394.27)" font-size="22.90" stroke="#000" stroke-width="0.25"><tspan x="-53.69" y="0" textLength="53.69" lengthAdjust="spacingAndGlyphs">24°N</tspan></text>
<text transform="translate(1586.00,357.04)" font-size="22.90" stroke="#000" stroke-width="0.25"><tspan x="-53.69" y="0" textLength="53.69" lengthAdjust="spacingAndGlyphs">27°N</tspan></text>
<text transform="translate(1586.00,318.81)" font-size="22.90" stroke="#000" stroke-width="0.25"><tspan x="-53.69" y="0" textLength="53.69" lengthAdjust="spacingAndGlyphs">30°N</tspan></text>
<text transform="translate(1586.00,279.40)" font-size="22.90" stroke="#000" stroke-width="0.25"><tspan x="-53.69" y="0" textLength="53.69" lengthAdjust="spacingAndGlyphs">33°N</tspan></text>
<text transform="translate(1600.00,622.67) rotate(-45)" font-size="22.90" stroke="#000" stroke-width="0.25" dy="8.1"><tspan x="-36.18" y="0" textLength="72.37" lengthAdjust="spacingAndGlyphs">126°W</tspan></text>
<text transform="translate(1633.85,622.67) rotate(-45)" font-size="22.90" stroke="#000" stroke-width="0.25" dy="8.1"><tspan x="-36.18" y="0" textLength="72.37" lengthAdjust="spacingAndGlyphs">123°W</tspan></text>
<text transform="translate(1667.70,622.67) rotate(-45)" font-size="22.90" stroke="#000" stroke-width="0.25" dy="8.1"><tspan x="-36.18" y="0" textLength="72.37" lengthAdjust="spacingAndGlyphs">120°W</tspan></text>
<text transform="translate(1701.55,622.67) rotate(-45)" font-size="22.90" stroke="#000" stroke-width="0.25" dy="8.1"><tspan x="-36.18" y="0" textLength="72.37" lengthAdjust="spacingAndGlyphs">117°W</tspan></text>
<text transform="translate(1735.40,622.67) rotate(-45)" font-size="22.90" stroke="#000" stroke-width="0.25" dy="8.1"><tspan x="-36.18" y="0" textLength="72.37" lengthAdjust="spacingAndGlyphs">114°W</tspan></text>
<text transform="translate(1769.25,622.67) rotate(-45)" font-size="22.90" stroke="#000" stroke-width="0.25" dy="8.1"><tspan x="-36.18" y="0" textLength="72.37" lengthAdjust="spacingAndGlyphs">111°W</tspan></text>
<text transform="translate(1803.10,622.67) rotate(-45)" font-size="22.90" stroke="#000" stroke-width="0.25" dy="8.1"><tspan x="-36.18" y="0" textLength="72.37" lengthAdjust="spacingAndGlyphs">108°W</tspan></text>
<text transform="translate(1836.95,622.67) rotate(-45)" font-size="22.90" stroke="#000" stroke-width="0.25" dy="8.1"><tspan x="-36.18" y="0" textLength="72.37" lengthAdjust="spacingAndGlyphs">105°W</tspan></text>
<text transform="translate(1870.80,622.67) rotate(-45)" font-size="22.90" stroke="#000" stroke-width="0.25" dy="8.1"><tspan x="-36.18" y="0" textLength="72.37" lengthAdjust="spacingAndGlyphs">102°W</tspan></text>
<text transform="translate(1904.65,617.88) rotate(-45)" font-size="22.90" stroke="#000" stroke-width="0.25" dy="8.1"><tspan x="-29.41" y="0" textLength="58.81" lengthAdjust="spacingAndGlyphs">99°W</tspan></text>
<rect x="1683.2" y="664.9" width="164.3" height="144.0" rx="4.2" fill="#fff" fill-opacity="0.8" stroke="#cccccc" stroke-width="1.9"/>
<path d="M1691.2 684.5H1738.8" stroke="#0000ff" stroke-width="3.1" fill="none"/>
<circle cx="1715" cy="684.5" r="6.0" fill="#0000ff"/>
<text transform="translate(1755.30,692.60)" font-size="23.65" stroke="#000" stroke-width="0.25"><tspan x="0.00" y="0" textLength="67.42" lengthAdjust="spacingAndGlyphs">sp013</tspan></text>
<path d="M1691.2 718.5H1738.8" stroke="#ff0000" stroke-width="3.1" fill="none"/>
<circle cx="1715" cy="718.5" r="6.0" fill="#ff0000"/>
<text transform="translate(1755.30,726.60)" font-size="23.65" stroke="#000" stroke-width="0.25"><tspan x="0.00" y="0" textLength="72.66" lengthAdjust="spacingAndGlyphs">RTOFS</tspan></text>
<path d="M1691.2 752.5H1738.8" stroke="#008000" stroke-width="3.1" fill="none"/>
<circle cx="1715" cy="752.5" r="6.0" fill="#008000"/>
<text transform="translate(1755.30,760.60)" font-size="23.65" stroke="#000" stroke-width="0.25"><tspan x="0.00" y="0" textLength="56.49" lengthAdjust="spacingAndGlyphs">ESPC</tspan></text>
<path d="M1691.2 787.4H1738.8" stroke="#ff00ff" stroke-width="3.1" fill="none"/>
<circle cx="1715" cy="787.4" r="6.0" fill="#ff00ff"/>
<text transform="translate(1755.30,795.50)" font-size="23.65" stroke="#000" stroke-width="0.25"><tspan x="0.00" y="0" textLength="81.19" lengthAdjust="spacingAndGlyphs">CMEMS</tspan></text>
</svg>
</body></html>
